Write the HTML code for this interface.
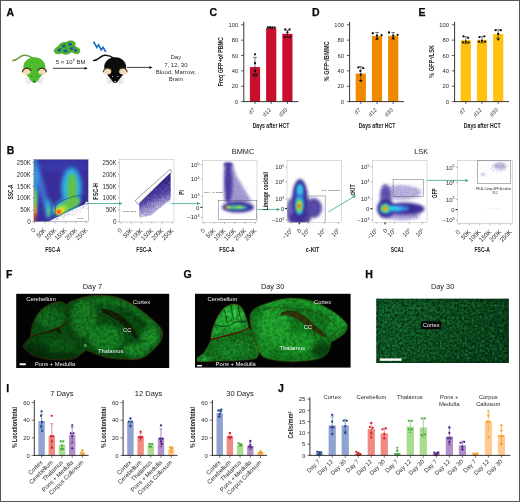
<!DOCTYPE html>
<html><head><meta charset="utf-8"><title>Figure</title>
<style>
html,body{margin:0;padding:0;background:#fff;}
svg{display:block;font-family:"Liberation Sans", sans-serif;}
</style></head><body>
<svg width="520" height="502" viewBox="0 0 520 502">
<rect x="0" y="0" width="520" height="502" fill="#fff"/>
<text transform="translate(6.40,15.80)" font-size="10.5" text-anchor="start" font-weight="bold" fill="#0a0a0a" stroke="#0a0a0a" stroke-width="0.25">A</text>
<g transform="translate(34.4,57.2)">
<path d="M-21.6,3.2 C-17,3.6 -15,-1.6 -10.6,-2.0 C-6.6,-2.4 -3.4,-0.6 -0.8,1.4" fill="none" stroke="#6b9b3a" stroke-width="1.5" stroke-linecap="round"/>
<path d="M0,0 C6.5,0 11.0,4.5 11.0,10 C11.0,15 6,19.5 2.8,24 C1.5,26.2 -1.5,26.2 -2.8,24 C-6,19.5 -11.0,15 -11.0,10 C-11.0,4.5 -6.5,0 0,0 Z" fill="#4dbb2c"/>
<ellipse cx="-7.8" cy="14.4" rx="3.9" ry="3.1" fill="#f0dcb4" transform="rotate(-14 -7.8 14.4)"/>
<path d="M-11.9,14.6 C-11.4,10.4 -5.6,9.8 -3.6,13.2" fill="none" stroke="#3a2a18" stroke-width="1.15" stroke-linecap="round"/>
<ellipse cx="7.8" cy="14.4" rx="3.9" ry="3.1" fill="#f0dcb4" transform="rotate(14 7.8 14.4)"/>
<path d="M11.9,14.6 C11.4,10.4 5.6,9.8 3.6,13.2" fill="none" stroke="#3a2a18" stroke-width="1.15" stroke-linecap="round"/>
<circle cx="-2.60" cy="19.40" r="0.5" fill="#1d5e10" />
<circle cx="2.60" cy="19.40" r="0.5" fill="#1d5e10" />
<circle cx="0.00" cy="24.30" r="0.75" fill="#1a1a1a" />
<path d="M-3.2,22.6 L-9.2,21.2 M-3.2,23.2 L-8.8,24.6 M-3.0,23.8 L-7.2,26.8" stroke="#8f8f8f" stroke-width="0.4" fill="none"/>
<path d="M3.2,22.6 L9.2,21.2 M3.2,23.2 L8.8,24.6 M3.0,23.8 L7.2,26.8" stroke="#8f8f8f" stroke-width="0.4" fill="none"/>
</g>
<g transform="translate(115.2,57.2)">
<path d="M-21.6,3.2 C-17,3.6 -15,-1.6 -10.6,-2.0 C-6.6,-2.4 -3.4,-0.6 -0.8,1.4" fill="none" stroke="#111111" stroke-width="1.5" stroke-linecap="round"/>
<path d="M0,0 C6.5,0 11.0,4.5 11.0,10 C11.0,15 6,19.5 2.8,24 C1.5,26.2 -1.5,26.2 -2.8,24 C-6,19.5 -11.0,15 -11.0,10 C-11.0,4.5 -6.5,0 0,0 Z" fill="#0b0b0b"/>
<ellipse cx="-7.8" cy="14.4" rx="3.9" ry="3.1" fill="#f0dcb4" transform="rotate(-14 -7.8 14.4)"/>
<path d="M-11.9,14.6 C-11.4,10.4 -5.6,9.8 -3.6,13.2" fill="none" stroke="#5a4028" stroke-width="1.15" stroke-linecap="round"/>
<ellipse cx="7.8" cy="14.4" rx="3.9" ry="3.1" fill="#f0dcb4" transform="rotate(14 7.8 14.4)"/>
<path d="M11.9,14.6 C11.4,10.4 5.6,9.8 3.6,13.2" fill="none" stroke="#5a4028" stroke-width="1.15" stroke-linecap="round"/>
<circle cx="-2.60" cy="19.40" r="0.5" fill="#ffffff" />
<circle cx="2.60" cy="19.40" r="0.5" fill="#ffffff" />
<circle cx="0.00" cy="24.30" r="0.75" fill="#f4c9c9" />
<path d="M-3.2,22.6 L-9.2,21.2 M-3.2,23.2 L-8.8,24.6 M-3.0,23.8 L-7.2,26.8" stroke="#8f8f8f" stroke-width="0.4" fill="none"/>
<path d="M3.2,22.6 L9.2,21.2 M3.2,23.2 L8.8,24.6 M3.0,23.8 L7.2,26.8" stroke="#8f8f8f" stroke-width="0.4" fill="none"/>
</g>
<ellipse cx="59.4" cy="50.0" rx="5.4" ry="3.5" fill="#4dbb2c" stroke="#37962a" stroke-width="0.6" transform="rotate(-20 59.4 50.0)"/>
<ellipse cx="63.6" cy="46.0" rx="5.0" ry="3.4" fill="#4dbb2c" stroke="#37962a" stroke-width="0.6" transform="rotate(-15 63.6 46.0)"/>
<ellipse cx="70.0" cy="44.2" rx="5.4" ry="3.3" fill="#4dbb2c" stroke="#37962a" stroke-width="0.6" transform="rotate(-8 70.0 44.2)"/>
<ellipse cx="65.4" cy="51.0" rx="5.6" ry="3.2" fill="#4dbb2c" stroke="#37962a" stroke-width="0.6" transform="rotate(5 65.4 51.0)"/>
<ellipse cx="71.4" cy="48.6" rx="5.2" ry="3.3" fill="#4dbb2c" stroke="#37962a" stroke-width="0.6" transform="rotate(-5 71.4 48.6)"/>
<ellipse cx="75.6" cy="50.4" rx="4.4" ry="3.2" fill="#4dbb2c" stroke="#37962a" stroke-width="0.6" transform="rotate(15 75.6 50.4)"/>
<ellipse cx="59.4" cy="50.0" rx="2.16" ry="1.61" fill="#27589b" transform="rotate(-20 59.4 50.0)"/>
<ellipse cx="63.6" cy="46.0" rx="2.00" ry="1.56" fill="#27589b" transform="rotate(-15 63.6 46.0)"/>
<ellipse cx="70.0" cy="44.2" rx="2.16" ry="1.52" fill="#27589b" transform="rotate(-8 70.0 44.2)"/>
<ellipse cx="65.4" cy="51.0" rx="2.24" ry="1.47" fill="#27589b" transform="rotate(5 65.4 51.0)"/>
<ellipse cx="71.4" cy="48.6" rx="2.08" ry="1.52" fill="#27589b" transform="rotate(-5 71.4 48.6)"/>
<ellipse cx="75.6" cy="50.4" rx="1.76" ry="1.47" fill="#27589b" transform="rotate(15 75.6 50.4)"/>
<text transform="translate(70.60,63.80)" font-size="6.0" text-anchor="middle" font-weight="normal" fill="#2e2e2e" >5 × 10<tspan font-size="3.8" dy="-2.4">6</tspan><tspan dy="2.4"> BM</tspan></text>
<line x1="53.00" y1="68.30" x2="84.90" y2="68.30" stroke="#111" stroke-width="0.8" />
<polygon points="87.80,68.30 84.60,69.80 84.60,66.80" fill="#111"/>
<polyline points="93.6,41.6 96.8,47.4 98.6,44.8 101.2,49.8 103.0,47.2 105.8,51.8" fill="none" stroke="#1f6fbf" stroke-width="1.7" stroke-linejoin="miter"/>
<line x1="127.00" y1="67.40" x2="149.70" y2="67.40" stroke="#111" stroke-width="0.8" />
<polygon points="152.60,67.40 149.40,68.90 149.40,65.90" fill="#111"/>
<text transform="translate(175.80,59.20)" font-size="6.0" text-anchor="middle" font-weight="normal" fill="#2e2e2e" >Day</text>
<text transform="translate(175.80,66.55)" font-size="6.0" text-anchor="middle" font-weight="normal" fill="#2e2e2e" >7, 12, 30</text>
<text transform="translate(175.80,73.90)" font-size="6.0" text-anchor="middle" font-weight="normal" fill="#2e2e2e" >Blood, Marrow,</text>
<text transform="translate(175.80,81.25)" font-size="6.0" text-anchor="middle" font-weight="normal" fill="#2e2e2e" >Brain</text>
<text transform="translate(209.50,15.80)" font-size="10.5" text-anchor="start" font-weight="bold" fill="#0a0a0a" stroke="#0a0a0a" stroke-width="0.25">C</text>
<rect x="249.90" y="67.04" width="10.20" height="34.56" fill="#c8102e" stroke="none" stroke-width="0.5" />
<line x1="255.00" y1="57.44" x2="255.00" y2="76.64" stroke="#111" stroke-width="0.55" />
<line x1="253.10" y1="57.44" x2="256.90" y2="57.44" stroke="#111" stroke-width="0.55" />
<line x1="253.10" y1="76.64" x2="256.90" y2="76.64" stroke="#111" stroke-width="0.55" />
<circle cx="255.00" cy="54.37" r="1.15" fill="#111" />
<circle cx="255.00" cy="63.20" r="1.15" fill="#111" />
<circle cx="253.60" cy="74.72" r="1.15" fill="#111" />
<circle cx="256.60" cy="74.72" r="1.15" fill="#111" />
<circle cx="255.00" cy="70.88" r="1.15" fill="#111" />
<line x1="255.00" y1="101.60" x2="255.00" y2="104.00" stroke="#231f20" stroke-width="0.7" />
<rect x="266.10" y="28.10" width="10.20" height="73.50" fill="#c8102e" stroke="none" stroke-width="0.5" />
<line x1="271.20" y1="27.49" x2="271.20" y2="28.72" stroke="#111" stroke-width="0.55" />
<line x1="269.30" y1="27.49" x2="273.10" y2="27.49" stroke="#111" stroke-width="0.55" />
<line x1="269.30" y1="28.72" x2="273.10" y2="28.72" stroke="#111" stroke-width="0.55" />
<circle cx="267.90" cy="27.49" r="1.15" fill="#111" />
<circle cx="270.10" cy="27.26" r="1.15" fill="#111" />
<circle cx="272.40" cy="27.49" r="1.15" fill="#111" />
<circle cx="274.60" cy="27.41" r="1.15" fill="#111" />
<line x1="271.20" y1="101.60" x2="271.20" y2="104.00" stroke="#231f20" stroke-width="0.7" />
<rect x="282.30" y="33.86" width="10.20" height="67.74" fill="#c8102e" stroke="none" stroke-width="0.5" />
<line x1="287.40" y1="30.41" x2="287.40" y2="37.32" stroke="#111" stroke-width="0.55" />
<line x1="285.50" y1="30.41" x2="289.30" y2="30.41" stroke="#111" stroke-width="0.55" />
<line x1="285.50" y1="37.32" x2="289.30" y2="37.32" stroke="#111" stroke-width="0.55" />
<circle cx="285.20" cy="29.41" r="1.15" fill="#111" />
<circle cx="289.60" cy="29.41" r="1.15" fill="#111" />
<circle cx="287.40" cy="32.48" r="1.15" fill="#111" />
<circle cx="284.80" cy="37.09" r="1.15" fill="#111" />
<circle cx="290.00" cy="37.09" r="1.15" fill="#111" />
<line x1="287.40" y1="101.60" x2="287.40" y2="104.00" stroke="#231f20" stroke-width="0.7" />
<line x1="243.80" y1="21.80" x2="243.80" y2="102.05" stroke="#231f20" stroke-width="0.9" />
<line x1="243.35" y1="101.60" x2="298.30" y2="101.60" stroke="#231f20" stroke-width="0.9" />
<line x1="241.00" y1="101.60" x2="243.80" y2="101.60" stroke="#231f20" stroke-width="0.7" />
<text transform="translate(238.20,103.70)" font-size="5.8" text-anchor="end" font-weight="normal" fill="#2a2a2a" >0</text>
<line x1="241.00" y1="86.24" x2="243.80" y2="86.24" stroke="#231f20" stroke-width="0.7" />
<text transform="translate(238.20,88.34)" font-size="5.8" text-anchor="end" font-weight="normal" fill="#2a2a2a" >20</text>
<line x1="241.00" y1="70.88" x2="243.80" y2="70.88" stroke="#231f20" stroke-width="0.7" />
<text transform="translate(238.20,72.98)" font-size="5.8" text-anchor="end" font-weight="normal" fill="#2a2a2a" >40</text>
<line x1="241.00" y1="55.52" x2="243.80" y2="55.52" stroke="#231f20" stroke-width="0.7" />
<text transform="translate(238.20,57.62)" font-size="5.8" text-anchor="end" font-weight="normal" fill="#2a2a2a" >60</text>
<line x1="241.00" y1="40.16" x2="243.80" y2="40.16" stroke="#231f20" stroke-width="0.7" />
<text transform="translate(238.20,42.26)" font-size="5.8" text-anchor="end" font-weight="normal" fill="#2a2a2a" >80</text>
<line x1="241.00" y1="24.80" x2="243.80" y2="24.80" stroke="#231f20" stroke-width="0.7" />
<text transform="translate(238.20,26.90)" font-size="5.8" text-anchor="end" font-weight="normal" fill="#2a2a2a" >100</text>
<text transform="translate(255.20,110.40) rotate(-45)" font-size="5.6" text-anchor="end" font-weight="normal" fill="#2a2a2a" >d7</text>
<text transform="translate(271.40,110.40) rotate(-45)" font-size="5.6" text-anchor="end" font-weight="normal" fill="#2a2a2a" >d12</text>
<text transform="translate(287.60,110.40) rotate(-45)" font-size="5.6" text-anchor="end" font-weight="normal" fill="#2a2a2a" >d30</text>
<text transform="translate(271.00,128.20)" font-size="7.4" text-anchor="middle" font-weight="bold" fill="#222"  textLength="36.7" lengthAdjust="spacingAndGlyphs">Days after HCT</text>
<text transform="translate(223.40,61.70) rotate(-90)" font-size="6.9" text-anchor="middle" font-weight="bold" fill="#222"  textLength="49" lengthAdjust="spacingAndGlyphs">Freq GFP+of PBMC</text>
<text transform="translate(312.00,15.80)" font-size="10.5" text-anchor="start" font-weight="bold" fill="#0a0a0a" stroke="#0a0a0a" stroke-width="0.25">D</text>
<rect x="355.70" y="73.57" width="10.20" height="28.03" fill="#ef8a00" stroke="none" stroke-width="0.5" />
<line x1="360.80" y1="66.66" x2="360.80" y2="80.48" stroke="#111" stroke-width="0.55" />
<line x1="358.90" y1="66.66" x2="362.70" y2="66.66" stroke="#111" stroke-width="0.55" />
<line x1="358.90" y1="80.48" x2="362.70" y2="80.48" stroke="#111" stroke-width="0.55" />
<circle cx="358.40" cy="67.42" r="1.15" fill="#111" />
<circle cx="363.20" cy="68.19" r="1.15" fill="#111" />
<circle cx="360.80" cy="74.72" r="1.15" fill="#111" />
<circle cx="360.80" cy="80.86" r="1.15" fill="#111" />
<circle cx="360.30" cy="70.88" r="1.15" fill="#111" />
<line x1="360.80" y1="101.60" x2="360.80" y2="104.00" stroke="#231f20" stroke-width="0.7" />
<rect x="371.90" y="35.94" width="10.20" height="65.66" fill="#ef8a00" stroke="none" stroke-width="0.5" />
<line x1="377.00" y1="32.48" x2="377.00" y2="39.39" stroke="#111" stroke-width="0.55" />
<line x1="375.10" y1="32.48" x2="378.90" y2="32.48" stroke="#111" stroke-width="0.55" />
<line x1="375.10" y1="39.39" x2="378.90" y2="39.39" stroke="#111" stroke-width="0.55" />
<circle cx="372.80" cy="33.25" r="1.15" fill="#111" />
<circle cx="377.00" cy="38.62" r="1.15" fill="#111" />
<circle cx="381.60" cy="35.17" r="1.15" fill="#111" />
<circle cx="377.00" cy="35.55" r="1.15" fill="#111" />
<line x1="377.00" y1="101.60" x2="377.00" y2="104.00" stroke="#231f20" stroke-width="0.7" />
<rect x="388.10" y="35.78" width="10.20" height="65.82" fill="#ef8a00" stroke="none" stroke-width="0.5" />
<line x1="393.20" y1="32.56" x2="393.20" y2="39.01" stroke="#111" stroke-width="0.55" />
<line x1="391.30" y1="32.56" x2="395.10" y2="32.56" stroke="#111" stroke-width="0.55" />
<line x1="391.30" y1="39.01" x2="395.10" y2="39.01" stroke="#111" stroke-width="0.55" />
<circle cx="389.00" cy="32.48" r="1.15" fill="#111" />
<circle cx="393.20" cy="38.24" r="1.15" fill="#111" />
<circle cx="397.60" cy="34.78" r="1.15" fill="#111" />
<circle cx="393.20" cy="35.55" r="1.15" fill="#111" />
<line x1="393.20" y1="101.60" x2="393.20" y2="104.00" stroke="#231f20" stroke-width="0.7" />
<line x1="349.60" y1="21.80" x2="349.60" y2="102.05" stroke="#231f20" stroke-width="0.9" />
<line x1="349.15" y1="101.60" x2="404.00" y2="101.60" stroke="#231f20" stroke-width="0.9" />
<line x1="346.80" y1="101.60" x2="349.60" y2="101.60" stroke="#231f20" stroke-width="0.7" />
<text transform="translate(344.00,103.70)" font-size="5.8" text-anchor="end" font-weight="normal" fill="#2a2a2a" >0</text>
<line x1="346.80" y1="86.24" x2="349.60" y2="86.24" stroke="#231f20" stroke-width="0.7" />
<text transform="translate(344.00,88.34)" font-size="5.8" text-anchor="end" font-weight="normal" fill="#2a2a2a" >20</text>
<line x1="346.80" y1="70.88" x2="349.60" y2="70.88" stroke="#231f20" stroke-width="0.7" />
<text transform="translate(344.00,72.98)" font-size="5.8" text-anchor="end" font-weight="normal" fill="#2a2a2a" >40</text>
<line x1="346.80" y1="55.52" x2="349.60" y2="55.52" stroke="#231f20" stroke-width="0.7" />
<text transform="translate(344.00,57.62)" font-size="5.8" text-anchor="end" font-weight="normal" fill="#2a2a2a" >60</text>
<line x1="346.80" y1="40.16" x2="349.60" y2="40.16" stroke="#231f20" stroke-width="0.7" />
<text transform="translate(344.00,42.26)" font-size="5.8" text-anchor="end" font-weight="normal" fill="#2a2a2a" >80</text>
<line x1="346.80" y1="24.80" x2="349.60" y2="24.80" stroke="#231f20" stroke-width="0.7" />
<text transform="translate(344.00,26.90)" font-size="5.8" text-anchor="end" font-weight="normal" fill="#2a2a2a" >100</text>
<text transform="translate(361.00,110.40) rotate(-45)" font-size="5.6" text-anchor="end" font-weight="normal" fill="#2a2a2a" >d7</text>
<text transform="translate(377.20,110.40) rotate(-45)" font-size="5.6" text-anchor="end" font-weight="normal" fill="#2a2a2a" >d12</text>
<text transform="translate(393.40,110.40) rotate(-45)" font-size="5.6" text-anchor="end" font-weight="normal" fill="#2a2a2a" >d30</text>
<text transform="translate(377.00,128.20)" font-size="7.4" text-anchor="middle" font-weight="bold" fill="#222"  textLength="36.7" lengthAdjust="spacingAndGlyphs">Days after HCT</text>
<text transform="translate(328.90,61.40) rotate(-90)" font-size="6.9" text-anchor="middle" font-weight="bold" fill="#222"  textLength="40" lengthAdjust="spacingAndGlyphs">% GFP<tspan font-size="4.4" dy="-2.4">+</tspan><tspan dy="2.4">/BMMC</tspan></text>
<text transform="translate(418.60,15.80)" font-size="10.5" text-anchor="start" font-weight="bold" fill="#0a0a0a" stroke="#0a0a0a" stroke-width="0.25">E</text>
<rect x="460.70" y="40.16" width="10.20" height="61.44" fill="#ffc20e" stroke="none" stroke-width="0.5" />
<line x1="465.80" y1="36.70" x2="465.80" y2="43.62" stroke="#111" stroke-width="0.55" />
<line x1="463.90" y1="36.70" x2="467.70" y2="36.70" stroke="#111" stroke-width="0.55" />
<line x1="463.90" y1="43.62" x2="467.70" y2="43.62" stroke="#111" stroke-width="0.55" />
<circle cx="463.40" cy="36.32" r="1.15" fill="#111" />
<circle cx="468.20" cy="37.86" r="1.15" fill="#111" />
<circle cx="465.80" cy="41.70" r="1.15" fill="#111" />
<circle cx="463.00" cy="42.46" r="1.15" fill="#111" />
<circle cx="468.60" cy="42.46" r="1.15" fill="#111" />
<line x1="465.80" y1="101.60" x2="465.80" y2="104.00" stroke="#231f20" stroke-width="0.7" />
<rect x="476.90" y="39.78" width="10.20" height="61.82" fill="#ffc20e" stroke="none" stroke-width="0.5" />
<line x1="482.00" y1="36.70" x2="482.00" y2="42.85" stroke="#111" stroke-width="0.55" />
<line x1="480.10" y1="36.70" x2="483.90" y2="36.70" stroke="#111" stroke-width="0.55" />
<line x1="480.10" y1="42.85" x2="483.90" y2="42.85" stroke="#111" stroke-width="0.55" />
<circle cx="479.40" cy="37.09" r="1.15" fill="#111" />
<circle cx="484.40" cy="36.32" r="1.15" fill="#111" />
<circle cx="482.00" cy="40.93" r="1.15" fill="#111" />
<circle cx="479.00" cy="41.70" r="1.15" fill="#111" />
<circle cx="485.00" cy="41.70" r="1.15" fill="#111" />
<line x1="482.00" y1="101.60" x2="482.00" y2="104.00" stroke="#231f20" stroke-width="0.7" />
<rect x="493.10" y="34.02" width="10.20" height="67.58" fill="#ffc20e" stroke="none" stroke-width="0.5" />
<line x1="498.20" y1="29.79" x2="498.20" y2="38.24" stroke="#111" stroke-width="0.55" />
<line x1="496.30" y1="29.79" x2="500.10" y2="29.79" stroke="#111" stroke-width="0.55" />
<line x1="496.30" y1="38.24" x2="500.10" y2="38.24" stroke="#111" stroke-width="0.55" />
<circle cx="495.60" cy="30.18" r="1.15" fill="#111" />
<circle cx="500.80" cy="30.18" r="1.15" fill="#111" />
<circle cx="498.20" cy="34.02" r="1.15" fill="#111" />
<circle cx="498.20" cy="39.39" r="1.15" fill="#111" />
<line x1="498.20" y1="101.60" x2="498.20" y2="104.00" stroke="#231f20" stroke-width="0.7" />
<line x1="454.60" y1="21.80" x2="454.60" y2="102.05" stroke="#231f20" stroke-width="0.9" />
<line x1="454.15" y1="101.60" x2="509.00" y2="101.60" stroke="#231f20" stroke-width="0.9" />
<line x1="451.80" y1="101.60" x2="454.60" y2="101.60" stroke="#231f20" stroke-width="0.7" />
<text transform="translate(449.00,103.70)" font-size="5.8" text-anchor="end" font-weight="normal" fill="#2a2a2a" >0</text>
<line x1="451.80" y1="86.24" x2="454.60" y2="86.24" stroke="#231f20" stroke-width="0.7" />
<text transform="translate(449.00,88.34)" font-size="5.8" text-anchor="end" font-weight="normal" fill="#2a2a2a" >20</text>
<line x1="451.80" y1="70.88" x2="454.60" y2="70.88" stroke="#231f20" stroke-width="0.7" />
<text transform="translate(449.00,72.98)" font-size="5.8" text-anchor="end" font-weight="normal" fill="#2a2a2a" >40</text>
<line x1="451.80" y1="55.52" x2="454.60" y2="55.52" stroke="#231f20" stroke-width="0.7" />
<text transform="translate(449.00,57.62)" font-size="5.8" text-anchor="end" font-weight="normal" fill="#2a2a2a" >60</text>
<line x1="451.80" y1="40.16" x2="454.60" y2="40.16" stroke="#231f20" stroke-width="0.7" />
<text transform="translate(449.00,42.26)" font-size="5.8" text-anchor="end" font-weight="normal" fill="#2a2a2a" >80</text>
<line x1="451.80" y1="24.80" x2="454.60" y2="24.80" stroke="#231f20" stroke-width="0.7" />
<text transform="translate(449.00,26.90)" font-size="5.8" text-anchor="end" font-weight="normal" fill="#2a2a2a" >100</text>
<text transform="translate(466.00,110.40) rotate(-45)" font-size="5.6" text-anchor="end" font-weight="normal" fill="#2a2a2a" >d7</text>
<text transform="translate(482.20,110.40) rotate(-45)" font-size="5.6" text-anchor="end" font-weight="normal" fill="#2a2a2a" >d12</text>
<text transform="translate(498.40,110.40) rotate(-45)" font-size="5.6" text-anchor="end" font-weight="normal" fill="#2a2a2a" >d30</text>
<text transform="translate(482.20,128.20)" font-size="7.4" text-anchor="middle" font-weight="bold" fill="#222"  textLength="36.7" lengthAdjust="spacingAndGlyphs">Days after HCT</text>
<text transform="translate(434.00,61.40) rotate(-90)" font-size="6.9" text-anchor="middle" font-weight="bold" fill="#222"  textLength="32.8" lengthAdjust="spacingAndGlyphs">% GFP<tspan font-size="4.4" dy="-2.4">+</tspan><tspan dy="2.4">/LSK</tspan></text>
<defs>
<filter color-interpolation-filters="sRGB" id="b05" x="-30%" y="-30%" width="160%" height="160%"><feGaussianBlur stdDeviation="0.5"/></filter>
<filter color-interpolation-filters="sRGB" id="b1" x="-30%" y="-30%" width="160%" height="160%"><feGaussianBlur stdDeviation="1"/></filter>
<filter color-interpolation-filters="sRGB" id="b15" x="-30%" y="-30%" width="160%" height="160%"><feGaussianBlur stdDeviation="1.5"/></filter>
<filter color-interpolation-filters="sRGB" id="b2" x="-40%" y="-40%" width="180%" height="180%"><feGaussianBlur stdDeviation="2"/></filter>
<filter color-interpolation-filters="sRGB" id="b3" x="-50%" y="-50%" width="200%" height="200%"><feGaussianBlur stdDeviation="3"/></filter>
<filter color-interpolation-filters="sRGB" id="b4" x="-50%" y="-50%" width="200%" height="200%"><feGaussianBlur stdDeviation="4"/></filter>
</defs>
<text transform="translate(6.80,154.10)" font-size="10.5" text-anchor="start" font-weight="bold" fill="#0a0a0a" stroke="#0a0a0a" stroke-width="0.25">B</text>
<clipPath id="cp1"><rect x="33.8" y="159.3" width="54.60000000000001" height="62.5"/></clipPath>
<g clip-path="url(#cp1)">
<rect x="33.80" y="159.30" width="54.60" height="62.50" fill="#3a2c9c" stroke="none" stroke-width="0.5" />
<g filter="url(#b2)">
<ellipse cx="62" cy="166" rx="26" ry="6" fill="#3545b6" opacity="0.5"/>
<ellipse cx="35.0" cy="184" rx="2.2" ry="30" fill="#38bde8" opacity="1"/>
<ellipse cx="42.5" cy="190" rx="2.6" ry="27" fill="#3a8fe0" opacity="0.85" transform="rotate(-13 42.5 190)"/>
<ellipse cx="48.4" cy="209" rx="2.4" ry="10" fill="#35c5e8" opacity="1"/>
<ellipse cx="71.5" cy="188" rx="10.0" ry="20" fill="#2fb6e6" opacity="1"/>
<ellipse cx="66" cy="207" rx="14" ry="8" fill="#2fb6e6" opacity="1" transform="rotate(-22 66 207)"/>
</g>
<g filter="url(#b1)">
<ellipse cx="35.2" cy="203" rx="1.7" ry="15" fill="#7fd14a" opacity="1"/>
<ellipse cx="34.9" cy="213" rx="1.5" ry="9" fill="#f2a020" opacity="1"/>
<ellipse cx="34.7" cy="217.6" rx="1.2" ry="4.6" fill="#e83a1a" opacity="1"/>
<ellipse cx="48.4" cy="211.6" rx="1.1" ry="5.4" fill="#63c76a" opacity="1"/>
<ellipse cx="72.0" cy="189" rx="4.8" ry="15.5" fill="#63c04a" opacity="1"/>
<ellipse cx="69.5" cy="204.5" rx="11.5" ry="5.0" fill="#63c04a" opacity="1" transform="rotate(-24 69.5 204.5)"/>
<ellipse cx="61.0" cy="210.0" rx="7.2" ry="4.8" fill="#94da48" opacity="1" transform="rotate(-20 61.0 210.0)"/>
<ellipse cx="59.6" cy="211.1" rx="4.6" ry="3.5" fill="#f4e020" opacity="1" transform="rotate(-15 59.6 211.1)"/>
<ellipse cx="58.9" cy="211.7" rx="2.3" ry="2.0" fill="#e8301a" opacity="1"/>
</g>
<path d="M47,222.5 L54,218.6 L88.6,202.6 L88.6,222.5 Z" fill="#fff" filter="url(#b05)"/>
<circle cx="62.31" cy="217.47" r="0.28" fill="#5b46b0" opacity="0.8"/>
<circle cx="70.36" cy="212.28" r="0.28" fill="#5b46b0" opacity="0.8"/>
<circle cx="69.28" cy="212.85" r="0.28" fill="#5b46b0" opacity="0.8"/>
<circle cx="51.42" cy="221.28" r="0.28" fill="#5b46b0" opacity="0.8"/>
<circle cx="53.45" cy="219.88" r="0.28" fill="#5b46b0" opacity="0.8"/>
<circle cx="66.13" cy="214.25" r="0.28" fill="#5b46b0" opacity="0.8"/>
<circle cx="58.48" cy="218.29" r="0.28" fill="#5b46b0" opacity="0.8"/>
<circle cx="73.84" cy="213.11" r="0.28" fill="#5b46b0" opacity="0.8"/>
<circle cx="65.07" cy="215.18" r="0.28" fill="#5b46b0" opacity="0.8"/>
<circle cx="87.10" cy="208.58" r="0.28" fill="#5b46b0" opacity="0.8"/>
<circle cx="61.01" cy="217.41" r="0.28" fill="#5b46b0" opacity="0.8"/>
<circle cx="55.48" cy="220.10" r="0.28" fill="#5b46b0" opacity="0.8"/>
<circle cx="81.01" cy="208.22" r="0.28" fill="#5b46b0" opacity="0.8"/>
<circle cx="56.87" cy="220.93" r="0.28" fill="#5b46b0" opacity="0.8"/>
<circle cx="64.15" cy="216.27" r="0.28" fill="#5b46b0" opacity="0.8"/>
<circle cx="70.81" cy="212.30" r="0.28" fill="#5b46b0" opacity="0.8"/>
<circle cx="57.83" cy="217.82" r="0.28" fill="#5b46b0" opacity="0.8"/>
<circle cx="75.86" cy="211.08" r="0.28" fill="#5b46b0" opacity="0.8"/>
<circle cx="72.25" cy="211.78" r="0.28" fill="#5b46b0" opacity="0.8"/>
<circle cx="67.22" cy="214.49" r="0.28" fill="#5b46b0" opacity="0.8"/>
<circle cx="76.56" cy="212.94" r="0.28" fill="#5b46b0" opacity="0.8"/>
<circle cx="59.28" cy="219.45" r="0.28" fill="#5b46b0" opacity="0.8"/>
<circle cx="83.26" cy="207.12" r="0.28" fill="#5b46b0" opacity="0.8"/>
<circle cx="77.72" cy="209.94" r="0.28" fill="#5b46b0" opacity="0.8"/>
<circle cx="65.89" cy="213.85" r="0.28" fill="#5b46b0" opacity="0.8"/>
<circle cx="68.58" cy="213.93" r="0.28" fill="#5b46b0" opacity="0.8"/>
<circle cx="71.77" cy="214.64" r="0.28" fill="#5b46b0" opacity="0.8"/>
<circle cx="83.27" cy="207.24" r="0.28" fill="#5b46b0" opacity="0.8"/>
<circle cx="72.59" cy="214.12" r="0.28" fill="#5b46b0" opacity="0.8"/>
<circle cx="72.04" cy="215.39" r="0.28" fill="#5b46b0" opacity="0.8"/>
<circle cx="85.90" cy="205.84" r="0.28" fill="#5b46b0" opacity="0.8"/>
<circle cx="68.02" cy="213.25" r="0.28" fill="#5b46b0" opacity="0.8"/>
<circle cx="76.66" cy="209.57" r="0.28" fill="#5b46b0" opacity="0.8"/>
<circle cx="74.59" cy="214.24" r="0.28" fill="#5b46b0" opacity="0.8"/>
<circle cx="60.81" cy="216.32" r="0.28" fill="#5b46b0" opacity="0.8"/>
<circle cx="64.66" cy="214.61" r="0.28" fill="#5b46b0" opacity="0.8"/>
<circle cx="67.54" cy="213.48" r="0.28" fill="#5b46b0" opacity="0.8"/>
<circle cx="56.39" cy="218.78" r="0.28" fill="#5b46b0" opacity="0.8"/>
<circle cx="79.19" cy="208.23" r="0.28" fill="#5b46b0" opacity="0.8"/>
<circle cx="54.91" cy="218.87" r="0.28" fill="#5b46b0" opacity="0.8"/>
<circle cx="83.11" cy="208.26" r="0.28" fill="#5b46b0" opacity="0.8"/>
<circle cx="83.57" cy="206.61" r="0.28" fill="#5b46b0" opacity="0.8"/>
<circle cx="81.13" cy="208.05" r="0.28" fill="#5b46b0" opacity="0.8"/>
<circle cx="65.78" cy="215.30" r="0.28" fill="#5b46b0" opacity="0.8"/>
<circle cx="63.63" cy="219.34" r="0.28" fill="#5b46b0" opacity="0.8"/>
<circle cx="56.70" cy="218.22" r="0.28" fill="#5b46b0" opacity="0.8"/>
<circle cx="68.43" cy="214.36" r="0.28" fill="#5b46b0" opacity="0.8"/>
<circle cx="72.39" cy="210.82" r="0.28" fill="#5b46b0" opacity="0.8"/>
<circle cx="65.92" cy="213.99" r="0.28" fill="#5b46b0" opacity="0.8"/>
<circle cx="64.03" cy="220.07" r="0.28" fill="#5b46b0" opacity="0.8"/>
<circle cx="76.24" cy="211.43" r="0.28" fill="#5b46b0" opacity="0.8"/>
<circle cx="69.59" cy="214.75" r="0.28" fill="#5b46b0" opacity="0.8"/>
<circle cx="84.18" cy="206.29" r="0.28" fill="#5b46b0" opacity="0.8"/>
<circle cx="80.32" cy="211.96" r="0.28" fill="#5b46b0" opacity="0.8"/>
<circle cx="64.91" cy="215.14" r="0.28" fill="#5b46b0" opacity="0.8"/>
<circle cx="74.10" cy="210.68" r="0.28" fill="#5b46b0" opacity="0.8"/>
<circle cx="56.17" cy="218.94" r="0.28" fill="#5b46b0" opacity="0.8"/>
<circle cx="62.92" cy="215.20" r="0.28" fill="#5b46b0" opacity="0.8"/>
<circle cx="55.75" cy="218.47" r="0.28" fill="#5b46b0" opacity="0.8"/>
<circle cx="53.86" cy="219.68" r="0.28" fill="#5b46b0" opacity="0.8"/>
<circle cx="83.22" cy="206.23" r="0.28" fill="#5b46b0" opacity="0.8"/>
<circle cx="73.33" cy="211.46" r="0.28" fill="#5b46b0" opacity="0.8"/>
<circle cx="63.20" cy="216.50" r="0.28" fill="#5b46b0" opacity="0.8"/>
<circle cx="63.84" cy="218.08" r="0.28" fill="#5b46b0" opacity="0.8"/>
<circle cx="87.74" cy="207.00" r="0.28" fill="#5b46b0" opacity="0.8"/>
<circle cx="67.71" cy="213.97" r="0.28" fill="#5b46b0" opacity="0.8"/>
<circle cx="53.88" cy="219.42" r="0.28" fill="#5b46b0" opacity="0.8"/>
<circle cx="63.02" cy="215.53" r="0.28" fill="#5b46b0" opacity="0.8"/>
<circle cx="55.57" cy="219.43" r="0.28" fill="#5b46b0" opacity="0.8"/>
<circle cx="70.64" cy="214.50" r="0.28" fill="#5b46b0" opacity="0.8"/>
<circle cx="87.18" cy="204.49" r="0.28" fill="#5b46b0" opacity="0.8"/>
<circle cx="82.81" cy="206.63" r="0.28" fill="#5b46b0" opacity="0.8"/>
<circle cx="63.93" cy="216.45" r="0.28" fill="#5b46b0" opacity="0.8"/>
<circle cx="56.35" cy="218.59" r="0.28" fill="#5b46b0" opacity="0.8"/>
<circle cx="79.60" cy="210.41" r="0.28" fill="#5b46b0" opacity="0.8"/>
<circle cx="62.53" cy="216.08" r="0.28" fill="#5b46b0" opacity="0.8"/>
<circle cx="87.43" cy="208.21" r="0.28" fill="#5b46b0" opacity="0.8"/>
<circle cx="82.40" cy="207.73" r="0.28" fill="#5b46b0" opacity="0.8"/>
<circle cx="78.12" cy="212.33" r="0.28" fill="#5b46b0" opacity="0.8"/>
<circle cx="58.62" cy="219.37" r="0.28" fill="#5b46b0" opacity="0.8"/>
<circle cx="51.10" cy="220.84" r="0.28" fill="#5b46b0" opacity="0.8"/>
<circle cx="51.06" cy="220.95" r="0.28" fill="#5b46b0" opacity="0.8"/>
<circle cx="76.32" cy="210.82" r="0.28" fill="#5b46b0" opacity="0.8"/>
<circle cx="86.35" cy="209.72" r="0.28" fill="#5b46b0" opacity="0.8"/>
<circle cx="87.55" cy="205.67" r="0.28" fill="#5b46b0" opacity="0.8"/>
<circle cx="86.29" cy="205.52" r="0.28" fill="#5b46b0" opacity="0.8"/>
<circle cx="58.62" cy="218.41" r="0.28" fill="#5b46b0" opacity="0.8"/>
<circle cx="57.47" cy="218.61" r="0.28" fill="#5b46b0" opacity="0.8"/>
<circle cx="84.21" cy="208.58" r="0.28" fill="#5b46b0" opacity="0.8"/>
<circle cx="81.94" cy="209.87" r="0.28" fill="#5b46b0" opacity="0.8"/>
<circle cx="80.39" cy="207.57" r="0.28" fill="#5b46b0" opacity="0.8"/>
<circle cx="79.73" cy="211.88" r="0.28" fill="#5b46b0" opacity="0.8"/>
<circle cx="78.51" cy="209.48" r="0.28" fill="#5b46b0" opacity="0.8"/>
<circle cx="79.99" cy="207.51" r="0.28" fill="#5b46b0" opacity="0.8"/>
<circle cx="62.64" cy="217.30" r="0.28" fill="#5b46b0" opacity="0.8"/>
<circle cx="65.04" cy="220.26" r="0.28" fill="#5b46b0" opacity="0.8"/>
<circle cx="65.25" cy="217.73" r="0.28" fill="#5b46b0" opacity="0.8"/>
<circle cx="56.46" cy="219.39" r="0.28" fill="#5b46b0" opacity="0.8"/>
<circle cx="80.65" cy="211.24" r="0.28" fill="#5b46b0" opacity="0.8"/>
</g>
<rect x="33.80" y="159.30" width="54.60" height="62.50" fill="none" stroke="#8a8a8a" stroke-width="0.35" />
<path d="M55.8,204.6 L60.8,201 L73,196.6 L81,195.2 L85.4,198.2 L86,201.4 L75,207 L64,212.6 L58.7,216.6 L55,215.3 Z" fill="none" stroke="#1a1a3a" stroke-width="0.45"/>
<text transform="translate(80.40,218.60)" font-size="2.5" text-anchor="middle" font-weight="normal" fill="#2a2a2a" >Cells</text>
<line x1="34.40" y1="221.80" x2="34.40" y2="223.40" stroke="#555" stroke-width="0.45" />
<line x1="36.48" y1="221.80" x2="36.48" y2="222.60" stroke="#888" stroke-width="0.3" />
<line x1="38.56" y1="221.80" x2="38.56" y2="222.60" stroke="#888" stroke-width="0.3" />
<line x1="40.64" y1="221.80" x2="40.64" y2="222.60" stroke="#888" stroke-width="0.3" />
<line x1="42.72" y1="221.80" x2="42.72" y2="222.60" stroke="#888" stroke-width="0.3" />
<text transform="translate(36.00,230.60) rotate(-45)" font-size="6.3" text-anchor="end" font-weight="normal" fill="#2a2a2a" >0</text>
<line x1="44.80" y1="221.80" x2="44.80" y2="223.40" stroke="#555" stroke-width="0.45" />
<line x1="46.88" y1="221.80" x2="46.88" y2="222.60" stroke="#888" stroke-width="0.3" />
<line x1="48.96" y1="221.80" x2="48.96" y2="222.60" stroke="#888" stroke-width="0.3" />
<line x1="51.04" y1="221.80" x2="51.04" y2="222.60" stroke="#888" stroke-width="0.3" />
<line x1="53.12" y1="221.80" x2="53.12" y2="222.60" stroke="#888" stroke-width="0.3" />
<text transform="translate(46.40,230.60) rotate(-45)" font-size="6.3" text-anchor="end" font-weight="normal" fill="#2a2a2a"  textLength="10.6" lengthAdjust="spacingAndGlyphs">50K</text>
<line x1="55.20" y1="221.80" x2="55.20" y2="223.40" stroke="#555" stroke-width="0.45" />
<line x1="57.28" y1="221.80" x2="57.28" y2="222.60" stroke="#888" stroke-width="0.3" />
<line x1="59.36" y1="221.80" x2="59.36" y2="222.60" stroke="#888" stroke-width="0.3" />
<line x1="61.44" y1="221.80" x2="61.44" y2="222.60" stroke="#888" stroke-width="0.3" />
<line x1="63.52" y1="221.80" x2="63.52" y2="222.60" stroke="#888" stroke-width="0.3" />
<text transform="translate(56.80,230.60) rotate(-45)" font-size="6.3" text-anchor="end" font-weight="normal" fill="#2a2a2a"  textLength="14.0" lengthAdjust="spacingAndGlyphs">100K</text>
<line x1="65.60" y1="221.80" x2="65.60" y2="223.40" stroke="#555" stroke-width="0.45" />
<line x1="67.68" y1="221.80" x2="67.68" y2="222.60" stroke="#888" stroke-width="0.3" />
<line x1="69.76" y1="221.80" x2="69.76" y2="222.60" stroke="#888" stroke-width="0.3" />
<line x1="71.84" y1="221.80" x2="71.84" y2="222.60" stroke="#888" stroke-width="0.3" />
<line x1="73.92" y1="221.80" x2="73.92" y2="222.60" stroke="#888" stroke-width="0.3" />
<text transform="translate(67.20,230.60) rotate(-45)" font-size="6.3" text-anchor="end" font-weight="normal" fill="#2a2a2a"  textLength="14.0" lengthAdjust="spacingAndGlyphs">150K</text>
<line x1="76.00" y1="221.80" x2="76.00" y2="223.40" stroke="#555" stroke-width="0.45" />
<line x1="78.08" y1="221.80" x2="78.08" y2="222.60" stroke="#888" stroke-width="0.3" />
<line x1="80.16" y1="221.80" x2="80.16" y2="222.60" stroke="#888" stroke-width="0.3" />
<line x1="82.24" y1="221.80" x2="82.24" y2="222.60" stroke="#888" stroke-width="0.3" />
<line x1="84.32" y1="221.80" x2="84.32" y2="222.60" stroke="#888" stroke-width="0.3" />
<text transform="translate(77.60,230.60) rotate(-45)" font-size="6.3" text-anchor="end" font-weight="normal" fill="#2a2a2a"  textLength="14.0" lengthAdjust="spacingAndGlyphs">200K</text>
<line x1="86.40" y1="221.80" x2="86.40" y2="223.40" stroke="#555" stroke-width="0.45" />
<text transform="translate(88.00,230.60) rotate(-45)" font-size="6.3" text-anchor="end" font-weight="normal" fill="#2a2a2a"  textLength="14.0" lengthAdjust="spacingAndGlyphs">250K</text>
<line x1="32.20" y1="221.80" x2="33.80" y2="221.80" stroke="#555" stroke-width="0.45" />
<line x1="33.00" y1="219.43" x2="33.80" y2="219.43" stroke="#888" stroke-width="0.3" />
<line x1="33.00" y1="217.06" x2="33.80" y2="217.06" stroke="#888" stroke-width="0.3" />
<line x1="33.00" y1="214.69" x2="33.80" y2="214.69" stroke="#888" stroke-width="0.3" />
<line x1="33.00" y1="212.32" x2="33.80" y2="212.32" stroke="#888" stroke-width="0.3" />
<text transform="translate(30.80,224.10)" font-size="6.3" text-anchor="end" font-weight="normal" fill="#2a2a2a" >0</text>
<line x1="32.20" y1="209.95" x2="33.80" y2="209.95" stroke="#555" stroke-width="0.45" />
<line x1="33.00" y1="207.58" x2="33.80" y2="207.58" stroke="#888" stroke-width="0.3" />
<line x1="33.00" y1="205.21" x2="33.80" y2="205.21" stroke="#888" stroke-width="0.3" />
<line x1="33.00" y1="202.84" x2="33.80" y2="202.84" stroke="#888" stroke-width="0.3" />
<line x1="33.00" y1="200.47" x2="33.80" y2="200.47" stroke="#888" stroke-width="0.3" />
<text transform="translate(30.80,212.25)" font-size="6.3" text-anchor="end" font-weight="normal" fill="#2a2a2a"  textLength="10.6" lengthAdjust="spacingAndGlyphs">50K</text>
<line x1="32.20" y1="198.10" x2="33.80" y2="198.10" stroke="#555" stroke-width="0.45" />
<line x1="33.00" y1="195.73" x2="33.80" y2="195.73" stroke="#888" stroke-width="0.3" />
<line x1="33.00" y1="193.36" x2="33.80" y2="193.36" stroke="#888" stroke-width="0.3" />
<line x1="33.00" y1="190.99" x2="33.80" y2="190.99" stroke="#888" stroke-width="0.3" />
<line x1="33.00" y1="188.62" x2="33.80" y2="188.62" stroke="#888" stroke-width="0.3" />
<text transform="translate(30.80,200.40)" font-size="6.3" text-anchor="end" font-weight="normal" fill="#2a2a2a"  textLength="14.0" lengthAdjust="spacingAndGlyphs">100K</text>
<line x1="32.20" y1="186.25" x2="33.80" y2="186.25" stroke="#555" stroke-width="0.45" />
<line x1="33.00" y1="183.88" x2="33.80" y2="183.88" stroke="#888" stroke-width="0.3" />
<line x1="33.00" y1="181.51" x2="33.80" y2="181.51" stroke="#888" stroke-width="0.3" />
<line x1="33.00" y1="179.14" x2="33.80" y2="179.14" stroke="#888" stroke-width="0.3" />
<line x1="33.00" y1="176.77" x2="33.80" y2="176.77" stroke="#888" stroke-width="0.3" />
<text transform="translate(30.80,188.55)" font-size="6.3" text-anchor="end" font-weight="normal" fill="#2a2a2a"  textLength="14.0" lengthAdjust="spacingAndGlyphs">150K</text>
<line x1="32.20" y1="174.40" x2="33.80" y2="174.40" stroke="#555" stroke-width="0.45" />
<line x1="33.00" y1="172.03" x2="33.80" y2="172.03" stroke="#888" stroke-width="0.3" />
<line x1="33.00" y1="169.66" x2="33.80" y2="169.66" stroke="#888" stroke-width="0.3" />
<line x1="33.00" y1="167.29" x2="33.80" y2="167.29" stroke="#888" stroke-width="0.3" />
<line x1="33.00" y1="164.92" x2="33.80" y2="164.92" stroke="#888" stroke-width="0.3" />
<text transform="translate(30.80,176.70)" font-size="6.3" text-anchor="end" font-weight="normal" fill="#2a2a2a"  textLength="14.0" lengthAdjust="spacingAndGlyphs">200K</text>
<line x1="32.20" y1="162.55" x2="33.80" y2="162.55" stroke="#555" stroke-width="0.45" />
<text transform="translate(30.80,164.85)" font-size="6.3" text-anchor="end" font-weight="normal" fill="#2a2a2a"  textLength="14.0" lengthAdjust="spacingAndGlyphs">250K</text>
<text transform="translate(13.40,192.00) rotate(-90)" font-size="7.8" text-anchor="middle" font-weight="bold" fill="#222"  textLength="15" lengthAdjust="spacingAndGlyphs">SSC-A</text>
<text transform="translate(52.80,252.40)" font-size="7.8" text-anchor="middle" font-weight="bold" fill="#222"  textLength="15.3" lengthAdjust="spacingAndGlyphs">FSC-A</text>
<rect x="85.20" y="201.80" width="3.60" height="3.20" fill="#dcd6f2" stroke="none" stroke-width="0.5" />
<line x1="86.40" y1="203.50" x2="119.30" y2="203.50" stroke="#2fa784" stroke-width="0.8" />
<polygon points="122.40,203.50 119.00,205.00 119.00,202.00" fill="#2fa784"/>
<clipPath id="cp2"><rect x="119.6" y="159.6" width="54.400000000000006" height="62.400000000000006"/></clipPath>
<linearGradient id="g2" gradientUnits="userSpaceOnUse" x1="150" y1="188" x2="160" y2="211"><stop offset="0" stop-color="#35288a" stop-opacity="1"/><stop offset="0.45" stop-color="#40329a" stop-opacity="0.92"/><stop offset="1" stop-color="#5a4cb4" stop-opacity="0.35"/></linearGradient>
<g clip-path="url(#cp2)">
<path d="M139.2,201.0 L170.6,172.4 L170.8,198.6 L162.3,205.8 L151,215.6 L139.4,217.2 Z" fill="url(#g2)" filter="url(#b05)"/>
<circle cx="144.53" cy="213.91" r="0.32" fill="#fff" opacity="0.84"/>
<circle cx="170.39" cy="194.18" r="0.32" fill="#fff" opacity="0.78"/>
<circle cx="150.86" cy="205.99" r="0.32" fill="#fff" opacity="0.73"/>
<circle cx="144.06" cy="199.94" r="0.32" fill="#fff" opacity="0.39"/>
<circle cx="170.10" cy="194.25" r="0.32" fill="#fff" opacity="0.77"/>
<circle cx="156.32" cy="207.66" r="0.32" fill="#fff" opacity="0.88"/>
<circle cx="153.45" cy="208.69" r="0.32" fill="#fff" opacity="0.86"/>
<circle cx="165.61" cy="188.32" r="0.32" fill="#fff" opacity="0.57"/>
<circle cx="147.81" cy="204.08" r="0.32" fill="#fff" opacity="0.61"/>
<circle cx="147.46" cy="208.93" r="0.32" fill="#fff" opacity="0.75"/>
<circle cx="148.04" cy="206.04" r="0.32" fill="#fff" opacity="0.68"/>
<circle cx="144.06" cy="215.14" r="0.32" fill="#fff" opacity="0.87"/>
<circle cx="150.97" cy="204.52" r="0.32" fill="#fff" opacity="0.69"/>
<circle cx="158.08" cy="206.15" r="0.32" fill="#fff" opacity="0.87"/>
<circle cx="153.04" cy="209.53" r="0.32" fill="#fff" opacity="0.87"/>
<circle cx="155.55" cy="202.41" r="0.32" fill="#fff" opacity="0.73"/>
<circle cx="156.23" cy="189.44" r="0.32" fill="#fff" opacity="0.40"/>
<circle cx="153.64" cy="197.19" r="0.32" fill="#fff" opacity="0.55"/>
<circle cx="140.12" cy="216.49" r="0.32" fill="#fff" opacity="0.83"/>
<circle cx="145.34" cy="208.84" r="0.32" fill="#fff" opacity="0.70"/>
<circle cx="162.48" cy="197.91" r="0.32" fill="#fff" opacity="0.74"/>
<circle cx="150.11" cy="206.08" r="0.32" fill="#fff" opacity="0.72"/>
<circle cx="157.22" cy="205.06" r="0.32" fill="#fff" opacity="0.83"/>
<circle cx="143.29" cy="211.51" r="0.32" fill="#fff" opacity="0.74"/>
<circle cx="147.70" cy="203.87" r="0.32" fill="#fff" opacity="0.60"/>
<circle cx="163.94" cy="196.00" r="0.32" fill="#fff" opacity="0.72"/>
<circle cx="157.41" cy="204.58" r="0.32" fill="#fff" opacity="0.82"/>
<circle cx="168.29" cy="191.60" r="0.32" fill="#fff" opacity="0.69"/>
<circle cx="158.99" cy="199.51" r="0.32" fill="#fff" opacity="0.72"/>
<circle cx="155.88" cy="204.64" r="0.32" fill="#fff" opacity="0.79"/>
<circle cx="154.02" cy="203.52" r="0.32" fill="#fff" opacity="0.73"/>
<circle cx="154.82" cy="208.71" r="0.32" fill="#fff" opacity="0.88"/>
<circle cx="161.68" cy="203.47" r="0.32" fill="#fff" opacity="0.86"/>
<circle cx="169.21" cy="186.75" r="0.32" fill="#fff" opacity="0.59"/>
<circle cx="157.34" cy="207.14" r="0.32" fill="#fff" opacity="0.88"/>
<circle cx="166.04" cy="185.83" r="0.32" fill="#fff" opacity="0.52"/>
<circle cx="143.77" cy="209.53" r="0.32" fill="#fff" opacity="0.69"/>
<circle cx="142.25" cy="207.46" r="0.32" fill="#fff" opacity="0.58"/>
<circle cx="142.27" cy="213.58" r="0.32" fill="#fff" opacity="0.78"/>
<circle cx="164.30" cy="202.08" r="0.32" fill="#fff" opacity="0.87"/>
<circle cx="144.79" cy="212.44" r="0.32" fill="#fff" opacity="0.80"/>
<circle cx="160.47" cy="190.59" r="0.32" fill="#fff" opacity="0.52"/>
<circle cx="167.37" cy="201.18" r="0.32" fill="#fff" opacity="0.89"/>
<circle cx="146.81" cy="213.88" r="0.32" fill="#fff" opacity="0.88"/>
<circle cx="152.35" cy="203.99" r="0.32" fill="#fff" opacity="0.71"/>
<circle cx="170.69" cy="196.97" r="0.32" fill="#fff" opacity="0.84"/>
<circle cx="145.01" cy="208.47" r="0.32" fill="#fff" opacity="0.68"/>
<circle cx="155.98" cy="198.70" r="0.32" fill="#fff" opacity="0.64"/>
<circle cx="146.07" cy="205.87" r="0.32" fill="#fff" opacity="0.63"/>
<circle cx="162.39" cy="184.05" r="0.32" fill="#fff" opacity="0.40"/>
<circle cx="157.18" cy="199.69" r="0.32" fill="#fff" opacity="0.69"/>
<circle cx="140.56" cy="210.28" r="0.32" fill="#fff" opacity="0.63"/>
<circle cx="159.34" cy="199.37" r="0.32" fill="#fff" opacity="0.72"/>
<circle cx="141.99" cy="217.24" r="0.32" fill="#fff" opacity="0.90"/>
<circle cx="164.44" cy="203.08" r="0.32" fill="#fff" opacity="0.89"/>
<circle cx="143.25" cy="207.12" r="0.32" fill="#fff" opacity="0.60"/>
<circle cx="141.23" cy="215.54" r="0.32" fill="#fff" opacity="0.82"/>
<circle cx="148.38" cy="200.16" r="0.32" fill="#fff" opacity="0.51"/>
<circle cx="153.09" cy="209.42" r="0.32" fill="#fff" opacity="0.87"/>
<circle cx="165.39" cy="189.70" r="0.32" fill="#fff" opacity="0.59"/>
<circle cx="144.63" cy="214.88" r="0.32" fill="#fff" opacity="0.87"/>
<circle cx="157.69" cy="203.53" r="0.32" fill="#fff" opacity="0.79"/>
<circle cx="142.77" cy="202.84" r="0.32" fill="#fff" opacity="0.45"/>
<circle cx="161.33" cy="196.35" r="0.32" fill="#fff" opacity="0.68"/>
<circle cx="142.24" cy="216.60" r="0.32" fill="#fff" opacity="0.88"/>
<circle cx="159.67" cy="203.69" r="0.32" fill="#fff" opacity="0.83"/>
<circle cx="142.60" cy="215.50" r="0.32" fill="#fff" opacity="0.85"/>
<circle cx="142.07" cy="215.91" r="0.32" fill="#fff" opacity="0.85"/>
<circle cx="154.07" cy="200.15" r="0.32" fill="#fff" opacity="0.64"/>
<circle cx="157.14" cy="207.05" r="0.32" fill="#fff" opacity="0.88"/>
<circle cx="148.30" cy="200.21" r="0.32" fill="#fff" opacity="0.51"/>
<circle cx="156.33" cy="196.33" r="0.32" fill="#fff" opacity="0.58"/>
<circle cx="143.39" cy="204.99" r="0.32" fill="#fff" opacity="0.53"/>
<circle cx="141.56" cy="207.28" r="0.32" fill="#fff" opacity="0.56"/>
<circle cx="149.67" cy="202.87" r="0.32" fill="#fff" opacity="0.62"/>
<circle cx="163.54" cy="191.88" r="0.32" fill="#fff" opacity="0.61"/>
<circle cx="155.50" cy="195.56" r="0.32" fill="#fff" opacity="0.55"/>
<circle cx="150.76" cy="194.24" r="0.32" fill="#fff" opacity="0.40"/>
<circle cx="147.76" cy="196.72" r="0.32" fill="#fff" opacity="0.39"/>
<circle cx="162.73" cy="197.64" r="0.32" fill="#fff" opacity="0.73"/>
<circle cx="145.87" cy="208.48" r="0.32" fill="#fff" opacity="0.70"/>
<circle cx="168.97" cy="182.36" r="0.32" fill="#fff" opacity="0.49"/>
<circle cx="165.39" cy="193.51" r="0.32" fill="#fff" opacity="0.68"/>
<circle cx="155.35" cy="206.98" r="0.32" fill="#fff" opacity="0.84"/>
<circle cx="152.19" cy="204.41" r="0.32" fill="#fff" opacity="0.72"/>
<circle cx="161.32" cy="205.17" r="0.32" fill="#fff" opacity="0.89"/>
<circle cx="150.62" cy="210.01" r="0.32" fill="#fff" opacity="0.84"/>
<circle cx="161.91" cy="199.64" r="0.32" fill="#fff" opacity="0.77"/>
<circle cx="152.55" cy="201.46" r="0.32" fill="#fff" opacity="0.64"/>
<circle cx="141.69" cy="205.69" r="0.32" fill="#fff" opacity="0.51"/>
<circle cx="142.19" cy="214.47" r="0.32" fill="#fff" opacity="0.81"/>
<circle cx="147.92" cy="201.35" r="0.32" fill="#fff" opacity="0.54"/>
<circle cx="142.62" cy="215.32" r="0.32" fill="#fff" opacity="0.85"/>
<circle cx="166.99" cy="196.74" r="0.32" fill="#fff" opacity="0.78"/>
<circle cx="148.74" cy="202.39" r="0.32" fill="#fff" opacity="0.58"/>
<circle cx="149.08" cy="205.91" r="0.32" fill="#fff" opacity="0.69"/>
<circle cx="144.88" cy="208.77" r="0.32" fill="#fff" opacity="0.69"/>
<circle cx="148.16" cy="213.14" r="0.32" fill="#fff" opacity="0.89"/>
<circle cx="170.15" cy="192.31" r="0.32" fill="#fff" opacity="0.73"/>
<circle cx="147.58" cy="213.54" r="0.32" fill="#fff" opacity="0.89"/>
<circle cx="149.60" cy="203.85" r="0.32" fill="#fff" opacity="0.65"/>
<circle cx="140.03" cy="211.42" r="0.32" fill="#fff" opacity="0.66"/>
<circle cx="154.71" cy="202.53" r="0.32" fill="#fff" opacity="0.71"/>
<circle cx="146.23" cy="208.65" r="0.32" fill="#fff" opacity="0.71"/>
<circle cx="140.15" cy="209.51" r="0.32" fill="#fff" opacity="0.60"/>
<circle cx="142.78" cy="209.64" r="0.32" fill="#fff" opacity="0.67"/>
<circle cx="141.29" cy="202.81" r="0.32" fill="#fff" opacity="0.41"/>
<circle cx="149.43" cy="201.65" r="0.32" fill="#fff" opacity="0.58"/>
<circle cx="158.15" cy="200.51" r="0.32" fill="#fff" opacity="0.73"/>
<circle cx="163.27" cy="199.06" r="0.32" fill="#fff" opacity="0.78"/>
<circle cx="162.20" cy="203.17" r="0.32" fill="#fff" opacity="0.86"/>
<circle cx="152.08" cy="201.42" r="0.32" fill="#fff" opacity="0.63"/>
<circle cx="170.53" cy="182.55" r="0.32" fill="#fff" opacity="0.53"/>
<circle cx="162.45" cy="199.39" r="0.32" fill="#fff" opacity="0.77"/>
<circle cx="141.36" cy="216.07" r="0.32" fill="#fff" opacity="0.84"/>
<circle cx="167.65" cy="195.54" r="0.32" fill="#fff" opacity="0.77"/>
<circle cx="162.75" cy="201.83" r="0.32" fill="#fff" opacity="0.84"/>
<circle cx="144.32" cy="210.29" r="0.32" fill="#fff" opacity="0.72"/>
<circle cx="155.64" cy="206.79" r="0.32" fill="#fff" opacity="0.84"/>
<circle cx="164.95" cy="200.61" r="0.32" fill="#fff" opacity="0.84"/>
<circle cx="158.11" cy="205.98" r="0.32" fill="#fff" opacity="0.86"/>
<circle cx="161.17" cy="201.06" r="0.32" fill="#fff" opacity="0.79"/>
<circle cx="147.13" cy="198.08" r="0.32" fill="#fff" opacity="0.42"/>
<circle cx="144.13" cy="208.04" r="0.32" fill="#fff" opacity="0.65"/>
<circle cx="143.25" cy="214.85" r="0.32" fill="#fff" opacity="0.84"/>
<circle cx="157.31" cy="202.68" r="0.32" fill="#fff" opacity="0.77"/>
<circle cx="159.41" cy="202.06" r="0.32" fill="#fff" opacity="0.79"/>
<circle cx="155.17" cy="189.14" r="0.32" fill="#fff" opacity="0.37"/>
<circle cx="164.73" cy="199.54" r="0.32" fill="#fff" opacity="0.81"/>
<circle cx="155.59" cy="202.43" r="0.32" fill="#fff" opacity="0.73"/>
<circle cx="160.44" cy="188.04" r="0.32" fill="#fff" opacity="0.46"/>
<circle cx="162.84" cy="191.54" r="0.32" fill="#fff" opacity="0.59"/>
<circle cx="142.31" cy="207.86" r="0.32" fill="#fff" opacity="0.60"/>
<circle cx="162.61" cy="190.56" r="0.32" fill="#fff" opacity="0.56"/>
<circle cx="162.93" cy="204.07" r="0.32" fill="#fff" opacity="0.89"/>
<circle cx="155.31" cy="200.02" r="0.32" fill="#fff" opacity="0.66"/>
<circle cx="154.85" cy="205.21" r="0.32" fill="#fff" opacity="0.79"/>
<circle cx="163.78" cy="198.04" r="0.32" fill="#fff" opacity="0.76"/>
<circle cx="159.93" cy="188.91" r="0.32" fill="#fff" opacity="0.47"/>
<circle cx="144.57" cy="205.88" r="0.32" fill="#fff" opacity="0.59"/>
<circle cx="163.04" cy="192.59" r="0.32" fill="#fff" opacity="0.62"/>
<circle cx="157.60" cy="187.80" r="0.32" fill="#fff" opacity="0.39"/>
<circle cx="141.88" cy="208.24" r="0.32" fill="#fff" opacity="0.60"/>
<circle cx="160.83" cy="201.28" r="0.32" fill="#fff" opacity="0.79"/>
<circle cx="160.95" cy="193.90" r="0.32" fill="#fff" opacity="0.61"/>
<circle cx="156.01" cy="200.96" r="0.32" fill="#fff" opacity="0.70"/>
<circle cx="154.46" cy="194.83" r="0.32" fill="#fff" opacity="0.50"/>
<circle cx="167.70" cy="186.33" r="0.32" fill="#fff" opacity="0.56"/>
<circle cx="170.32" cy="198.85" r="0.32" fill="#fff" opacity="0.88"/>
<circle cx="140.54" cy="212.13" r="0.32" fill="#fff" opacity="0.69"/>
<circle cx="165.42" cy="202.41" r="0.32" fill="#fff" opacity="0.89"/>
<circle cx="153.93" cy="198.86" r="0.32" fill="#fff" opacity="0.60"/>
<circle cx="146.50" cy="213.99" r="0.32" fill="#fff" opacity="0.88"/>
<circle cx="146.53" cy="209.51" r="0.32" fill="#fff" opacity="0.75"/>
<circle cx="144.39" cy="210.24" r="0.32" fill="#fff" opacity="0.72"/>
<circle cx="169.53" cy="182.81" r="0.32" fill="#fff" opacity="0.51"/>
<circle cx="165.43" cy="194.95" r="0.32" fill="#fff" opacity="0.72"/>
<circle cx="167.49" cy="196.95" r="0.32" fill="#fff" opacity="0.80"/>
<circle cx="147.17" cy="213.02" r="0.32" fill="#fff" opacity="0.87"/>
<circle cx="155.07" cy="190.82" r="0.32" fill="#fff" opacity="0.41"/>
<circle cx="140.11" cy="212.87" r="0.32" fill="#fff" opacity="0.71"/>
<circle cx="153.97" cy="199.50" r="0.32" fill="#fff" opacity="0.62"/>
<circle cx="144.36" cy="207.59" r="0.32" fill="#fff" opacity="0.64"/>
<circle cx="149.80" cy="210.65" r="0.32" fill="#fff" opacity="0.85"/>
<circle cx="140.05" cy="216.01" r="0.32" fill="#fff" opacity="0.81"/>
<circle cx="166.01" cy="185.30" r="0.32" fill="#fff" opacity="0.50"/>
<circle cx="168.72" cy="196.29" r="0.32" fill="#fff" opacity="0.80"/>
<circle cx="167.95" cy="188.47" r="0.32" fill="#fff" opacity="0.61"/>
<circle cx="151.54" cy="203.02" r="0.32" fill="#fff" opacity="0.66"/>
<circle cx="170.96" cy="192.54" r="0.32" fill="#fff" opacity="0.75"/>
<circle cx="151.18" cy="203.88" r="0.32" fill="#fff" opacity="0.68"/>
<circle cx="148.53" cy="197.57" r="0.32" fill="#fff" opacity="0.44"/>
<circle cx="143.15" cy="214.90" r="0.32" fill="#fff" opacity="0.84"/>
<circle cx="148.85" cy="212.40" r="0.32" fill="#fff" opacity="0.88"/>
<circle cx="147.73" cy="203.64" r="0.32" fill="#fff" opacity="0.60"/>
<circle cx="155.84" cy="195.59" r="0.32" fill="#fff" opacity="0.55"/>
<circle cx="151.57" cy="210.93" r="0.32" fill="#fff" opacity="0.89"/>
<circle cx="167.41" cy="198.78" r="0.32" fill="#fff" opacity="0.84"/>
<circle cx="159.56" cy="205.34" r="0.32" fill="#fff" opacity="0.87"/>
<circle cx="169.16" cy="193.05" r="0.32" fill="#fff" opacity="0.73"/>
<circle cx="162.31" cy="185.73" r="0.32" fill="#fff" opacity="0.44"/>
<circle cx="162.70" cy="195.84" r="0.32" fill="#fff" opacity="0.69"/>
<circle cx="163.33" cy="198.80" r="0.32" fill="#fff" opacity="0.77"/>
<circle cx="148.87" cy="197.30" r="0.32" fill="#fff" opacity="0.44"/>
<circle cx="168.73" cy="183.30" r="0.32" fill="#fff" opacity="0.51"/>
<circle cx="154.64" cy="199.81" r="0.32" fill="#fff" opacity="0.64"/>
<circle cx="149.23" cy="209.75" r="0.32" fill="#fff" opacity="0.81"/>
<circle cx="170.27" cy="185.94" r="0.32" fill="#fff" opacity="0.60"/>
<circle cx="160.34" cy="194.59" r="0.32" fill="#fff" opacity="0.62"/>
<circle cx="157.28" cy="198.78" r="0.32" fill="#fff" opacity="0.66"/>
<circle cx="145.19" cy="203.54" r="0.32" fill="#fff" opacity="0.53"/>
<circle cx="146.44" cy="213.58" r="0.32" fill="#fff" opacity="0.87"/>
<circle cx="155.41" cy="196.65" r="0.32" fill="#fff" opacity="0.57"/>
<circle cx="168.09" cy="201.16" r="0.32" fill="#fff" opacity="0.90"/>
<circle cx="153.95" cy="195.84" r="0.32" fill="#fff" opacity="0.52"/>
<circle cx="145.96" cy="201.13" r="0.32" fill="#fff" opacity="0.48"/>
<circle cx="150.60" cy="197.24" r="0.32" fill="#fff" opacity="0.48"/>
<circle cx="147.41" cy="203.74" r="0.32" fill="#fff" opacity="0.59"/>
<circle cx="157.66" cy="206.19" r="0.32" fill="#fff" opacity="0.86"/>
<circle cx="163.24" cy="194.71" r="0.32" fill="#fff" opacity="0.67"/>
<circle cx="152.83" cy="204.22" r="0.32" fill="#fff" opacity="0.72"/>
<circle cx="151.68" cy="201.94" r="0.32" fill="#fff" opacity="0.64"/>
<circle cx="141.92" cy="208.36" r="0.32" fill="#fff" opacity="0.60"/>
<circle cx="170.00" cy="182.20" r="0.32" fill="#fff" opacity="0.51"/>
<circle cx="155.61" cy="203.89" r="0.32" fill="#fff" opacity="0.77"/>
<circle cx="166.75" cy="187.54" r="0.32" fill="#fff" opacity="0.57"/>
<circle cx="148.40" cy="202.78" r="0.32" fill="#fff" opacity="0.59"/>
<circle cx="152.39" cy="203.28" r="0.32" fill="#fff" opacity="0.69"/>
<circle cx="169.57" cy="197.96" r="0.32" fill="#fff" opacity="0.85"/>
<circle cx="167.06" cy="180.09" r="0.32" fill="#fff" opacity="0.41"/>
<circle cx="141.00" cy="214.91" r="0.32" fill="#fff" opacity="0.80"/>
<circle cx="167.77" cy="192.59" r="0.32" fill="#fff" opacity="0.70"/>
<circle cx="158.20" cy="185.83" r="0.32" fill="#fff" opacity="0.35"/>
<circle cx="152.14" cy="210.22" r="0.32" fill="#fff" opacity="0.88"/>
<circle cx="165.59" cy="200.63" r="0.32" fill="#fff" opacity="0.85"/>
<circle cx="170.14" cy="185.73" r="0.32" fill="#fff" opacity="0.59"/>
<circle cx="143.38" cy="204.85" r="0.32" fill="#fff" opacity="0.53"/>
<circle cx="156.19" cy="204.27" r="0.32" fill="#fff" opacity="0.79"/>
<circle cx="169.19" cy="196.12" r="0.32" fill="#fff" opacity="0.80"/>
<circle cx="160.07" cy="202.89" r="0.32" fill="#fff" opacity="0.82"/>
<circle cx="154.18" cy="203.69" r="0.32" fill="#fff" opacity="0.73"/>
<circle cx="141.23" cy="215.58" r="0.32" fill="#fff" opacity="0.82"/>
<circle cx="147.21" cy="213.26" r="0.32" fill="#fff" opacity="0.87"/>
<circle cx="160.01" cy="194.90" r="0.32" fill="#fff" opacity="0.62"/>
<circle cx="143.97" cy="206.31" r="0.32" fill="#fff" opacity="0.59"/>
<circle cx="159.73" cy="202.12" r="0.32" fill="#fff" opacity="0.79"/>
<circle cx="143.48" cy="202.64" r="0.32" fill="#fff" opacity="0.46"/>
<circle cx="156.26" cy="202.72" r="0.32" fill="#fff" opacity="0.75"/>
<circle cx="152.03" cy="199.40" r="0.32" fill="#fff" opacity="0.57"/>
<circle cx="158.63" cy="186.73" r="0.32" fill="#fff" opacity="0.39"/>
<circle cx="149.35" cy="212.80" r="0.28" fill="#4a3aa0" opacity="0.7"/>
<circle cx="169.73" cy="200.79" r="0.28" fill="#4a3aa0" opacity="0.7"/>
<circle cx="167.40" cy="201.66" r="0.28" fill="#4a3aa0" opacity="0.7"/>
<circle cx="147.28" cy="213.36" r="0.28" fill="#4a3aa0" opacity="0.7"/>
<circle cx="169.78" cy="200.96" r="0.28" fill="#4a3aa0" opacity="0.7"/>
<circle cx="149.53" cy="211.19" r="0.28" fill="#4a3aa0" opacity="0.7"/>
<circle cx="155.45" cy="209.74" r="0.28" fill="#4a3aa0" opacity="0.7"/>
<circle cx="153.02" cy="209.83" r="0.28" fill="#4a3aa0" opacity="0.7"/>
<circle cx="160.69" cy="207.35" r="0.28" fill="#4a3aa0" opacity="0.7"/>
<circle cx="147.03" cy="212.79" r="0.28" fill="#4a3aa0" opacity="0.7"/>
<circle cx="150.48" cy="211.96" r="0.28" fill="#4a3aa0" opacity="0.7"/>
<circle cx="161.16" cy="204.58" r="0.28" fill="#4a3aa0" opacity="0.7"/>
<circle cx="164.71" cy="204.22" r="0.28" fill="#4a3aa0" opacity="0.7"/>
<circle cx="155.65" cy="208.02" r="0.28" fill="#4a3aa0" opacity="0.7"/>
<circle cx="170.07" cy="199.45" r="0.28" fill="#4a3aa0" opacity="0.7"/>
<circle cx="165.42" cy="202.05" r="0.28" fill="#4a3aa0" opacity="0.7"/>
<circle cx="146.86" cy="215.36" r="0.28" fill="#4a3aa0" opacity="0.7"/>
<circle cx="149.14" cy="214.60" r="0.28" fill="#4a3aa0" opacity="0.7"/>
<circle cx="155.37" cy="208.14" r="0.28" fill="#4a3aa0" opacity="0.7"/>
<circle cx="146.92" cy="214.15" r="0.28" fill="#4a3aa0" opacity="0.7"/>
<circle cx="160.62" cy="207.47" r="0.28" fill="#4a3aa0" opacity="0.7"/>
<circle cx="144.54" cy="215.55" r="0.28" fill="#4a3aa0" opacity="0.7"/>
<circle cx="146.60" cy="216.25" r="0.28" fill="#4a3aa0" opacity="0.7"/>
<circle cx="144.40" cy="214.48" r="0.28" fill="#4a3aa0" opacity="0.7"/>
<circle cx="141.86" cy="217.21" r="0.28" fill="#4a3aa0" opacity="0.7"/>
<circle cx="167.84" cy="202.77" r="0.28" fill="#4a3aa0" opacity="0.7"/>
<circle cx="162.71" cy="206.34" r="0.28" fill="#4a3aa0" opacity="0.7"/>
<circle cx="168.88" cy="200.24" r="0.28" fill="#4a3aa0" opacity="0.7"/>
<circle cx="145.75" cy="216.64" r="0.28" fill="#4a3aa0" opacity="0.7"/>
<circle cx="163.14" cy="202.79" r="0.28" fill="#4a3aa0" opacity="0.7"/>
<circle cx="160.60" cy="205.54" r="0.28" fill="#4a3aa0" opacity="0.7"/>
<circle cx="151.59" cy="210.97" r="0.28" fill="#4a3aa0" opacity="0.7"/>
<circle cx="145.25" cy="213.78" r="0.28" fill="#4a3aa0" opacity="0.7"/>
<circle cx="148.67" cy="212.85" r="0.28" fill="#4a3aa0" opacity="0.7"/>
<circle cx="169.62" cy="199.08" r="0.28" fill="#4a3aa0" opacity="0.7"/>
<circle cx="169.89" cy="199.20" r="0.28" fill="#4a3aa0" opacity="0.7"/>
<circle cx="151.06" cy="212.97" r="0.28" fill="#4a3aa0" opacity="0.7"/>
<circle cx="165.48" cy="202.70" r="0.28" fill="#4a3aa0" opacity="0.7"/>
<circle cx="141.53" cy="217.69" r="0.28" fill="#4a3aa0" opacity="0.7"/>
<circle cx="151.55" cy="212.99" r="0.28" fill="#4a3aa0" opacity="0.7"/>
<circle cx="145.98" cy="214.56" r="0.28" fill="#4a3aa0" opacity="0.7"/>
<circle cx="167.81" cy="199.89" r="0.28" fill="#4a3aa0" opacity="0.7"/>
<circle cx="152.73" cy="211.89" r="0.28" fill="#4a3aa0" opacity="0.7"/>
<circle cx="163.77" cy="202.43" r="0.28" fill="#4a3aa0" opacity="0.7"/>
<circle cx="141.08" cy="216.57" r="0.28" fill="#4a3aa0" opacity="0.7"/>
<circle cx="168.52" cy="200.22" r="0.28" fill="#4a3aa0" opacity="0.7"/>
<circle cx="163.17" cy="205.72" r="0.28" fill="#4a3aa0" opacity="0.7"/>
<circle cx="150.51" cy="211.44" r="0.28" fill="#4a3aa0" opacity="0.7"/>
<circle cx="169.69" cy="200.72" r="0.28" fill="#4a3aa0" opacity="0.7"/>
<circle cx="148.13" cy="214.43" r="0.28" fill="#4a3aa0" opacity="0.7"/>
<circle cx="149.81" cy="211.88" r="0.28" fill="#4a3aa0" opacity="0.7"/>
<circle cx="140.12" cy="219.52" r="0.28" fill="#4a3aa0" opacity="0.7"/>
<circle cx="168.41" cy="201.57" r="0.28" fill="#4a3aa0" opacity="0.7"/>
<circle cx="169.24" cy="198.98" r="0.28" fill="#4a3aa0" opacity="0.7"/>
<circle cx="147.25" cy="214.15" r="0.28" fill="#4a3aa0" opacity="0.7"/>
<circle cx="169.66" cy="201.88" r="0.28" fill="#4a3aa0" opacity="0.7"/>
<circle cx="151.98" cy="210.45" r="0.28" fill="#4a3aa0" opacity="0.7"/>
<circle cx="153.33" cy="210.44" r="0.28" fill="#4a3aa0" opacity="0.7"/>
<circle cx="168.77" cy="199.81" r="0.28" fill="#4a3aa0" opacity="0.7"/>
<circle cx="164.88" cy="204.11" r="0.28" fill="#4a3aa0" opacity="0.7"/>
<circle cx="165.51" cy="203.84" r="0.28" fill="#4a3aa0" opacity="0.7"/>
<circle cx="158.82" cy="206.47" r="0.28" fill="#4a3aa0" opacity="0.7"/>
<circle cx="149.91" cy="212.12" r="0.28" fill="#4a3aa0" opacity="0.7"/>
<circle cx="164.25" cy="202.26" r="0.28" fill="#4a3aa0" opacity="0.7"/>
<circle cx="146.12" cy="215.80" r="0.28" fill="#4a3aa0" opacity="0.7"/>
<circle cx="147.67" cy="212.49" r="0.28" fill="#4a3aa0" opacity="0.7"/>
<circle cx="141.05" cy="218.26" r="0.28" fill="#4a3aa0" opacity="0.7"/>
<circle cx="150.10" cy="214.10" r="0.28" fill="#4a3aa0" opacity="0.7"/>
<circle cx="167.39" cy="203.41" r="0.28" fill="#4a3aa0" opacity="0.7"/>
<circle cx="148.21" cy="212.22" r="0.28" fill="#4a3aa0" opacity="0.7"/>
</g>
<rect x="119.60" y="159.60" width="54.40" height="62.40" fill="none" stroke="#9a9a9a" stroke-width="0.35" />
<path d="M135.1,200.6 L170.2,169.1 L171.8,171.6 L138.0,204.5 Z" fill="#fff" stroke="#2a2a4a" stroke-width="0.45"/>
<text transform="translate(129.40,211.60)" font-size="2.5" text-anchor="middle" font-weight="normal" fill="#2a2a2a" >Single Cells</text>
<line x1="121.00" y1="222.00" x2="121.00" y2="223.60" stroke="#555" stroke-width="0.45" />
<line x1="123.06" y1="222.00" x2="123.06" y2="222.80" stroke="#888" stroke-width="0.3" />
<line x1="125.12" y1="222.00" x2="125.12" y2="222.80" stroke="#888" stroke-width="0.3" />
<line x1="127.18" y1="222.00" x2="127.18" y2="222.80" stroke="#888" stroke-width="0.3" />
<line x1="129.24" y1="222.00" x2="129.24" y2="222.80" stroke="#888" stroke-width="0.3" />
<text transform="translate(122.60,230.80) rotate(-45)" font-size="6.3" text-anchor="end" font-weight="normal" fill="#2a2a2a" >0</text>
<line x1="131.30" y1="222.00" x2="131.30" y2="223.60" stroke="#555" stroke-width="0.45" />
<line x1="133.36" y1="222.00" x2="133.36" y2="222.80" stroke="#888" stroke-width="0.3" />
<line x1="135.42" y1="222.00" x2="135.42" y2="222.80" stroke="#888" stroke-width="0.3" />
<line x1="137.48" y1="222.00" x2="137.48" y2="222.80" stroke="#888" stroke-width="0.3" />
<line x1="139.54" y1="222.00" x2="139.54" y2="222.80" stroke="#888" stroke-width="0.3" />
<text transform="translate(132.90,230.80) rotate(-45)" font-size="6.3" text-anchor="end" font-weight="normal" fill="#2a2a2a"  textLength="10.6" lengthAdjust="spacingAndGlyphs">50K</text>
<line x1="141.60" y1="222.00" x2="141.60" y2="223.60" stroke="#555" stroke-width="0.45" />
<line x1="143.66" y1="222.00" x2="143.66" y2="222.80" stroke="#888" stroke-width="0.3" />
<line x1="145.72" y1="222.00" x2="145.72" y2="222.80" stroke="#888" stroke-width="0.3" />
<line x1="147.78" y1="222.00" x2="147.78" y2="222.80" stroke="#888" stroke-width="0.3" />
<line x1="149.84" y1="222.00" x2="149.84" y2="222.80" stroke="#888" stroke-width="0.3" />
<text transform="translate(143.20,230.80) rotate(-45)" font-size="6.3" text-anchor="end" font-weight="normal" fill="#2a2a2a"  textLength="14.0" lengthAdjust="spacingAndGlyphs">100K</text>
<line x1="151.90" y1="222.00" x2="151.90" y2="223.60" stroke="#555" stroke-width="0.45" />
<line x1="153.96" y1="222.00" x2="153.96" y2="222.80" stroke="#888" stroke-width="0.3" />
<line x1="156.02" y1="222.00" x2="156.02" y2="222.80" stroke="#888" stroke-width="0.3" />
<line x1="158.08" y1="222.00" x2="158.08" y2="222.80" stroke="#888" stroke-width="0.3" />
<line x1="160.14" y1="222.00" x2="160.14" y2="222.80" stroke="#888" stroke-width="0.3" />
<text transform="translate(153.50,230.80) rotate(-45)" font-size="6.3" text-anchor="end" font-weight="normal" fill="#2a2a2a"  textLength="14.0" lengthAdjust="spacingAndGlyphs">150K</text>
<line x1="162.20" y1="222.00" x2="162.20" y2="223.60" stroke="#555" stroke-width="0.45" />
<line x1="164.26" y1="222.00" x2="164.26" y2="222.80" stroke="#888" stroke-width="0.3" />
<line x1="166.32" y1="222.00" x2="166.32" y2="222.80" stroke="#888" stroke-width="0.3" />
<line x1="168.38" y1="222.00" x2="168.38" y2="222.80" stroke="#888" stroke-width="0.3" />
<line x1="170.44" y1="222.00" x2="170.44" y2="222.80" stroke="#888" stroke-width="0.3" />
<text transform="translate(163.80,230.80) rotate(-45)" font-size="6.3" text-anchor="end" font-weight="normal" fill="#2a2a2a"  textLength="14.0" lengthAdjust="spacingAndGlyphs">200K</text>
<line x1="172.50" y1="222.00" x2="172.50" y2="223.60" stroke="#555" stroke-width="0.45" />
<text transform="translate(174.10,230.80) rotate(-45)" font-size="6.3" text-anchor="end" font-weight="normal" fill="#2a2a2a"  textLength="14.0" lengthAdjust="spacingAndGlyphs">250K</text>
<line x1="118.00" y1="221.80" x2="119.60" y2="221.80" stroke="#555" stroke-width="0.45" />
<line x1="118.80" y1="219.43" x2="119.60" y2="219.43" stroke="#888" stroke-width="0.3" />
<line x1="118.80" y1="217.06" x2="119.60" y2="217.06" stroke="#888" stroke-width="0.3" />
<line x1="118.80" y1="214.69" x2="119.60" y2="214.69" stroke="#888" stroke-width="0.3" />
<line x1="118.80" y1="212.32" x2="119.60" y2="212.32" stroke="#888" stroke-width="0.3" />
<text transform="translate(116.60,224.10)" font-size="6.3" text-anchor="end" font-weight="normal" fill="#2a2a2a" >0</text>
<line x1="118.00" y1="209.95" x2="119.60" y2="209.95" stroke="#555" stroke-width="0.45" />
<line x1="118.80" y1="207.58" x2="119.60" y2="207.58" stroke="#888" stroke-width="0.3" />
<line x1="118.80" y1="205.21" x2="119.60" y2="205.21" stroke="#888" stroke-width="0.3" />
<line x1="118.80" y1="202.84" x2="119.60" y2="202.84" stroke="#888" stroke-width="0.3" />
<line x1="118.80" y1="200.47" x2="119.60" y2="200.47" stroke="#888" stroke-width="0.3" />
<text transform="translate(116.60,212.25)" font-size="6.3" text-anchor="end" font-weight="normal" fill="#2a2a2a"  textLength="10.6" lengthAdjust="spacingAndGlyphs">50K</text>
<line x1="118.00" y1="198.10" x2="119.60" y2="198.10" stroke="#555" stroke-width="0.45" />
<line x1="118.80" y1="195.73" x2="119.60" y2="195.73" stroke="#888" stroke-width="0.3" />
<line x1="118.80" y1="193.36" x2="119.60" y2="193.36" stroke="#888" stroke-width="0.3" />
<line x1="118.80" y1="190.99" x2="119.60" y2="190.99" stroke="#888" stroke-width="0.3" />
<line x1="118.80" y1="188.62" x2="119.60" y2="188.62" stroke="#888" stroke-width="0.3" />
<text transform="translate(116.60,200.40)" font-size="6.3" text-anchor="end" font-weight="normal" fill="#2a2a2a"  textLength="14.0" lengthAdjust="spacingAndGlyphs">100K</text>
<line x1="118.00" y1="186.25" x2="119.60" y2="186.25" stroke="#555" stroke-width="0.45" />
<line x1="118.80" y1="183.88" x2="119.60" y2="183.88" stroke="#888" stroke-width="0.3" />
<line x1="118.80" y1="181.51" x2="119.60" y2="181.51" stroke="#888" stroke-width="0.3" />
<line x1="118.80" y1="179.14" x2="119.60" y2="179.14" stroke="#888" stroke-width="0.3" />
<line x1="118.80" y1="176.77" x2="119.60" y2="176.77" stroke="#888" stroke-width="0.3" />
<text transform="translate(116.60,188.55)" font-size="6.3" text-anchor="end" font-weight="normal" fill="#2a2a2a"  textLength="14.0" lengthAdjust="spacingAndGlyphs">150K</text>
<line x1="118.00" y1="174.40" x2="119.60" y2="174.40" stroke="#555" stroke-width="0.45" />
<line x1="118.80" y1="172.03" x2="119.60" y2="172.03" stroke="#888" stroke-width="0.3" />
<line x1="118.80" y1="169.66" x2="119.60" y2="169.66" stroke="#888" stroke-width="0.3" />
<line x1="118.80" y1="167.29" x2="119.60" y2="167.29" stroke="#888" stroke-width="0.3" />
<line x1="118.80" y1="164.92" x2="119.60" y2="164.92" stroke="#888" stroke-width="0.3" />
<text transform="translate(116.60,176.70)" font-size="6.3" text-anchor="end" font-weight="normal" fill="#2a2a2a"  textLength="14.0" lengthAdjust="spacingAndGlyphs">200K</text>
<line x1="118.00" y1="162.55" x2="119.60" y2="162.55" stroke="#555" stroke-width="0.45" />
<text transform="translate(116.60,164.85)" font-size="6.3" text-anchor="end" font-weight="normal" fill="#2a2a2a"  textLength="14.0" lengthAdjust="spacingAndGlyphs">250K</text>
<text transform="translate(98.40,191.40) rotate(-90)" font-size="7.8" text-anchor="middle" font-weight="bold" fill="#222"  textLength="16.5" lengthAdjust="spacingAndGlyphs">FSC-H</text>
<text transform="translate(144.00,252.40)" font-size="7.8" text-anchor="middle" font-weight="bold" fill="#222"  textLength="15.3" lengthAdjust="spacingAndGlyphs">FSC-A</text>
<line x1="171.20" y1="203.60" x2="197.30" y2="203.60" stroke="#2fa784" stroke-width="0.8" />
<polygon points="200.40,203.60 197.00,205.10 197.00,202.10" fill="#2fa784"/>
<clipPath id="cp3"><rect x="202.4" y="160.2" width="54.599999999999994" height="62.0"/></clipPath>
<g clip-path="url(#cp3)">
<g filter="url(#b15)">
<path d="M224,163 L232.6,163 L236,175 L246,192 L252,202 L224,202 Z" fill="#5646ac" opacity="0.55"/>
<ellipse cx="228.2" cy="183" rx="4.2" ry="20" fill="#43349c" opacity="0.95"/>
<ellipse cx="238" cy="207.2" rx="16" ry="5.4" fill="#382b93" opacity="1"/>
</g>
<g filter="url(#b1)">
<ellipse cx="228.2" cy="164.4" rx="4.4" ry="1.7" fill="#352a8c" opacity="1"/>
<ellipse cx="236.6" cy="207.3" rx="11.2" ry="2.6" fill="#2f9fe0" opacity="1"/>
<ellipse cx="235.6" cy="207.3" rx="9.4" ry="1.6" fill="#55c86a" opacity="1"/>
<ellipse cx="228.0" cy="207.3" rx="2.7" ry="1.25" fill="#f0e020" opacity="1"/>
<ellipse cx="239.8" cy="207.3" rx="3.2" ry="1.0" fill="#dce830" opacity="1"/>
</g>
<circle cx="229.43" cy="166.66" r="0.3" fill="#4d3ea6" opacity="0.6"/>
<circle cx="224.12" cy="179.98" r="0.3" fill="#4d3ea6" opacity="0.6"/>
<circle cx="230.31" cy="171.90" r="0.3" fill="#4d3ea6" opacity="0.6"/>
<circle cx="231.59" cy="188.62" r="0.3" fill="#4d3ea6" opacity="0.6"/>
<circle cx="234.06" cy="191.42" r="0.3" fill="#4d3ea6" opacity="0.6"/>
<circle cx="228.57" cy="167.60" r="0.3" fill="#4d3ea6" opacity="0.6"/>
<circle cx="228.60" cy="194.95" r="0.3" fill="#4d3ea6" opacity="0.6"/>
<circle cx="232.76" cy="177.17" r="0.3" fill="#4d3ea6" opacity="0.6"/>
<circle cx="226.78" cy="191.05" r="0.3" fill="#4d3ea6" opacity="0.6"/>
<circle cx="227.85" cy="172.32" r="0.3" fill="#4d3ea6" opacity="0.6"/>
<circle cx="228.11" cy="168.83" r="0.3" fill="#4d3ea6" opacity="0.6"/>
<circle cx="229.62" cy="175.40" r="0.3" fill="#4d3ea6" opacity="0.6"/>
<circle cx="232.71" cy="178.05" r="0.3" fill="#4d3ea6" opacity="0.6"/>
<circle cx="224.29" cy="171.79" r="0.3" fill="#4d3ea6" opacity="0.6"/>
<circle cx="246.19" cy="193.72" r="0.3" fill="#4d3ea6" opacity="0.6"/>
<circle cx="232.88" cy="166.89" r="0.3" fill="#4d3ea6" opacity="0.6"/>
<circle cx="230.73" cy="181.04" r="0.3" fill="#4d3ea6" opacity="0.6"/>
<circle cx="248.42" cy="197.75" r="0.3" fill="#4d3ea6" opacity="0.6"/>
<circle cx="224.37" cy="164.53" r="0.3" fill="#4d3ea6" opacity="0.6"/>
<circle cx="226.26" cy="170.20" r="0.3" fill="#4d3ea6" opacity="0.6"/>
<circle cx="253.60" cy="199.97" r="0.3" fill="#4d3ea6" opacity="0.6"/>
<circle cx="232.09" cy="177.15" r="0.3" fill="#4d3ea6" opacity="0.6"/>
<circle cx="233.89" cy="195.91" r="0.3" fill="#4d3ea6" opacity="0.6"/>
<circle cx="226.99" cy="192.56" r="0.3" fill="#4d3ea6" opacity="0.6"/>
<circle cx="239.32" cy="198.94" r="0.3" fill="#4d3ea6" opacity="0.6"/>
<circle cx="232.50" cy="186.56" r="0.3" fill="#4d3ea6" opacity="0.6"/>
<circle cx="225.88" cy="171.27" r="0.3" fill="#4d3ea6" opacity="0.6"/>
<circle cx="225.96" cy="170.75" r="0.3" fill="#4d3ea6" opacity="0.6"/>
<circle cx="230.48" cy="172.69" r="0.3" fill="#4d3ea6" opacity="0.6"/>
<circle cx="228.11" cy="170.73" r="0.3" fill="#4d3ea6" opacity="0.6"/>
<circle cx="225.65" cy="163.43" r="0.3" fill="#4d3ea6" opacity="0.6"/>
<circle cx="230.13" cy="170.04" r="0.3" fill="#4d3ea6" opacity="0.6"/>
<circle cx="227.21" cy="174.86" r="0.3" fill="#4d3ea6" opacity="0.6"/>
<circle cx="239.86" cy="183.83" r="0.3" fill="#4d3ea6" opacity="0.6"/>
<circle cx="226.43" cy="165.40" r="0.3" fill="#4d3ea6" opacity="0.6"/>
<circle cx="229.57" cy="183.91" r="0.3" fill="#4d3ea6" opacity="0.6"/>
<circle cx="229.27" cy="187.29" r="0.3" fill="#4d3ea6" opacity="0.6"/>
<circle cx="227.63" cy="189.43" r="0.3" fill="#4d3ea6" opacity="0.6"/>
<circle cx="225.34" cy="178.57" r="0.3" fill="#4d3ea6" opacity="0.6"/>
<circle cx="236.20" cy="199.22" r="0.3" fill="#4d3ea6" opacity="0.6"/>
<circle cx="229.37" cy="174.87" r="0.3" fill="#4d3ea6" opacity="0.6"/>
<circle cx="226.90" cy="178.82" r="0.3" fill="#4d3ea6" opacity="0.6"/>
<circle cx="236.74" cy="195.84" r="0.3" fill="#4d3ea6" opacity="0.6"/>
<circle cx="224.10" cy="170.49" r="0.3" fill="#4d3ea6" opacity="0.6"/>
<circle cx="224.36" cy="190.67" r="0.3" fill="#4d3ea6" opacity="0.6"/>
<circle cx="225.44" cy="197.26" r="0.3" fill="#4d3ea6" opacity="0.6"/>
<circle cx="227.36" cy="179.10" r="0.3" fill="#4d3ea6" opacity="0.6"/>
<circle cx="236.59" cy="196.55" r="0.3" fill="#4d3ea6" opacity="0.6"/>
<circle cx="224.74" cy="180.51" r="0.3" fill="#4d3ea6" opacity="0.6"/>
<circle cx="225.38" cy="183.96" r="0.3" fill="#4d3ea6" opacity="0.6"/>
<circle cx="227.83" cy="187.35" r="0.3" fill="#4d3ea6" opacity="0.6"/>
<circle cx="226.38" cy="186.64" r="0.3" fill="#4d3ea6" opacity="0.6"/>
<circle cx="227.93" cy="177.09" r="0.3" fill="#4d3ea6" opacity="0.6"/>
<circle cx="224.09" cy="173.77" r="0.3" fill="#4d3ea6" opacity="0.6"/>
<circle cx="227.83" cy="182.80" r="0.3" fill="#4d3ea6" opacity="0.6"/>
<circle cx="225.85" cy="181.64" r="0.3" fill="#4d3ea6" opacity="0.6"/>
<circle cx="232.19" cy="193.58" r="0.3" fill="#4d3ea6" opacity="0.6"/>
<circle cx="224.53" cy="167.81" r="0.3" fill="#4d3ea6" opacity="0.6"/>
<circle cx="240.36" cy="198.84" r="0.3" fill="#4d3ea6" opacity="0.6"/>
<circle cx="224.51" cy="165.03" r="0.3" fill="#4d3ea6" opacity="0.6"/>
<circle cx="247.44" cy="198.19" r="0.3" fill="#4d3ea6" opacity="0.6"/>
<circle cx="238.36" cy="186.57" r="0.3" fill="#4d3ea6" opacity="0.6"/>
<circle cx="236.09" cy="194.33" r="0.3" fill="#4d3ea6" opacity="0.6"/>
<circle cx="231.53" cy="171.44" r="0.3" fill="#4d3ea6" opacity="0.6"/>
<circle cx="231.96" cy="178.37" r="0.3" fill="#4d3ea6" opacity="0.6"/>
<circle cx="231.07" cy="169.95" r="0.3" fill="#4d3ea6" opacity="0.6"/>
<circle cx="228.91" cy="171.29" r="0.3" fill="#4d3ea6" opacity="0.6"/>
<circle cx="229.10" cy="177.58" r="0.3" fill="#4d3ea6" opacity="0.6"/>
<circle cx="224.11" cy="167.68" r="0.3" fill="#4d3ea6" opacity="0.6"/>
<circle cx="246.21" cy="197.10" r="0.3" fill="#4d3ea6" opacity="0.6"/>
<circle cx="228.25" cy="164.56" r="0.3" fill="#4d3ea6" opacity="0.6"/>
<circle cx="225.73" cy="164.45" r="0.3" fill="#4d3ea6" opacity="0.6"/>
<circle cx="237.05" cy="194.85" r="0.3" fill="#4d3ea6" opacity="0.6"/>
<circle cx="232.51" cy="183.90" r="0.3" fill="#4d3ea6" opacity="0.6"/>
<circle cx="227.73" cy="186.83" r="0.3" fill="#4d3ea6" opacity="0.6"/>
<circle cx="233.55" cy="185.14" r="0.3" fill="#4d3ea6" opacity="0.6"/>
<circle cx="228.55" cy="179.18" r="0.3" fill="#4d3ea6" opacity="0.6"/>
<circle cx="231.21" cy="179.66" r="0.3" fill="#4d3ea6" opacity="0.6"/>
<circle cx="226.13" cy="163.89" r="0.3" fill="#4d3ea6" opacity="0.6"/>
<circle cx="228.14" cy="171.94" r="0.3" fill="#4d3ea6" opacity="0.6"/>
<circle cx="226.51" cy="192.02" r="0.3" fill="#4d3ea6" opacity="0.6"/>
<circle cx="228.92" cy="169.82" r="0.3" fill="#4d3ea6" opacity="0.6"/>
<circle cx="227.42" cy="180.98" r="0.3" fill="#4d3ea6" opacity="0.6"/>
<circle cx="226.54" cy="179.36" r="0.3" fill="#4d3ea6" opacity="0.6"/>
<circle cx="227.78" cy="166.49" r="0.3" fill="#4d3ea6" opacity="0.6"/>
<circle cx="225.16" cy="164.55" r="0.3" fill="#4d3ea6" opacity="0.6"/>
<circle cx="238.77" cy="187.18" r="0.3" fill="#4d3ea6" opacity="0.6"/>
<circle cx="233.86" cy="192.55" r="0.3" fill="#4d3ea6" opacity="0.6"/>
<circle cx="233.85" cy="182.44" r="0.3" fill="#4d3ea6" opacity="0.6"/>
<circle cx="226.81" cy="177.36" r="0.3" fill="#4d3ea6" opacity="0.6"/>
<circle cx="242.78" cy="199.13" r="0.3" fill="#4d3ea6" opacity="0.6"/>
<circle cx="246.50" cy="200.85" r="0.3" fill="#4d3ea6" opacity="0.6"/>
<circle cx="227.05" cy="190.82" r="0.3" fill="#4d3ea6" opacity="0.6"/>
<circle cx="232.99" cy="200.31" r="0.3" fill="#4d3ea6" opacity="0.6"/>
<circle cx="242.38" cy="181.69" r="0.3" fill="#4d3ea6" opacity="0.6"/>
<circle cx="226.60" cy="169.27" r="0.3" fill="#4d3ea6" opacity="0.6"/>
<circle cx="228.14" cy="192.96" r="0.3" fill="#4d3ea6" opacity="0.6"/>
<circle cx="225.05" cy="176.33" r="0.3" fill="#4d3ea6" opacity="0.6"/>
<circle cx="237.86" cy="191.73" r="0.3" fill="#4d3ea6" opacity="0.6"/>
<circle cx="234.31" cy="173.45" r="0.3" fill="#4d3ea6" opacity="0.6"/>
<circle cx="233.35" cy="193.99" r="0.3" fill="#4d3ea6" opacity="0.6"/>
<circle cx="237.09" cy="197.96" r="0.3" fill="#4d3ea6" opacity="0.6"/>
<circle cx="224.47" cy="170.92" r="0.3" fill="#4d3ea6" opacity="0.6"/>
<circle cx="231.50" cy="175.12" r="0.3" fill="#4d3ea6" opacity="0.6"/>
<circle cx="224.66" cy="164.40" r="0.3" fill="#4d3ea6" opacity="0.6"/>
<circle cx="231.74" cy="198.58" r="0.3" fill="#4d3ea6" opacity="0.6"/>
<circle cx="229.30" cy="188.83" r="0.3" fill="#4d3ea6" opacity="0.6"/>
<circle cx="228.59" cy="192.83" r="0.3" fill="#4d3ea6" opacity="0.6"/>
<circle cx="229.15" cy="167.37" r="0.3" fill="#4d3ea6" opacity="0.6"/>
<circle cx="225.87" cy="176.67" r="0.3" fill="#4d3ea6" opacity="0.6"/>
<circle cx="240.74" cy="196.17" r="0.3" fill="#4d3ea6" opacity="0.6"/>
<circle cx="230.10" cy="196.54" r="0.3" fill="#4d3ea6" opacity="0.6"/>
<circle cx="229.01" cy="166.98" r="0.3" fill="#4d3ea6" opacity="0.6"/>
<circle cx="224.46" cy="177.98" r="0.3" fill="#4d3ea6" opacity="0.6"/>
<circle cx="227.54" cy="193.31" r="0.3" fill="#4d3ea6" opacity="0.6"/>
<circle cx="253.42" cy="184.94" r="0.3" fill="#4d3ea6" opacity="0.6"/>
<circle cx="224.68" cy="176.69" r="0.3" fill="#4d3ea6" opacity="0.6"/>
<circle cx="228.83" cy="169.72" r="0.3" fill="#4d3ea6" opacity="0.6"/>
<circle cx="244.91" cy="191.26" r="0.3" fill="#4d3ea6" opacity="0.6"/>
<circle cx="227.04" cy="172.64" r="0.3" fill="#4d3ea6" opacity="0.6"/>
<circle cx="237.85" cy="187.29" r="0.3" fill="#4d3ea6" opacity="0.6"/>
<circle cx="225.43" cy="188.22" r="0.3" fill="#4d3ea6" opacity="0.6"/>
<circle cx="225.64" cy="174.88" r="0.3" fill="#4d3ea6" opacity="0.6"/>
<circle cx="224.01" cy="168.68" r="0.3" fill="#4d3ea6" opacity="0.6"/>
<circle cx="235.12" cy="186.41" r="0.3" fill="#4d3ea6" opacity="0.6"/>
<circle cx="230.84" cy="197.03" r="0.3" fill="#4d3ea6" opacity="0.6"/>
<circle cx="224.81" cy="168.02" r="0.3" fill="#4d3ea6" opacity="0.6"/>
<circle cx="227.58" cy="163.85" r="0.3" fill="#4d3ea6" opacity="0.6"/>
<circle cx="224.65" cy="163.10" r="0.3" fill="#4d3ea6" opacity="0.6"/>
<circle cx="226.56" cy="176.57" r="0.3" fill="#4d3ea6" opacity="0.6"/>
<circle cx="229.89" cy="171.52" r="0.3" fill="#4d3ea6" opacity="0.6"/>
<circle cx="227.24" cy="170.76" r="0.3" fill="#4d3ea6" opacity="0.6"/>
<circle cx="229.46" cy="186.71" r="0.3" fill="#4d3ea6" opacity="0.6"/>
<circle cx="225.21" cy="198.59" r="0.3" fill="#4d3ea6" opacity="0.6"/>
<circle cx="225.42" cy="172.26" r="0.3" fill="#4d3ea6" opacity="0.6"/>
<circle cx="227.79" cy="187.25" r="0.3" fill="#4d3ea6" opacity="0.6"/>
<circle cx="226.74" cy="196.11" r="0.3" fill="#4d3ea6" opacity="0.6"/>
<circle cx="229.59" cy="173.04" r="0.3" fill="#4d3ea6" opacity="0.6"/>
<circle cx="225.85" cy="163.44" r="0.3" fill="#4d3ea6" opacity="0.6"/>
<circle cx="230.84" cy="176.31" r="0.3" fill="#4d3ea6" opacity="0.6"/>
<circle cx="247.32" cy="187.53" r="0.3" fill="#4d3ea6" opacity="0.6"/>
<circle cx="233.53" cy="190.87" r="0.3" fill="#4d3ea6" opacity="0.6"/>
<circle cx="225.34" cy="172.44" r="0.3" fill="#4d3ea6" opacity="0.6"/>
<circle cx="225.55" cy="183.20" r="0.3" fill="#4d3ea6" opacity="0.6"/>
<circle cx="224.20" cy="178.43" r="0.3" fill="#4d3ea6" opacity="0.6"/>
<circle cx="228.25" cy="192.60" r="0.3" fill="#4d3ea6" opacity="0.6"/>
<circle cx="229.33" cy="163.47" r="0.3" fill="#4d3ea6" opacity="0.6"/>
<circle cx="227.03" cy="168.41" r="0.3" fill="#4d3ea6" opacity="0.6"/>
<circle cx="228.43" cy="170.58" r="0.3" fill="#4d3ea6" opacity="0.6"/>
<circle cx="231.85" cy="187.38" r="0.3" fill="#4d3ea6" opacity="0.6"/>
<circle cx="229.00" cy="193.91" r="0.3" fill="#4d3ea6" opacity="0.6"/>
<circle cx="228.66" cy="174.41" r="0.3" fill="#4d3ea6" opacity="0.6"/>
<circle cx="227.80" cy="164.84" r="0.3" fill="#4d3ea6" opacity="0.6"/>
<circle cx="236.84" cy="190.19" r="0.3" fill="#4d3ea6" opacity="0.6"/>
<circle cx="226.11" cy="163.24" r="0.3" fill="#4d3ea6" opacity="0.6"/>
<circle cx="235.28" cy="180.68" r="0.3" fill="#4d3ea6" opacity="0.6"/>
<circle cx="232.08" cy="191.19" r="0.3" fill="#4d3ea6" opacity="0.6"/>
<circle cx="224.75" cy="167.00" r="0.3" fill="#4d3ea6" opacity="0.6"/>
<circle cx="228.57" cy="171.83" r="0.3" fill="#4d3ea6" opacity="0.6"/>
<circle cx="226.60" cy="191.49" r="0.3" fill="#4d3ea6" opacity="0.6"/>
<circle cx="233.97" cy="189.41" r="0.3" fill="#4d3ea6" opacity="0.6"/>
<circle cx="231.36" cy="173.11" r="0.3" fill="#4d3ea6" opacity="0.6"/>
<circle cx="239.21" cy="184.04" r="0.3" fill="#4d3ea6" opacity="0.6"/>
<circle cx="230.19" cy="182.88" r="0.3" fill="#4d3ea6" opacity="0.6"/>
<circle cx="233.17" cy="173.08" r="0.3" fill="#4d3ea6" opacity="0.6"/>
<circle cx="234.11" cy="171.25" r="0.3" fill="#4d3ea6" opacity="0.6"/>
<circle cx="234.52" cy="196.44" r="0.3" fill="#4d3ea6" opacity="0.6"/>
<circle cx="224.39" cy="171.97" r="0.3" fill="#4d3ea6" opacity="0.6"/>
<circle cx="242.43" cy="191.27" r="0.3" fill="#4d3ea6" opacity="0.6"/>
<circle cx="227.63" cy="175.42" r="0.3" fill="#4d3ea6" opacity="0.6"/>
<circle cx="227.26" cy="171.61" r="0.3" fill="#ffffff" opacity="0.5"/>
<circle cx="227.05" cy="195.67" r="0.3" fill="#ffffff" opacity="0.5"/>
<circle cx="229.23" cy="186.95" r="0.3" fill="#ffffff" opacity="0.5"/>
<circle cx="229.62" cy="198.24" r="0.3" fill="#ffffff" opacity="0.5"/>
<circle cx="233.39" cy="188.11" r="0.3" fill="#ffffff" opacity="0.5"/>
<circle cx="225.82" cy="193.87" r="0.3" fill="#ffffff" opacity="0.5"/>
<circle cx="231.41" cy="183.53" r="0.3" fill="#ffffff" opacity="0.5"/>
<circle cx="227.09" cy="174.08" r="0.3" fill="#ffffff" opacity="0.5"/>
<circle cx="225.65" cy="165.80" r="0.3" fill="#ffffff" opacity="0.5"/>
<circle cx="230.78" cy="195.79" r="0.3" fill="#ffffff" opacity="0.5"/>
<circle cx="224.72" cy="166.84" r="0.3" fill="#ffffff" opacity="0.5"/>
<circle cx="224.92" cy="196.44" r="0.3" fill="#ffffff" opacity="0.5"/>
<circle cx="225.55" cy="164.03" r="0.3" fill="#ffffff" opacity="0.5"/>
<circle cx="226.29" cy="164.50" r="0.3" fill="#ffffff" opacity="0.5"/>
<circle cx="226.50" cy="188.09" r="0.3" fill="#ffffff" opacity="0.5"/>
<circle cx="230.63" cy="189.52" r="0.3" fill="#ffffff" opacity="0.5"/>
<circle cx="230.12" cy="176.08" r="0.3" fill="#ffffff" opacity="0.5"/>
<circle cx="226.68" cy="192.43" r="0.3" fill="#ffffff" opacity="0.5"/>
<circle cx="228.46" cy="165.37" r="0.3" fill="#ffffff" opacity="0.5"/>
<circle cx="233.54" cy="194.24" r="0.3" fill="#ffffff" opacity="0.5"/>
<circle cx="234.32" cy="166.86" r="0.3" fill="#ffffff" opacity="0.5"/>
<circle cx="230.16" cy="170.41" r="0.3" fill="#ffffff" opacity="0.5"/>
<circle cx="225.01" cy="193.52" r="0.3" fill="#ffffff" opacity="0.5"/>
<circle cx="224.86" cy="192.23" r="0.3" fill="#ffffff" opacity="0.5"/>
<circle cx="230.21" cy="185.74" r="0.3" fill="#ffffff" opacity="0.5"/>
<circle cx="230.97" cy="173.35" r="0.3" fill="#ffffff" opacity="0.5"/>
<circle cx="225.84" cy="190.27" r="0.3" fill="#ffffff" opacity="0.5"/>
<circle cx="225.33" cy="170.38" r="0.3" fill="#ffffff" opacity="0.5"/>
<circle cx="226.21" cy="163.75" r="0.3" fill="#ffffff" opacity="0.5"/>
<circle cx="228.76" cy="172.24" r="0.3" fill="#ffffff" opacity="0.5"/>
<circle cx="225.61" cy="176.25" r="0.3" fill="#ffffff" opacity="0.5"/>
<circle cx="231.77" cy="174.55" r="0.3" fill="#ffffff" opacity="0.5"/>
<circle cx="229.77" cy="193.65" r="0.3" fill="#ffffff" opacity="0.5"/>
<circle cx="225.33" cy="185.26" r="0.3" fill="#ffffff" opacity="0.5"/>
<circle cx="229.06" cy="178.71" r="0.3" fill="#ffffff" opacity="0.5"/>
<circle cx="225.00" cy="190.83" r="0.3" fill="#ffffff" opacity="0.5"/>
<circle cx="228.46" cy="182.36" r="0.3" fill="#ffffff" opacity="0.5"/>
<circle cx="230.41" cy="170.80" r="0.3" fill="#ffffff" opacity="0.5"/>
<circle cx="225.41" cy="192.51" r="0.3" fill="#ffffff" opacity="0.5"/>
<circle cx="225.66" cy="169.13" r="0.3" fill="#ffffff" opacity="0.5"/>
<circle cx="227.36" cy="190.44" r="0.3" fill="#ffffff" opacity="0.5"/>
<circle cx="224.03" cy="198.20" r="0.3" fill="#ffffff" opacity="0.5"/>
<circle cx="229.81" cy="180.69" r="0.3" fill="#ffffff" opacity="0.5"/>
<circle cx="224.16" cy="191.68" r="0.3" fill="#ffffff" opacity="0.5"/>
<circle cx="226.34" cy="175.50" r="0.3" fill="#ffffff" opacity="0.5"/>
<circle cx="229.35" cy="192.95" r="0.3" fill="#ffffff" opacity="0.5"/>
<circle cx="224.80" cy="173.21" r="0.3" fill="#ffffff" opacity="0.5"/>
<circle cx="235.97" cy="170.73" r="0.3" fill="#ffffff" opacity="0.5"/>
<circle cx="225.83" cy="166.96" r="0.3" fill="#ffffff" opacity="0.5"/>
<circle cx="229.58" cy="185.92" r="0.3" fill="#ffffff" opacity="0.5"/>
<circle cx="231.69" cy="188.10" r="0.3" fill="#ffffff" opacity="0.5"/>
<circle cx="228.28" cy="191.33" r="0.3" fill="#ffffff" opacity="0.5"/>
<circle cx="227.25" cy="177.45" r="0.3" fill="#ffffff" opacity="0.5"/>
<circle cx="227.38" cy="177.21" r="0.3" fill="#ffffff" opacity="0.5"/>
<circle cx="225.64" cy="194.98" r="0.3" fill="#ffffff" opacity="0.5"/>
<circle cx="225.35" cy="163.91" r="0.3" fill="#ffffff" opacity="0.5"/>
<circle cx="225.06" cy="195.44" r="0.3" fill="#ffffff" opacity="0.5"/>
<circle cx="227.76" cy="181.04" r="0.3" fill="#ffffff" opacity="0.5"/>
<circle cx="231.53" cy="171.41" r="0.3" fill="#ffffff" opacity="0.5"/>
<circle cx="231.14" cy="179.59" r="0.3" fill="#ffffff" opacity="0.5"/>
</g>
<rect x="202.40" y="160.20" width="54.60" height="62.00" fill="none" stroke="#9a9a9a" stroke-width="0.35" />
<rect x="218.20" y="200.60" width="38.60" height="18.80" fill="none" stroke="#555566" stroke-width="0.45" />
<text transform="translate(213.40,193.40)" font-size="2.5" text-anchor="middle" font-weight="normal" fill="#2a2a2a" >FSC-A, PI subset</text>
<text transform="translate(243.00,153.60)" font-size="7.3" text-anchor="middle" font-weight="normal" fill="#1a1a1a" >BMMC</text>
<line x1="201.00" y1="164.60" x2="202.40" y2="164.60" stroke="#555" stroke-width="0.45" />
<text transform="translate(199.40,166.80)" font-size="6.0" text-anchor="end" font-weight="normal" fill="#2a2a2a" >10<tspan font-size="3.6" dy="-2.2">5</tspan></text>
<line x1="201.00" y1="179.20" x2="202.40" y2="179.20" stroke="#555" stroke-width="0.45" />
<text transform="translate(199.40,181.40)" font-size="6.0" text-anchor="end" font-weight="normal" fill="#2a2a2a" >10<tspan font-size="3.6" dy="-2.2">4</tspan></text>
<line x1="201.00" y1="196.20" x2="202.40" y2="196.20" stroke="#555" stroke-width="0.45" />
<text transform="translate(199.40,198.40)" font-size="6.0" text-anchor="end" font-weight="normal" fill="#2a2a2a" >10<tspan font-size="3.6" dy="-2.2">3</tspan></text>
<line x1="201.00" y1="207.30" x2="202.40" y2="207.30" stroke="#555" stroke-width="0.45" />
<text transform="translate(199.40,209.50)" font-size="6.0" text-anchor="end" font-weight="normal" fill="#2a2a2a" >0</text>
<line x1="201.00" y1="217.20" x2="202.40" y2="217.20" stroke="#555" stroke-width="0.45" />
<text transform="translate(199.40,219.40)" font-size="6.0" text-anchor="end" font-weight="normal" fill="#2a2a2a" >−10<tspan font-size="3.6" dy="-2.2">3</tspan></text>
<line x1="200.40" y1="207.30" x2="202.40" y2="207.30" stroke="#111" stroke-width="1.0" />
<line x1="204.00" y1="222.20" x2="204.00" y2="223.80" stroke="#555" stroke-width="0.45" />
<line x1="206.05" y1="222.20" x2="206.05" y2="223.00" stroke="#888" stroke-width="0.3" />
<line x1="208.10" y1="222.20" x2="208.10" y2="223.00" stroke="#888" stroke-width="0.3" />
<line x1="210.15" y1="222.20" x2="210.15" y2="223.00" stroke="#888" stroke-width="0.3" />
<line x1="212.20" y1="222.20" x2="212.20" y2="223.00" stroke="#888" stroke-width="0.3" />
<text transform="translate(205.60,231.00) rotate(-45)" font-size="6.3" text-anchor="end" font-weight="normal" fill="#2a2a2a" >0</text>
<line x1="214.25" y1="222.20" x2="214.25" y2="223.80" stroke="#555" stroke-width="0.45" />
<line x1="216.30" y1="222.20" x2="216.30" y2="223.00" stroke="#888" stroke-width="0.3" />
<line x1="218.35" y1="222.20" x2="218.35" y2="223.00" stroke="#888" stroke-width="0.3" />
<line x1="220.40" y1="222.20" x2="220.40" y2="223.00" stroke="#888" stroke-width="0.3" />
<line x1="222.45" y1="222.20" x2="222.45" y2="223.00" stroke="#888" stroke-width="0.3" />
<text transform="translate(215.85,231.00) rotate(-45)" font-size="6.3" text-anchor="end" font-weight="normal" fill="#2a2a2a"  textLength="10.6" lengthAdjust="spacingAndGlyphs">50K</text>
<line x1="224.50" y1="222.20" x2="224.50" y2="223.80" stroke="#555" stroke-width="0.45" />
<line x1="226.55" y1="222.20" x2="226.55" y2="223.00" stroke="#888" stroke-width="0.3" />
<line x1="228.60" y1="222.20" x2="228.60" y2="223.00" stroke="#888" stroke-width="0.3" />
<line x1="230.65" y1="222.20" x2="230.65" y2="223.00" stroke="#888" stroke-width="0.3" />
<line x1="232.70" y1="222.20" x2="232.70" y2="223.00" stroke="#888" stroke-width="0.3" />
<text transform="translate(226.10,231.00) rotate(-45)" font-size="6.3" text-anchor="end" font-weight="normal" fill="#2a2a2a"  textLength="14.0" lengthAdjust="spacingAndGlyphs">100K</text>
<line x1="234.75" y1="222.20" x2="234.75" y2="223.80" stroke="#555" stroke-width="0.45" />
<line x1="236.80" y1="222.20" x2="236.80" y2="223.00" stroke="#888" stroke-width="0.3" />
<line x1="238.85" y1="222.20" x2="238.85" y2="223.00" stroke="#888" stroke-width="0.3" />
<line x1="240.90" y1="222.20" x2="240.90" y2="223.00" stroke="#888" stroke-width="0.3" />
<line x1="242.95" y1="222.20" x2="242.95" y2="223.00" stroke="#888" stroke-width="0.3" />
<text transform="translate(236.35,231.00) rotate(-45)" font-size="6.3" text-anchor="end" font-weight="normal" fill="#2a2a2a"  textLength="14.0" lengthAdjust="spacingAndGlyphs">150K</text>
<line x1="245.00" y1="222.20" x2="245.00" y2="223.80" stroke="#555" stroke-width="0.45" />
<line x1="247.05" y1="222.20" x2="247.05" y2="223.00" stroke="#888" stroke-width="0.3" />
<line x1="249.10" y1="222.20" x2="249.10" y2="223.00" stroke="#888" stroke-width="0.3" />
<line x1="251.15" y1="222.20" x2="251.15" y2="223.00" stroke="#888" stroke-width="0.3" />
<line x1="253.20" y1="222.20" x2="253.20" y2="223.00" stroke="#888" stroke-width="0.3" />
<text transform="translate(246.60,231.00) rotate(-45)" font-size="6.3" text-anchor="end" font-weight="normal" fill="#2a2a2a"  textLength="14.0" lengthAdjust="spacingAndGlyphs">200K</text>
<line x1="255.25" y1="222.20" x2="255.25" y2="223.80" stroke="#555" stroke-width="0.45" />
<text transform="translate(256.85,231.00) rotate(-45)" font-size="6.3" text-anchor="end" font-weight="normal" fill="#2a2a2a"  textLength="14.0" lengthAdjust="spacingAndGlyphs">250K</text>
<text transform="translate(184.00,192.50) rotate(-90)" font-size="7.8" text-anchor="middle" font-weight="bold" fill="#222"  textLength="4.4" lengthAdjust="spacingAndGlyphs">PI</text>
<text transform="translate(227.00,252.40)" font-size="7.8" text-anchor="middle" font-weight="bold" fill="#222"  textLength="15.3" lengthAdjust="spacingAndGlyphs">FSC-A</text>
<line x1="257.60" y1="209.60" x2="277.10" y2="209.60" stroke="#2fa784" stroke-width="0.8" />
<polygon points="280.20,209.60 276.80,211.10 276.80,208.10" fill="#2fa784"/>
<clipPath id="cp4"><rect x="287.0" y="160.6" width="54.60000000000002" height="61.80000000000001"/></clipPath>
<g clip-path="url(#cp4)">
<g filter="url(#b15)">
<ellipse cx="300" cy="201" rx="8.0" ry="22" fill="#3a2c95" opacity="1"/>
<ellipse cx="313.5" cy="208" rx="8.5" ry="10" fill="#4636a0" opacity="0.9"/>
<ellipse cx="292" cy="211" rx="6" ry="13" fill="#4636a0" opacity="0.75"/>
<ellipse cx="300" cy="218" rx="11" ry="7" fill="#3f3197" opacity="0.9"/>
</g>
<g filter="url(#b1)">
<ellipse cx="299.6" cy="199" rx="4.6" ry="16" fill="#3766d0" opacity="1"/>
<ellipse cx="300" cy="189.6" rx="3.3" ry="5.6" fill="#35c0e6" opacity="1"/>
<ellipse cx="299.3" cy="205.8" rx="4.4" ry="8.8" fill="#35c0e6" opacity="1"/>
<ellipse cx="299.3" cy="205.8" rx="3.1" ry="6.6" fill="#5ccc60" opacity="1"/>
<ellipse cx="299.3" cy="205.8" rx="2.0" ry="4.4" fill="#f0e428" opacity="1"/>
<ellipse cx="299.2" cy="206.0" rx="1.05" ry="2.5" fill="#e8301a" opacity="1"/>
</g>
<circle cx="305.61" cy="206.19" r="0.3" fill="#3a2c95" opacity="0.55"/>
<circle cx="313.12" cy="200.07" r="0.3" fill="#3a2c95" opacity="0.55"/>
<circle cx="310.68" cy="211.98" r="0.3" fill="#3a2c95" opacity="0.55"/>
<circle cx="317.85" cy="216.77" r="0.3" fill="#3a2c95" opacity="0.55"/>
<circle cx="309.11" cy="200.29" r="0.3" fill="#3a2c95" opacity="0.55"/>
<circle cx="315.34" cy="213.17" r="0.3" fill="#3a2c95" opacity="0.55"/>
<circle cx="313.87" cy="200.84" r="0.3" fill="#3a2c95" opacity="0.55"/>
<circle cx="316.52" cy="212.36" r="0.3" fill="#3a2c95" opacity="0.55"/>
<circle cx="315.49" cy="205.32" r="0.3" fill="#3a2c95" opacity="0.55"/>
<circle cx="314.37" cy="212.35" r="0.3" fill="#3a2c95" opacity="0.55"/>
<circle cx="310.49" cy="197.86" r="0.3" fill="#3a2c95" opacity="0.55"/>
<circle cx="314.48" cy="210.64" r="0.3" fill="#3a2c95" opacity="0.55"/>
<circle cx="313.06" cy="212.89" r="0.3" fill="#3a2c95" opacity="0.55"/>
<circle cx="310.36" cy="207.55" r="0.3" fill="#3a2c95" opacity="0.55"/>
<circle cx="311.63" cy="211.14" r="0.3" fill="#3a2c95" opacity="0.55"/>
<circle cx="320.18" cy="206.62" r="0.3" fill="#3a2c95" opacity="0.55"/>
<circle cx="322.25" cy="216.41" r="0.3" fill="#3a2c95" opacity="0.55"/>
<circle cx="316.56" cy="211.23" r="0.3" fill="#3a2c95" opacity="0.55"/>
<circle cx="320.97" cy="207.01" r="0.3" fill="#3a2c95" opacity="0.55"/>
<circle cx="312.50" cy="202.16" r="0.3" fill="#3a2c95" opacity="0.55"/>
<circle cx="315.13" cy="215.40" r="0.3" fill="#3a2c95" opacity="0.55"/>
<circle cx="315.40" cy="210.33" r="0.3" fill="#3a2c95" opacity="0.55"/>
<circle cx="312.10" cy="208.93" r="0.3" fill="#3a2c95" opacity="0.55"/>
<circle cx="306.59" cy="213.77" r="0.3" fill="#3a2c95" opacity="0.55"/>
<circle cx="311.16" cy="201.92" r="0.3" fill="#3a2c95" opacity="0.55"/>
<circle cx="309.62" cy="203.46" r="0.3" fill="#3a2c95" opacity="0.55"/>
<circle cx="316.85" cy="213.82" r="0.3" fill="#3a2c95" opacity="0.55"/>
<circle cx="306.89" cy="213.09" r="0.3" fill="#3a2c95" opacity="0.55"/>
<circle cx="317.00" cy="204.81" r="0.3" fill="#3a2c95" opacity="0.55"/>
<circle cx="306.31" cy="203.90" r="0.3" fill="#3a2c95" opacity="0.55"/>
<circle cx="310.15" cy="209.88" r="0.3" fill="#3a2c95" opacity="0.55"/>
<circle cx="311.39" cy="196.84" r="0.3" fill="#3a2c95" opacity="0.55"/>
<circle cx="314.05" cy="199.56" r="0.3" fill="#3a2c95" opacity="0.55"/>
<circle cx="317.07" cy="201.36" r="0.3" fill="#3a2c95" opacity="0.55"/>
<circle cx="309.88" cy="203.30" r="0.3" fill="#3a2c95" opacity="0.55"/>
<circle cx="310.56" cy="215.14" r="0.3" fill="#3a2c95" opacity="0.55"/>
<circle cx="316.83" cy="211.31" r="0.3" fill="#3a2c95" opacity="0.55"/>
<circle cx="314.44" cy="199.49" r="0.3" fill="#3a2c95" opacity="0.55"/>
<circle cx="310.66" cy="204.97" r="0.3" fill="#3a2c95" opacity="0.55"/>
<circle cx="308.60" cy="210.80" r="0.3" fill="#3a2c95" opacity="0.55"/>
<circle cx="309.67" cy="204.10" r="0.3" fill="#3a2c95" opacity="0.55"/>
<circle cx="308.30" cy="196.68" r="0.3" fill="#3a2c95" opacity="0.55"/>
<circle cx="315.68" cy="215.32" r="0.3" fill="#3a2c95" opacity="0.55"/>
<circle cx="313.79" cy="202.63" r="0.3" fill="#3a2c95" opacity="0.55"/>
<circle cx="300.83" cy="208.95" r="0.3" fill="#3a2c95" opacity="0.55"/>
<circle cx="318.47" cy="209.63" r="0.3" fill="#3a2c95" opacity="0.55"/>
<circle cx="317.17" cy="216.13" r="0.3" fill="#3a2c95" opacity="0.55"/>
<circle cx="318.07" cy="205.57" r="0.3" fill="#3a2c95" opacity="0.55"/>
<circle cx="317.74" cy="212.27" r="0.3" fill="#3a2c95" opacity="0.55"/>
<circle cx="306.08" cy="205.77" r="0.3" fill="#3a2c95" opacity="0.55"/>
<circle cx="306.59" cy="207.40" r="0.3" fill="#3a2c95" opacity="0.55"/>
<circle cx="315.60" cy="202.13" r="0.3" fill="#3a2c95" opacity="0.55"/>
<circle cx="303.75" cy="215.14" r="0.3" fill="#3a2c95" opacity="0.55"/>
<circle cx="314.70" cy="216.09" r="0.3" fill="#3a2c95" opacity="0.55"/>
<circle cx="307.04" cy="213.83" r="0.3" fill="#3a2c95" opacity="0.55"/>
<circle cx="322.33" cy="219.04" r="0.3" fill="#3a2c95" opacity="0.55"/>
<circle cx="312.05" cy="209.48" r="0.3" fill="#3a2c95" opacity="0.55"/>
<circle cx="312.31" cy="213.49" r="0.3" fill="#3a2c95" opacity="0.55"/>
<circle cx="317.67" cy="208.48" r="0.3" fill="#3a2c95" opacity="0.55"/>
<circle cx="306.88" cy="212.08" r="0.3" fill="#3a2c95" opacity="0.55"/>
<circle cx="310.89" cy="211.46" r="0.3" fill="#3a2c95" opacity="0.55"/>
<circle cx="314.18" cy="216.93" r="0.3" fill="#3a2c95" opacity="0.55"/>
<circle cx="318.12" cy="205.52" r="0.3" fill="#3a2c95" opacity="0.55"/>
<circle cx="314.57" cy="217.70" r="0.3" fill="#3a2c95" opacity="0.55"/>
<circle cx="310.58" cy="210.38" r="0.3" fill="#3a2c95" opacity="0.55"/>
<circle cx="318.36" cy="214.91" r="0.3" fill="#3a2c95" opacity="0.55"/>
<circle cx="315.33" cy="200.74" r="0.3" fill="#3a2c95" opacity="0.55"/>
<circle cx="307.33" cy="209.36" r="0.3" fill="#3a2c95" opacity="0.55"/>
<circle cx="314.74" cy="222.01" r="0.3" fill="#3a2c95" opacity="0.55"/>
<circle cx="309.12" cy="214.26" r="0.3" fill="#3a2c95" opacity="0.55"/>
<circle cx="316.47" cy="198.81" r="0.3" fill="#3a2c95" opacity="0.55"/>
<circle cx="309.32" cy="208.91" r="0.3" fill="#3a2c95" opacity="0.55"/>
<circle cx="310.78" cy="207.15" r="0.3" fill="#3a2c95" opacity="0.55"/>
<circle cx="315.12" cy="203.55" r="0.3" fill="#3a2c95" opacity="0.55"/>
<circle cx="315.10" cy="204.50" r="0.3" fill="#3a2c95" opacity="0.55"/>
<circle cx="310.55" cy="210.95" r="0.3" fill="#3a2c95" opacity="0.55"/>
<circle cx="310.42" cy="209.58" r="0.3" fill="#3a2c95" opacity="0.55"/>
<circle cx="320.20" cy="208.15" r="0.3" fill="#3a2c95" opacity="0.55"/>
<circle cx="312.34" cy="212.04" r="0.3" fill="#3a2c95" opacity="0.55"/>
<circle cx="311.35" cy="213.96" r="0.3" fill="#3a2c95" opacity="0.55"/>
<circle cx="307.23" cy="211.40" r="0.3" fill="#3a2c95" opacity="0.55"/>
<circle cx="310.70" cy="203.61" r="0.3" fill="#3a2c95" opacity="0.55"/>
<circle cx="320.96" cy="203.32" r="0.3" fill="#3a2c95" opacity="0.55"/>
<circle cx="320.91" cy="211.62" r="0.3" fill="#3a2c95" opacity="0.55"/>
<circle cx="319.54" cy="202.63" r="0.3" fill="#3a2c95" opacity="0.55"/>
<circle cx="318.40" cy="216.01" r="0.3" fill="#3a2c95" opacity="0.55"/>
<circle cx="312.48" cy="207.29" r="0.3" fill="#3a2c95" opacity="0.55"/>
<circle cx="324.05" cy="208.98" r="0.3" fill="#3a2c95" opacity="0.55"/>
<circle cx="311.10" cy="204.54" r="0.3" fill="#3a2c95" opacity="0.55"/>
<circle cx="315.01" cy="209.82" r="0.3" fill="#3a2c95" opacity="0.55"/>
<circle cx="288.71" cy="205.01" r="0.3" fill="#4a3aa0" opacity="0.5"/>
<circle cx="294.89" cy="199.97" r="0.3" fill="#4a3aa0" opacity="0.5"/>
<circle cx="293.84" cy="200.37" r="0.3" fill="#4a3aa0" opacity="0.5"/>
<circle cx="292.02" cy="219.17" r="0.3" fill="#4a3aa0" opacity="0.5"/>
<circle cx="293.42" cy="213.38" r="0.3" fill="#4a3aa0" opacity="0.5"/>
<circle cx="292.39" cy="219.24" r="0.3" fill="#4a3aa0" opacity="0.5"/>
<circle cx="289.81" cy="201.13" r="0.3" fill="#4a3aa0" opacity="0.5"/>
<circle cx="295.42" cy="214.01" r="0.3" fill="#4a3aa0" opacity="0.5"/>
<circle cx="294.46" cy="207.40" r="0.3" fill="#4a3aa0" opacity="0.5"/>
<circle cx="289.27" cy="218.95" r="0.3" fill="#4a3aa0" opacity="0.5"/>
<circle cx="290.95" cy="202.09" r="0.3" fill="#4a3aa0" opacity="0.5"/>
<circle cx="289.06" cy="199.62" r="0.3" fill="#4a3aa0" opacity="0.5"/>
<circle cx="289.39" cy="208.14" r="0.3" fill="#4a3aa0" opacity="0.5"/>
<circle cx="288.06" cy="199.75" r="0.3" fill="#4a3aa0" opacity="0.5"/>
<circle cx="292.69" cy="210.03" r="0.3" fill="#4a3aa0" opacity="0.5"/>
<circle cx="288.25" cy="218.43" r="0.3" fill="#4a3aa0" opacity="0.5"/>
<circle cx="295.66" cy="208.17" r="0.3" fill="#4a3aa0" opacity="0.5"/>
<circle cx="288.32" cy="210.63" r="0.3" fill="#4a3aa0" opacity="0.5"/>
<circle cx="291.89" cy="205.75" r="0.3" fill="#4a3aa0" opacity="0.5"/>
<circle cx="294.61" cy="206.89" r="0.3" fill="#4a3aa0" opacity="0.5"/>
<circle cx="289.54" cy="212.56" r="0.3" fill="#4a3aa0" opacity="0.5"/>
<circle cx="288.39" cy="212.54" r="0.3" fill="#4a3aa0" opacity="0.5"/>
<circle cx="293.40" cy="213.75" r="0.3" fill="#4a3aa0" opacity="0.5"/>
<circle cx="288.98" cy="220.22" r="0.3" fill="#4a3aa0" opacity="0.5"/>
<circle cx="293.48" cy="209.28" r="0.3" fill="#4a3aa0" opacity="0.5"/>
<circle cx="297.90" cy="208.60" r="0.3" fill="#4a3aa0" opacity="0.5"/>
<circle cx="288.84" cy="214.67" r="0.3" fill="#4a3aa0" opacity="0.5"/>
<circle cx="288.63" cy="212.26" r="0.3" fill="#4a3aa0" opacity="0.5"/>
<circle cx="292.20" cy="205.52" r="0.3" fill="#4a3aa0" opacity="0.5"/>
<circle cx="294.75" cy="208.34" r="0.3" fill="#4a3aa0" opacity="0.5"/>
<circle cx="294.78" cy="201.48" r="0.3" fill="#4a3aa0" opacity="0.5"/>
<circle cx="289.10" cy="207.31" r="0.3" fill="#4a3aa0" opacity="0.5"/>
<circle cx="292.49" cy="217.49" r="0.3" fill="#4a3aa0" opacity="0.5"/>
<circle cx="290.38" cy="203.61" r="0.3" fill="#4a3aa0" opacity="0.5"/>
<circle cx="289.91" cy="209.10" r="0.3" fill="#4a3aa0" opacity="0.5"/>
<circle cx="291.59" cy="203.06" r="0.3" fill="#4a3aa0" opacity="0.5"/>
<circle cx="298.86" cy="213.02" r="0.3" fill="#4a3aa0" opacity="0.5"/>
<circle cx="288.44" cy="216.59" r="0.3" fill="#4a3aa0" opacity="0.5"/>
<circle cx="289.70" cy="203.78" r="0.3" fill="#4a3aa0" opacity="0.5"/>
<circle cx="291.05" cy="211.25" r="0.3" fill="#4a3aa0" opacity="0.5"/>
<circle cx="292.64" cy="197.04" r="0.3" fill="#4a3aa0" opacity="0.5"/>
<circle cx="293.25" cy="214.79" r="0.3" fill="#4a3aa0" opacity="0.5"/>
<circle cx="291.78" cy="197.29" r="0.3" fill="#4a3aa0" opacity="0.5"/>
<circle cx="291.31" cy="203.81" r="0.3" fill="#4a3aa0" opacity="0.5"/>
<circle cx="290.59" cy="219.96" r="0.3" fill="#4a3aa0" opacity="0.5"/>
<circle cx="288.10" cy="211.83" r="0.3" fill="#4a3aa0" opacity="0.5"/>
<circle cx="291.86" cy="219.66" r="0.3" fill="#4a3aa0" opacity="0.5"/>
<circle cx="293.91" cy="211.91" r="0.3" fill="#4a3aa0" opacity="0.5"/>
<circle cx="292.17" cy="214.11" r="0.3" fill="#4a3aa0" opacity="0.5"/>
<circle cx="291.76" cy="211.50" r="0.3" fill="#4a3aa0" opacity="0.5"/>
<circle cx="289.16" cy="213.34" r="0.3" fill="#4a3aa0" opacity="0.5"/>
<circle cx="290.51" cy="207.90" r="0.3" fill="#4a3aa0" opacity="0.5"/>
<circle cx="288.15" cy="200.71" r="0.3" fill="#4a3aa0" opacity="0.5"/>
<circle cx="289.84" cy="196.96" r="0.3" fill="#4a3aa0" opacity="0.5"/>
<circle cx="289.36" cy="213.05" r="0.3" fill="#4a3aa0" opacity="0.5"/>
<circle cx="296.76" cy="205.59" r="0.3" fill="#4a3aa0" opacity="0.5"/>
<circle cx="291.10" cy="210.61" r="0.3" fill="#4a3aa0" opacity="0.5"/>
<circle cx="294.31" cy="202.71" r="0.3" fill="#4a3aa0" opacity="0.5"/>
<circle cx="289.34" cy="204.28" r="0.3" fill="#4a3aa0" opacity="0.5"/>
<circle cx="291.97" cy="207.20" r="0.3" fill="#4a3aa0" opacity="0.5"/>
</g>
<rect x="287.00" y="160.60" width="54.60" height="61.80" fill="none" stroke="#9a9a9a" stroke-width="0.35" />
<path d="M308.5,222.4 L308.5,195.9 L325.3,195.9 L325.3,222.4" fill="none" stroke="#555566" stroke-width="0.45"/>
<text transform="translate(330.40,190.80)" font-size="2.5" text-anchor="middle" font-weight="normal" fill="#2a2a2a" >C-kit, LIN subset</text>
<line x1="285.60" y1="167.00" x2="287.00" y2="167.00" stroke="#555" stroke-width="0.45" />
<text transform="translate(284.00,169.20)" font-size="6.0" text-anchor="end" font-weight="normal" fill="#2a2a2a" >10<tspan font-size="3.6" dy="-2.2">5</tspan></text>
<line x1="285.60" y1="181.80" x2="287.00" y2="181.80" stroke="#555" stroke-width="0.45" />
<text transform="translate(284.00,184.00)" font-size="6.0" text-anchor="end" font-weight="normal" fill="#2a2a2a" >10<tspan font-size="3.6" dy="-2.2">4</tspan></text>
<line x1="285.60" y1="198.80" x2="287.00" y2="198.80" stroke="#555" stroke-width="0.45" />
<text transform="translate(284.00,201.00)" font-size="6.0" text-anchor="end" font-weight="normal" fill="#2a2a2a" >10<tspan font-size="3.6" dy="-2.2">3</tspan></text>
<line x1="285.60" y1="208.40" x2="287.00" y2="208.40" stroke="#555" stroke-width="0.45" />
<text transform="translate(284.00,210.60)" font-size="6.0" text-anchor="end" font-weight="normal" fill="#2a2a2a" >0</text>
<line x1="285.60" y1="219.60" x2="287.00" y2="219.60" stroke="#555" stroke-width="0.45" />
<text transform="translate(284.00,221.80)" font-size="6.0" text-anchor="end" font-weight="normal" fill="#2a2a2a" >−10<tspan font-size="3.6" dy="-2.2">3</tspan></text>
<line x1="285.00" y1="208.60" x2="287.00" y2="208.60" stroke="#111" stroke-width="1.0" />
<line x1="291.20" y1="222.40" x2="291.20" y2="223.80" stroke="#555" stroke-width="0.45" />
<text transform="translate(293.00,231.20) rotate(-45)" font-size="6.0" text-anchor="end" font-weight="normal" fill="#2a2a2a" >−10<tspan font-size="3.6" dy="-2.2">3</tspan></text>
<line x1="300.00" y1="222.40" x2="300.00" y2="223.80" stroke="#555" stroke-width="0.45" />
<text transform="translate(301.80,231.20) rotate(-45)" font-size="6.0" text-anchor="end" font-weight="normal" fill="#2a2a2a" >0</text>
<line x1="308.20" y1="222.40" x2="308.20" y2="223.80" stroke="#555" stroke-width="0.45" />
<text transform="translate(310.00,231.20) rotate(-45)" font-size="6.0" text-anchor="end" font-weight="normal" fill="#2a2a2a" >10<tspan font-size="3.6" dy="-2.2">3</tspan></text>
<line x1="324.00" y1="222.40" x2="324.00" y2="223.80" stroke="#555" stroke-width="0.45" />
<text transform="translate(325.80,231.20) rotate(-45)" font-size="6.0" text-anchor="end" font-weight="normal" fill="#2a2a2a" >10<tspan font-size="3.6" dy="-2.2">4</tspan></text>
<line x1="338.20" y1="222.40" x2="338.20" y2="223.80" stroke="#555" stroke-width="0.45" />
<text transform="translate(340.00,231.20) rotate(-45)" font-size="6.0" text-anchor="end" font-weight="normal" fill="#2a2a2a" >10<tspan font-size="3.6" dy="-2.2">5</tspan></text>
<line x1="299.20" y1="222.40" x2="299.20" y2="224.40" stroke="#111" stroke-width="1.0" />
<text transform="translate(268.40,191.00) rotate(-90)" font-size="7.8" text-anchor="middle" font-weight="bold" fill="#222"  textLength="38" lengthAdjust="spacingAndGlyphs">Lineage cocktail</text>
<text transform="translate(312.60,252.40)" font-size="7.8" text-anchor="middle" font-weight="bold" fill="#222"  textLength="13.6" lengthAdjust="spacingAndGlyphs">c-KIT</text>
<line x1="328.20" y1="212.00" x2="353.53" y2="196.98" stroke="#2fa784" stroke-width="0.8" />
<polygon points="356.20,195.40 354.04,198.42 352.51,195.84" fill="#2fa784"/>
<clipPath id="cp5"><rect x="372.4" y="160.6" width="54.60000000000002" height="61.80000000000001"/></clipPath>
<g clip-path="url(#cp5)">
<g filter="url(#b15)">
<ellipse cx="401" cy="192.5" rx="20" ry="7.5" fill="#5a4ab0" opacity="0.42"/>
<ellipse cx="385.4" cy="198" rx="5.6" ry="14" fill="#4636a0" opacity="0.8"/>
<ellipse cx="386" cy="208.6" rx="9.0" ry="9.6" fill="#392c94" opacity="1"/>
<ellipse cx="405" cy="208.8" rx="19.5" ry="6.2" fill="#3b2e96" opacity="1"/>
<ellipse cx="402" cy="216" rx="18" ry="4" fill="#5a4ab0" opacity="0.5"/>
</g>
<g filter="url(#b1)">
<ellipse cx="396" cy="208.5" rx="13" ry="3.5" fill="#3a7fd8" opacity="1"/>
<ellipse cx="392.5" cy="208.5" rx="10" ry="2.4" fill="#35c0e6" opacity="1"/>
<ellipse cx="385.3" cy="208.5" rx="5.5" ry="5.2" fill="#35c0e6" opacity="1"/>
<ellipse cx="385.1" cy="208.5" rx="3.9" ry="3.8" fill="#5ccc60" opacity="1"/>
<ellipse cx="385.0" cy="208.5" rx="2.5" ry="2.6" fill="#f0e428" opacity="1"/>
<ellipse cx="384.9" cy="208.5" rx="1.25" ry="1.35" fill="#e8301a" opacity="1"/>
</g>
<circle cx="407.31" cy="192.38" r="0.3" fill="#43349c" opacity="0.55"/>
<circle cx="404.27" cy="190.39" r="0.3" fill="#43349c" opacity="0.55"/>
<circle cx="382.61" cy="197.02" r="0.3" fill="#43349c" opacity="0.55"/>
<circle cx="404.59" cy="196.57" r="0.3" fill="#43349c" opacity="0.55"/>
<circle cx="418.66" cy="190.28" r="0.3" fill="#43349c" opacity="0.55"/>
<circle cx="396.87" cy="191.25" r="0.3" fill="#43349c" opacity="0.55"/>
<circle cx="405.27" cy="202.70" r="0.3" fill="#43349c" opacity="0.55"/>
<circle cx="400.49" cy="186.17" r="0.3" fill="#43349c" opacity="0.55"/>
<circle cx="397.91" cy="196.19" r="0.3" fill="#43349c" opacity="0.55"/>
<circle cx="389.70" cy="194.87" r="0.3" fill="#43349c" opacity="0.55"/>
<circle cx="387.22" cy="191.44" r="0.3" fill="#43349c" opacity="0.55"/>
<circle cx="409.03" cy="191.04" r="0.3" fill="#43349c" opacity="0.55"/>
<circle cx="385.99" cy="192.89" r="0.3" fill="#43349c" opacity="0.55"/>
<circle cx="416.65" cy="190.59" r="0.3" fill="#43349c" opacity="0.55"/>
<circle cx="386.29" cy="198.13" r="0.3" fill="#43349c" opacity="0.55"/>
<circle cx="390.93" cy="191.80" r="0.3" fill="#43349c" opacity="0.55"/>
<circle cx="411.08" cy="191.55" r="0.3" fill="#43349c" opacity="0.55"/>
<circle cx="412.73" cy="192.33" r="0.3" fill="#43349c" opacity="0.55"/>
<circle cx="410.26" cy="195.48" r="0.3" fill="#43349c" opacity="0.55"/>
<circle cx="384.46" cy="185.26" r="0.3" fill="#43349c" opacity="0.55"/>
<circle cx="406.77" cy="189.73" r="0.3" fill="#43349c" opacity="0.55"/>
<circle cx="419.23" cy="186.16" r="0.3" fill="#43349c" opacity="0.55"/>
<circle cx="391.42" cy="197.97" r="0.3" fill="#43349c" opacity="0.55"/>
<circle cx="381.47" cy="189.41" r="0.3" fill="#43349c" opacity="0.55"/>
<circle cx="381.60" cy="186.15" r="0.3" fill="#43349c" opacity="0.55"/>
<circle cx="384.27" cy="184.27" r="0.3" fill="#43349c" opacity="0.55"/>
<circle cx="393.75" cy="190.65" r="0.3" fill="#43349c" opacity="0.55"/>
<circle cx="416.30" cy="188.31" r="0.3" fill="#43349c" opacity="0.55"/>
<circle cx="400.94" cy="195.01" r="0.3" fill="#43349c" opacity="0.55"/>
<circle cx="404.57" cy="192.58" r="0.3" fill="#43349c" opacity="0.55"/>
<circle cx="398.99" cy="189.88" r="0.3" fill="#43349c" opacity="0.55"/>
<circle cx="413.69" cy="188.74" r="0.3" fill="#43349c" opacity="0.55"/>
<circle cx="395.89" cy="187.11" r="0.3" fill="#43349c" opacity="0.55"/>
<circle cx="398.14" cy="185.99" r="0.3" fill="#43349c" opacity="0.55"/>
<circle cx="396.82" cy="193.45" r="0.3" fill="#43349c" opacity="0.55"/>
<circle cx="404.24" cy="190.58" r="0.3" fill="#43349c" opacity="0.55"/>
<circle cx="420.93" cy="192.54" r="0.3" fill="#43349c" opacity="0.55"/>
<circle cx="409.83" cy="192.89" r="0.3" fill="#43349c" opacity="0.55"/>
<circle cx="405.84" cy="187.43" r="0.3" fill="#43349c" opacity="0.55"/>
<circle cx="421.08" cy="193.98" r="0.3" fill="#43349c" opacity="0.55"/>
<circle cx="393.65" cy="185.68" r="0.3" fill="#43349c" opacity="0.55"/>
<circle cx="398.57" cy="194.34" r="0.3" fill="#43349c" opacity="0.55"/>
<circle cx="409.08" cy="188.17" r="0.3" fill="#43349c" opacity="0.55"/>
<circle cx="405.67" cy="197.49" r="0.3" fill="#43349c" opacity="0.55"/>
<circle cx="392.62" cy="186.04" r="0.3" fill="#43349c" opacity="0.55"/>
<circle cx="381.07" cy="190.61" r="0.3" fill="#43349c" opacity="0.55"/>
<circle cx="405.05" cy="195.70" r="0.3" fill="#43349c" opacity="0.55"/>
<circle cx="414.46" cy="192.01" r="0.3" fill="#43349c" opacity="0.55"/>
<circle cx="415.16" cy="190.14" r="0.3" fill="#43349c" opacity="0.55"/>
<circle cx="414.28" cy="194.94" r="0.3" fill="#43349c" opacity="0.55"/>
<circle cx="392.23" cy="186.66" r="0.3" fill="#43349c" opacity="0.55"/>
<circle cx="415.90" cy="193.40" r="0.3" fill="#43349c" opacity="0.55"/>
<circle cx="418.46" cy="184.60" r="0.3" fill="#43349c" opacity="0.55"/>
<circle cx="395.22" cy="195.92" r="0.3" fill="#43349c" opacity="0.55"/>
<circle cx="413.69" cy="193.91" r="0.3" fill="#43349c" opacity="0.55"/>
<circle cx="389.22" cy="191.01" r="0.3" fill="#43349c" opacity="0.55"/>
<circle cx="405.88" cy="188.79" r="0.3" fill="#43349c" opacity="0.55"/>
<circle cx="389.47" cy="186.48" r="0.3" fill="#43349c" opacity="0.55"/>
<circle cx="391.44" cy="191.06" r="0.3" fill="#43349c" opacity="0.55"/>
<circle cx="399.85" cy="183.03" r="0.3" fill="#43349c" opacity="0.55"/>
<circle cx="384.60" cy="193.69" r="0.3" fill="#43349c" opacity="0.55"/>
<circle cx="390.55" cy="183.74" r="0.3" fill="#43349c" opacity="0.55"/>
<circle cx="404.76" cy="198.47" r="0.3" fill="#43349c" opacity="0.55"/>
<circle cx="402.40" cy="185.35" r="0.3" fill="#43349c" opacity="0.55"/>
<circle cx="400.54" cy="188.53" r="0.3" fill="#43349c" opacity="0.55"/>
<circle cx="388.88" cy="189.45" r="0.3" fill="#43349c" opacity="0.55"/>
<circle cx="388.41" cy="189.71" r="0.3" fill="#43349c" opacity="0.55"/>
<circle cx="404.14" cy="186.93" r="0.3" fill="#43349c" opacity="0.55"/>
<circle cx="397.50" cy="188.46" r="0.3" fill="#43349c" opacity="0.55"/>
<circle cx="382.83" cy="190.72" r="0.3" fill="#43349c" opacity="0.55"/>
<circle cx="421.88" cy="189.50" r="0.3" fill="#43349c" opacity="0.55"/>
<circle cx="406.94" cy="192.52" r="0.3" fill="#43349c" opacity="0.55"/>
<circle cx="413.28" cy="194.37" r="0.3" fill="#43349c" opacity="0.55"/>
<circle cx="395.14" cy="196.04" r="0.3" fill="#43349c" opacity="0.55"/>
<circle cx="402.30" cy="192.17" r="0.3" fill="#43349c" opacity="0.55"/>
<circle cx="421.61" cy="191.15" r="0.3" fill="#43349c" opacity="0.55"/>
<circle cx="416.51" cy="185.20" r="0.3" fill="#43349c" opacity="0.55"/>
<circle cx="391.73" cy="191.50" r="0.3" fill="#43349c" opacity="0.55"/>
<circle cx="412.95" cy="181.27" r="0.3" fill="#43349c" opacity="0.55"/>
<circle cx="412.46" cy="195.89" r="0.3" fill="#43349c" opacity="0.55"/>
<circle cx="414.57" cy="194.35" r="0.3" fill="#43349c" opacity="0.55"/>
<circle cx="382.55" cy="190.22" r="0.3" fill="#43349c" opacity="0.55"/>
<circle cx="389.24" cy="191.79" r="0.3" fill="#43349c" opacity="0.55"/>
<circle cx="383.09" cy="192.71" r="0.3" fill="#43349c" opacity="0.55"/>
<circle cx="403.85" cy="194.43" r="0.3" fill="#43349c" opacity="0.55"/>
<circle cx="419.84" cy="187.38" r="0.3" fill="#43349c" opacity="0.55"/>
<circle cx="418.31" cy="196.59" r="0.3" fill="#43349c" opacity="0.55"/>
<circle cx="397.29" cy="193.38" r="0.3" fill="#43349c" opacity="0.55"/>
<circle cx="385.92" cy="194.36" r="0.3" fill="#43349c" opacity="0.55"/>
<circle cx="404.14" cy="190.12" r="0.3" fill="#43349c" opacity="0.55"/>
<circle cx="407.27" cy="197.45" r="0.3" fill="#43349c" opacity="0.55"/>
<circle cx="397.12" cy="189.19" r="0.3" fill="#43349c" opacity="0.55"/>
<circle cx="399.38" cy="197.28" r="0.3" fill="#43349c" opacity="0.55"/>
<circle cx="421.66" cy="200.86" r="0.3" fill="#43349c" opacity="0.55"/>
<circle cx="390.09" cy="194.36" r="0.3" fill="#43349c" opacity="0.55"/>
<circle cx="395.43" cy="191.83" r="0.3" fill="#43349c" opacity="0.55"/>
<circle cx="418.01" cy="198.08" r="0.3" fill="#43349c" opacity="0.55"/>
<circle cx="382.93" cy="186.16" r="0.3" fill="#43349c" opacity="0.55"/>
<circle cx="413.24" cy="189.37" r="0.3" fill="#43349c" opacity="0.55"/>
<circle cx="421.40" cy="184.72" r="0.3" fill="#43349c" opacity="0.55"/>
<circle cx="383.29" cy="195.63" r="0.3" fill="#43349c" opacity="0.55"/>
<circle cx="419.51" cy="196.96" r="0.3" fill="#43349c" opacity="0.55"/>
<circle cx="408.75" cy="189.18" r="0.3" fill="#43349c" opacity="0.55"/>
<circle cx="412.07" cy="196.74" r="0.3" fill="#43349c" opacity="0.55"/>
<circle cx="385.32" cy="189.45" r="0.3" fill="#43349c" opacity="0.55"/>
<circle cx="386.09" cy="194.10" r="0.3" fill="#43349c" opacity="0.55"/>
<circle cx="400.73" cy="192.63" r="0.3" fill="#43349c" opacity="0.55"/>
<circle cx="386.87" cy="193.90" r="0.3" fill="#43349c" opacity="0.55"/>
<circle cx="408.78" cy="198.13" r="0.3" fill="#43349c" opacity="0.55"/>
<circle cx="389.00" cy="191.57" r="0.3" fill="#43349c" opacity="0.55"/>
<circle cx="382.48" cy="193.85" r="0.3" fill="#43349c" opacity="0.55"/>
<circle cx="419.29" cy="189.61" r="0.3" fill="#43349c" opacity="0.55"/>
<circle cx="416.54" cy="192.89" r="0.3" fill="#43349c" opacity="0.55"/>
<circle cx="399.34" cy="189.41" r="0.3" fill="#43349c" opacity="0.55"/>
<circle cx="384.98" cy="198.80" r="0.3" fill="#43349c" opacity="0.55"/>
<circle cx="406.76" cy="187.26" r="0.3" fill="#43349c" opacity="0.55"/>
<circle cx="399.55" cy="186.52" r="0.3" fill="#43349c" opacity="0.55"/>
<circle cx="400.58" cy="198.08" r="0.3" fill="#43349c" opacity="0.55"/>
<circle cx="406.76" cy="192.99" r="0.3" fill="#43349c" opacity="0.55"/>
<circle cx="383.33" cy="193.49" r="0.3" fill="#43349c" opacity="0.55"/>
<circle cx="410.26" cy="188.62" r="0.3" fill="#43349c" opacity="0.55"/>
<circle cx="416.70" cy="190.17" r="0.3" fill="#43349c" opacity="0.55"/>
<circle cx="391.92" cy="188.77" r="0.3" fill="#43349c" opacity="0.55"/>
<circle cx="392.12" cy="192.38" r="0.3" fill="#43349c" opacity="0.55"/>
<circle cx="415.42" cy="189.62" r="0.3" fill="#43349c" opacity="0.55"/>
<circle cx="401.13" cy="193.35" r="0.3" fill="#43349c" opacity="0.55"/>
<circle cx="394.04" cy="192.82" r="0.3" fill="#43349c" opacity="0.55"/>
<circle cx="421.12" cy="189.73" r="0.3" fill="#43349c" opacity="0.55"/>
<circle cx="383.33" cy="196.28" r="0.3" fill="#43349c" opacity="0.55"/>
<circle cx="389.66" cy="186.90" r="0.3" fill="#43349c" opacity="0.55"/>
<circle cx="400.58" cy="190.22" r="0.3" fill="#43349c" opacity="0.55"/>
<circle cx="389.27" cy="194.39" r="0.3" fill="#43349c" opacity="0.55"/>
<circle cx="418.93" cy="190.10" r="0.3" fill="#43349c" opacity="0.55"/>
<circle cx="385.00" cy="188.65" r="0.3" fill="#43349c" opacity="0.55"/>
<circle cx="383.36" cy="200.29" r="0.3" fill="#43349c" opacity="0.55"/>
<circle cx="410.79" cy="187.63" r="0.3" fill="#43349c" opacity="0.55"/>
<circle cx="414.09" cy="189.66" r="0.3" fill="#43349c" opacity="0.55"/>
<circle cx="381.08" cy="193.08" r="0.3" fill="#43349c" opacity="0.55"/>
<circle cx="415.12" cy="188.15" r="0.3" fill="#43349c" opacity="0.55"/>
<circle cx="398.85" cy="190.52" r="0.3" fill="#43349c" opacity="0.55"/>
<circle cx="418.39" cy="192.16" r="0.3" fill="#43349c" opacity="0.55"/>
<circle cx="386.66" cy="196.74" r="0.3" fill="#43349c" opacity="0.55"/>
<circle cx="388.39" cy="191.91" r="0.3" fill="#43349c" opacity="0.55"/>
<circle cx="389.07" cy="183.96" r="0.3" fill="#43349c" opacity="0.55"/>
<circle cx="384.25" cy="196.26" r="0.3" fill="#43349c" opacity="0.55"/>
<circle cx="401.31" cy="194.22" r="0.3" fill="#43349c" opacity="0.55"/>
<circle cx="391.50" cy="214.13" r="0.3" fill="#43349c" opacity="0.5"/>
<circle cx="409.73" cy="216.97" r="0.3" fill="#43349c" opacity="0.5"/>
<circle cx="414.09" cy="214.75" r="0.3" fill="#43349c" opacity="0.5"/>
<circle cx="382.76" cy="214.00" r="0.3" fill="#43349c" opacity="0.5"/>
<circle cx="410.77" cy="217.02" r="0.3" fill="#43349c" opacity="0.5"/>
<circle cx="382.33" cy="215.62" r="0.3" fill="#43349c" opacity="0.5"/>
<circle cx="414.05" cy="215.94" r="0.3" fill="#43349c" opacity="0.5"/>
<circle cx="416.31" cy="217.96" r="0.3" fill="#43349c" opacity="0.5"/>
<circle cx="400.71" cy="219.56" r="0.3" fill="#43349c" opacity="0.5"/>
<circle cx="400.02" cy="213.64" r="0.3" fill="#43349c" opacity="0.5"/>
<circle cx="416.62" cy="213.20" r="0.3" fill="#43349c" opacity="0.5"/>
<circle cx="414.93" cy="214.91" r="0.3" fill="#43349c" opacity="0.5"/>
<circle cx="395.42" cy="214.49" r="0.3" fill="#43349c" opacity="0.5"/>
<circle cx="404.99" cy="215.47" r="0.3" fill="#43349c" opacity="0.5"/>
<circle cx="380.19" cy="216.23" r="0.3" fill="#43349c" opacity="0.5"/>
<circle cx="401.66" cy="213.40" r="0.3" fill="#43349c" opacity="0.5"/>
<circle cx="385.07" cy="214.22" r="0.3" fill="#43349c" opacity="0.5"/>
<circle cx="416.35" cy="218.39" r="0.3" fill="#43349c" opacity="0.5"/>
<circle cx="393.48" cy="213.71" r="0.3" fill="#43349c" opacity="0.5"/>
<circle cx="411.56" cy="215.85" r="0.3" fill="#43349c" opacity="0.5"/>
<circle cx="382.57" cy="218.19" r="0.3" fill="#43349c" opacity="0.5"/>
<circle cx="400.78" cy="218.34" r="0.3" fill="#43349c" opacity="0.5"/>
<circle cx="401.56" cy="216.66" r="0.3" fill="#43349c" opacity="0.5"/>
<circle cx="380.87" cy="213.71" r="0.3" fill="#43349c" opacity="0.5"/>
<circle cx="420.63" cy="213.31" r="0.3" fill="#43349c" opacity="0.5"/>
<circle cx="384.31" cy="214.88" r="0.3" fill="#43349c" opacity="0.5"/>
<circle cx="390.52" cy="213.30" r="0.3" fill="#43349c" opacity="0.5"/>
<circle cx="384.05" cy="213.68" r="0.3" fill="#43349c" opacity="0.5"/>
<circle cx="409.36" cy="213.19" r="0.3" fill="#43349c" opacity="0.5"/>
<circle cx="405.17" cy="213.53" r="0.3" fill="#43349c" opacity="0.5"/>
<circle cx="404.21" cy="217.62" r="0.3" fill="#43349c" opacity="0.5"/>
<circle cx="384.32" cy="213.67" r="0.3" fill="#43349c" opacity="0.5"/>
<circle cx="416.52" cy="213.19" r="0.3" fill="#43349c" opacity="0.5"/>
<circle cx="385.17" cy="213.89" r="0.3" fill="#43349c" opacity="0.5"/>
<circle cx="400.73" cy="215.43" r="0.3" fill="#43349c" opacity="0.5"/>
<circle cx="385.13" cy="213.01" r="0.3" fill="#43349c" opacity="0.5"/>
<circle cx="397.04" cy="215.62" r="0.3" fill="#43349c" opacity="0.5"/>
<circle cx="416.17" cy="216.04" r="0.3" fill="#43349c" opacity="0.5"/>
<circle cx="386.18" cy="217.46" r="0.3" fill="#43349c" opacity="0.5"/>
<circle cx="386.90" cy="215.20" r="0.3" fill="#43349c" opacity="0.5"/>
<circle cx="414.69" cy="215.75" r="0.3" fill="#43349c" opacity="0.5"/>
<circle cx="397.66" cy="214.14" r="0.3" fill="#43349c" opacity="0.5"/>
<circle cx="415.27" cy="215.97" r="0.3" fill="#43349c" opacity="0.5"/>
<circle cx="419.53" cy="213.48" r="0.3" fill="#43349c" opacity="0.5"/>
<circle cx="412.63" cy="214.17" r="0.3" fill="#43349c" opacity="0.5"/>
<circle cx="394.07" cy="214.89" r="0.3" fill="#43349c" opacity="0.5"/>
<circle cx="398.29" cy="218.38" r="0.3" fill="#43349c" opacity="0.5"/>
<circle cx="418.34" cy="213.64" r="0.3" fill="#43349c" opacity="0.5"/>
<circle cx="414.23" cy="213.57" r="0.3" fill="#43349c" opacity="0.5"/>
<circle cx="401.73" cy="213.81" r="0.3" fill="#43349c" opacity="0.5"/>
<circle cx="420.23" cy="215.08" r="0.3" fill="#43349c" opacity="0.5"/>
<circle cx="397.73" cy="213.91" r="0.3" fill="#43349c" opacity="0.5"/>
<circle cx="406.57" cy="215.43" r="0.3" fill="#43349c" opacity="0.5"/>
<circle cx="382.91" cy="215.78" r="0.3" fill="#43349c" opacity="0.5"/>
<circle cx="398.19" cy="213.62" r="0.3" fill="#43349c" opacity="0.5"/>
<circle cx="385.86" cy="213.02" r="0.3" fill="#43349c" opacity="0.5"/>
<circle cx="420.73" cy="214.17" r="0.3" fill="#43349c" opacity="0.5"/>
<circle cx="406.59" cy="219.95" r="0.3" fill="#43349c" opacity="0.5"/>
<circle cx="413.99" cy="217.66" r="0.3" fill="#43349c" opacity="0.5"/>
<circle cx="381.44" cy="217.14" r="0.3" fill="#43349c" opacity="0.5"/>
</g>
<rect x="372.40" y="160.60" width="54.60" height="61.80" fill="none" stroke="#9a9a9a" stroke-width="0.35" />
<rect x="393.10" y="179.40" width="30.60" height="17.20" fill="none" stroke="#555566" stroke-width="0.45" />
<text transform="translate(421.20,153.60)" font-size="7.3" text-anchor="middle" font-weight="normal" fill="#1a1a1a" >LSK</text>
<line x1="371.00" y1="167.00" x2="372.40" y2="167.00" stroke="#555" stroke-width="0.45" />
<text transform="translate(369.40,169.20)" font-size="6.0" text-anchor="end" font-weight="normal" fill="#2a2a2a" >10<tspan font-size="3.6" dy="-2.2">5</tspan></text>
<line x1="371.00" y1="181.80" x2="372.40" y2="181.80" stroke="#555" stroke-width="0.45" />
<text transform="translate(369.40,184.00)" font-size="6.0" text-anchor="end" font-weight="normal" fill="#2a2a2a" >10<tspan font-size="3.6" dy="-2.2">4</tspan></text>
<line x1="371.00" y1="198.80" x2="372.40" y2="198.80" stroke="#555" stroke-width="0.45" />
<text transform="translate(369.40,201.00)" font-size="6.0" text-anchor="end" font-weight="normal" fill="#2a2a2a" >10<tspan font-size="3.6" dy="-2.2">3</tspan></text>
<line x1="371.00" y1="208.60" x2="372.40" y2="208.60" stroke="#555" stroke-width="0.45" />
<text transform="translate(369.40,210.80)" font-size="6.0" text-anchor="end" font-weight="normal" fill="#2a2a2a" >0</text>
<line x1="371.00" y1="219.60" x2="372.40" y2="219.60" stroke="#555" stroke-width="0.45" />
<text transform="translate(369.40,221.80)" font-size="6.0" text-anchor="end" font-weight="normal" fill="#2a2a2a" >−10<tspan font-size="3.6" dy="-2.2">3</tspan></text>
<line x1="370.40" y1="208.80" x2="372.40" y2="208.80" stroke="#111" stroke-width="1.0" />
<line x1="376.20" y1="222.40" x2="376.20" y2="223.80" stroke="#555" stroke-width="0.45" />
<text transform="translate(378.00,231.20) rotate(-45)" font-size="6.0" text-anchor="end" font-weight="normal" fill="#2a2a2a" >−10<tspan font-size="3.6" dy="-2.2">3</tspan></text>
<line x1="386.00" y1="222.40" x2="386.00" y2="223.80" stroke="#555" stroke-width="0.45" />
<text transform="translate(387.80,231.20) rotate(-45)" font-size="6.0" text-anchor="end" font-weight="normal" fill="#2a2a2a" >0</text>
<line x1="394.20" y1="222.40" x2="394.20" y2="223.80" stroke="#555" stroke-width="0.45" />
<text transform="translate(396.00,231.20) rotate(-45)" font-size="6.0" text-anchor="end" font-weight="normal" fill="#2a2a2a" >10<tspan font-size="3.6" dy="-2.2">3</tspan></text>
<line x1="409.40" y1="222.40" x2="409.40" y2="223.80" stroke="#555" stroke-width="0.45" />
<text transform="translate(411.20,231.20) rotate(-45)" font-size="6.0" text-anchor="end" font-weight="normal" fill="#2a2a2a" >10<tspan font-size="3.6" dy="-2.2">4</tspan></text>
<line x1="422.60" y1="222.40" x2="422.60" y2="223.80" stroke="#555" stroke-width="0.45" />
<text transform="translate(424.40,231.20) rotate(-45)" font-size="6.0" text-anchor="end" font-weight="normal" fill="#2a2a2a" >10<tspan font-size="3.6" dy="-2.2">5</tspan></text>
<line x1="385.00" y1="222.40" x2="385.00" y2="224.40" stroke="#111" stroke-width="1.0" />
<text transform="translate(354.80,190.00) rotate(-90)" font-size="7.8" text-anchor="middle" font-weight="bold" fill="#222"  textLength="11" lengthAdjust="spacingAndGlyphs">cKIT</text>
<text transform="translate(397.20,252.40)" font-size="7.8" text-anchor="middle" font-weight="bold" fill="#222"  textLength="13" lengthAdjust="spacingAndGlyphs">SCA1</text>
<line x1="426.60" y1="180.40" x2="465.70" y2="180.40" stroke="#2fa784" stroke-width="0.8" />
<polygon points="468.80,180.40 465.40,181.90 465.40,178.90" fill="#2fa784"/>
<clipPath id="cp6"><rect x="457.6" y="160.8" width="54.60000000000002" height="62.79999999999998"/></clipPath>
<g clip-path="url(#cp6)">
<ellipse cx="500" cy="166.0" rx="6.5" ry="3.4" fill="#7a74b8" opacity="0.55" filter="url(#b15)"/>
<ellipse cx="483" cy="174.4" rx="2.2" ry="1.6" fill="#8a84c4" opacity="0.55" filter="url(#b1)"/>
<circle cx="496.03" cy="165.30" r="0.3" fill="#5f58a6" opacity="0.6"/>
<circle cx="496.92" cy="164.91" r="0.3" fill="#5f58a6" opacity="0.6"/>
<circle cx="485.84" cy="165.35" r="0.3" fill="#5f58a6" opacity="0.6"/>
<circle cx="495.70" cy="165.61" r="0.3" fill="#5f58a6" opacity="0.6"/>
<circle cx="492.65" cy="167.01" r="0.3" fill="#5f58a6" opacity="0.6"/>
<circle cx="503.71" cy="166.60" r="0.3" fill="#5f58a6" opacity="0.6"/>
<circle cx="496.04" cy="172.39" r="0.3" fill="#5f58a6" opacity="0.6"/>
<circle cx="504.86" cy="170.82" r="0.3" fill="#5f58a6" opacity="0.6"/>
<circle cx="505.93" cy="166.32" r="0.3" fill="#5f58a6" opacity="0.6"/>
<circle cx="498.22" cy="171.51" r="0.3" fill="#5f58a6" opacity="0.6"/>
<circle cx="495.68" cy="167.07" r="0.3" fill="#5f58a6" opacity="0.6"/>
<circle cx="501.27" cy="168.84" r="0.3" fill="#5f58a6" opacity="0.6"/>
<circle cx="497.34" cy="171.04" r="0.3" fill="#5f58a6" opacity="0.6"/>
<circle cx="497.93" cy="170.11" r="0.3" fill="#5f58a6" opacity="0.6"/>
<circle cx="505.42" cy="169.87" r="0.3" fill="#5f58a6" opacity="0.6"/>
<circle cx="503.40" cy="163.32" r="0.3" fill="#5f58a6" opacity="0.6"/>
<circle cx="491.13" cy="165.27" r="0.3" fill="#5f58a6" opacity="0.6"/>
<circle cx="501.85" cy="172.90" r="0.3" fill="#5f58a6" opacity="0.6"/>
<circle cx="491.67" cy="168.60" r="0.3" fill="#5f58a6" opacity="0.6"/>
<circle cx="493.88" cy="164.86" r="0.3" fill="#5f58a6" opacity="0.6"/>
<circle cx="497.34" cy="169.99" r="0.3" fill="#5f58a6" opacity="0.6"/>
<circle cx="500.28" cy="171.75" r="0.3" fill="#5f58a6" opacity="0.6"/>
<circle cx="493.09" cy="170.70" r="0.3" fill="#5f58a6" opacity="0.6"/>
<circle cx="504.58" cy="167.75" r="0.3" fill="#5f58a6" opacity="0.6"/>
<circle cx="501.86" cy="165.47" r="0.3" fill="#5f58a6" opacity="0.6"/>
<circle cx="492.46" cy="166.04" r="0.3" fill="#5f58a6" opacity="0.6"/>
<circle cx="495.14" cy="177.90" r="0.3" fill="#5f58a6" opacity="0.6"/>
<circle cx="496.09" cy="173.44" r="0.3" fill="#5f58a6" opacity="0.6"/>
<circle cx="500.21" cy="168.62" r="0.3" fill="#5f58a6" opacity="0.6"/>
<circle cx="503.46" cy="164.70" r="0.3" fill="#5f58a6" opacity="0.6"/>
<circle cx="504.50" cy="168.85" r="0.3" fill="#5f58a6" opacity="0.6"/>
<circle cx="489.91" cy="169.66" r="0.3" fill="#5f58a6" opacity="0.6"/>
<circle cx="502.32" cy="169.13" r="0.3" fill="#5f58a6" opacity="0.6"/>
<circle cx="508.51" cy="166.01" r="0.3" fill="#5f58a6" opacity="0.6"/>
<circle cx="502.07" cy="170.19" r="0.3" fill="#5f58a6" opacity="0.6"/>
<circle cx="493.60" cy="171.82" r="0.3" fill="#5f58a6" opacity="0.6"/>
<circle cx="490.30" cy="162.82" r="0.3" fill="#5f58a6" opacity="0.6"/>
<circle cx="502.13" cy="163.58" r="0.3" fill="#5f58a6" opacity="0.6"/>
<circle cx="498.30" cy="161.58" r="0.3" fill="#5f58a6" opacity="0.6"/>
<circle cx="499.41" cy="163.42" r="0.3" fill="#5f58a6" opacity="0.6"/>
<circle cx="501.05" cy="161.98" r="0.3" fill="#5f58a6" opacity="0.6"/>
<circle cx="501.69" cy="166.54" r="0.3" fill="#5f58a6" opacity="0.6"/>
<circle cx="499.38" cy="167.26" r="0.3" fill="#5f58a6" opacity="0.6"/>
<circle cx="499.78" cy="162.74" r="0.3" fill="#5f58a6" opacity="0.6"/>
<circle cx="483.61" cy="167.62" r="0.3" fill="#5f58a6" opacity="0.6"/>
<circle cx="493.39" cy="165.86" r="0.3" fill="#5f58a6" opacity="0.6"/>
<circle cx="494.42" cy="165.30" r="0.3" fill="#5f58a6" opacity="0.6"/>
<circle cx="492.66" cy="168.68" r="0.3" fill="#5f58a6" opacity="0.6"/>
<circle cx="498.16" cy="164.55" r="0.3" fill="#5f58a6" opacity="0.6"/>
<circle cx="493.09" cy="170.41" r="0.3" fill="#5f58a6" opacity="0.6"/>
<circle cx="495.04" cy="169.61" r="0.3" fill="#5f58a6" opacity="0.6"/>
<circle cx="492.50" cy="167.51" r="0.3" fill="#5f58a6" opacity="0.6"/>
<circle cx="501.05" cy="170.31" r="0.3" fill="#5f58a6" opacity="0.6"/>
<circle cx="503.81" cy="171.22" r="0.3" fill="#5f58a6" opacity="0.6"/>
<circle cx="496.76" cy="166.74" r="0.3" fill="#5f58a6" opacity="0.6"/>
<circle cx="503.65" cy="165.97" r="0.3" fill="#5f58a6" opacity="0.6"/>
<circle cx="505.34" cy="161.78" r="0.3" fill="#5f58a6" opacity="0.6"/>
<circle cx="502.92" cy="166.88" r="0.3" fill="#5f58a6" opacity="0.6"/>
<circle cx="487.20" cy="171.03" r="0.3" fill="#5f58a6" opacity="0.6"/>
<circle cx="500.87" cy="167.58" r="0.3" fill="#5f58a6" opacity="0.6"/>
<circle cx="492.54" cy="165.82" r="0.3" fill="#5f58a6" opacity="0.6"/>
<circle cx="508.07" cy="164.52" r="0.3" fill="#5f58a6" opacity="0.6"/>
<circle cx="478.17" cy="164.42" r="0.3" fill="#5f58a6" opacity="0.6"/>
<circle cx="491.80" cy="167.02" r="0.3" fill="#5f58a6" opacity="0.6"/>
<circle cx="496.64" cy="164.22" r="0.3" fill="#5f58a6" opacity="0.6"/>
<circle cx="493.95" cy="171.27" r="0.3" fill="#5f58a6" opacity="0.6"/>
<circle cx="490.35" cy="174.54" r="0.3" fill="#5f58a6" opacity="0.6"/>
<circle cx="495.74" cy="163.57" r="0.3" fill="#5f58a6" opacity="0.6"/>
<circle cx="503.72" cy="169.53" r="0.3" fill="#5f58a6" opacity="0.6"/>
<circle cx="492.74" cy="170.20" r="0.3" fill="#5f58a6" opacity="0.6"/>
<circle cx="487.96" cy="164.17" r="0.3" fill="#5f58a6" opacity="0.6"/>
<circle cx="505.76" cy="166.58" r="0.3" fill="#5f58a6" opacity="0.6"/>
<circle cx="491.19" cy="169.35" r="0.3" fill="#5f58a6" opacity="0.6"/>
<circle cx="504.50" cy="167.42" r="0.3" fill="#5f58a6" opacity="0.6"/>
<circle cx="488.16" cy="166.25" r="0.3" fill="#5f58a6" opacity="0.6"/>
<circle cx="501.51" cy="170.27" r="0.3" fill="#5f58a6" opacity="0.6"/>
<circle cx="510.12" cy="166.59" r="0.3" fill="#5f58a6" opacity="0.6"/>
<circle cx="496.11" cy="167.36" r="0.3" fill="#5f58a6" opacity="0.6"/>
<circle cx="497.42" cy="208.46" r="0.25" fill="#8a84c4" opacity="0.7"/>
<circle cx="498.85" cy="207.94" r="0.25" fill="#8a84c4" opacity="0.7"/>
<circle cx="497.32" cy="208.54" r="0.25" fill="#8a84c4" opacity="0.7"/>
<circle cx="488.35" cy="208.94" r="0.25" fill="#8a84c4" opacity="0.7"/>
<circle cx="491.67" cy="208.48" r="0.25" fill="#8a84c4" opacity="0.7"/>
<circle cx="486.74" cy="208.79" r="0.25" fill="#8a84c4" opacity="0.7"/>
<circle cx="493.45" cy="208.43" r="0.25" fill="#8a84c4" opacity="0.7"/>
<circle cx="498.91" cy="208.52" r="0.25" fill="#8a84c4" opacity="0.7"/>
<circle cx="493.55" cy="209.30" r="0.25" fill="#8a84c4" opacity="0.7"/>
<circle cx="495.81" cy="208.94" r="0.25" fill="#8a84c4" opacity="0.7"/>
<circle cx="488.60" cy="208.78" r="0.25" fill="#8a84c4" opacity="0.7"/>
<circle cx="488.57" cy="208.76" r="0.25" fill="#8a84c4" opacity="0.7"/>
</g>
<rect x="457.60" y="160.80" width="54.60" height="62.80" fill="none" stroke="#9a9a9a" stroke-width="0.35" />
<rect x="477.50" y="160.80" width="33.30" height="22.90" fill="none" stroke="#555566" stroke-width="0.45" />
<text transform="translate(493.60,190.40)" font-size="2.9" text-anchor="middle" font-weight="normal" fill="#2a2a2a" >PE-A, Comp-GFP-A subset</text>
<text transform="translate(495.00,193.80)" font-size="2.9" text-anchor="middle" font-weight="normal" fill="#2a2a2a" >95.2</text>
<line x1="456.20" y1="167.40" x2="457.60" y2="167.40" stroke="#555" stroke-width="0.45" />
<text transform="translate(454.60,169.60)" font-size="6.0" text-anchor="end" font-weight="normal" fill="#2a2a2a" >10<tspan font-size="3.6" dy="-2.2">5</tspan></text>
<line x1="456.20" y1="182.60" x2="457.60" y2="182.60" stroke="#555" stroke-width="0.45" />
<text transform="translate(454.60,184.80)" font-size="6.0" text-anchor="end" font-weight="normal" fill="#2a2a2a" >10<tspan font-size="3.6" dy="-2.2">4</tspan></text>
<line x1="456.20" y1="199.40" x2="457.60" y2="199.40" stroke="#555" stroke-width="0.45" />
<text transform="translate(454.60,201.60)" font-size="6.0" text-anchor="end" font-weight="normal" fill="#2a2a2a" >10<tspan font-size="3.6" dy="-2.2">3</tspan></text>
<line x1="456.20" y1="209.50" x2="457.60" y2="209.50" stroke="#555" stroke-width="0.45" />
<text transform="translate(454.60,211.70)" font-size="6.0" text-anchor="end" font-weight="normal" fill="#2a2a2a" >0</text>
<line x1="456.20" y1="220.20" x2="457.60" y2="220.20" stroke="#555" stroke-width="0.45" />
<text transform="translate(454.60,222.40)" font-size="6.0" text-anchor="end" font-weight="normal" fill="#2a2a2a" >−10<tspan font-size="3.6" dy="-2.2">3</tspan></text>
<line x1="455.60" y1="209.60" x2="457.60" y2="209.60" stroke="#111" stroke-width="1.0" />
<line x1="459.00" y1="223.60" x2="459.00" y2="225.20" stroke="#555" stroke-width="0.45" />
<line x1="461.06" y1="223.60" x2="461.06" y2="224.40" stroke="#888" stroke-width="0.3" />
<line x1="463.12" y1="223.60" x2="463.12" y2="224.40" stroke="#888" stroke-width="0.3" />
<line x1="465.18" y1="223.60" x2="465.18" y2="224.40" stroke="#888" stroke-width="0.3" />
<line x1="467.24" y1="223.60" x2="467.24" y2="224.40" stroke="#888" stroke-width="0.3" />
<text transform="translate(460.60,232.40) rotate(-45)" font-size="6.3" text-anchor="end" font-weight="normal" fill="#2a2a2a" >0</text>
<line x1="469.30" y1="223.60" x2="469.30" y2="225.20" stroke="#555" stroke-width="0.45" />
<line x1="471.36" y1="223.60" x2="471.36" y2="224.40" stroke="#888" stroke-width="0.3" />
<line x1="473.42" y1="223.60" x2="473.42" y2="224.40" stroke="#888" stroke-width="0.3" />
<line x1="475.48" y1="223.60" x2="475.48" y2="224.40" stroke="#888" stroke-width="0.3" />
<line x1="477.54" y1="223.60" x2="477.54" y2="224.40" stroke="#888" stroke-width="0.3" />
<text transform="translate(470.90,232.40) rotate(-45)" font-size="6.3" text-anchor="end" font-weight="normal" fill="#2a2a2a"  textLength="10.6" lengthAdjust="spacingAndGlyphs">50K</text>
<line x1="479.60" y1="223.60" x2="479.60" y2="225.20" stroke="#555" stroke-width="0.45" />
<line x1="481.66" y1="223.60" x2="481.66" y2="224.40" stroke="#888" stroke-width="0.3" />
<line x1="483.72" y1="223.60" x2="483.72" y2="224.40" stroke="#888" stroke-width="0.3" />
<line x1="485.78" y1="223.60" x2="485.78" y2="224.40" stroke="#888" stroke-width="0.3" />
<line x1="487.84" y1="223.60" x2="487.84" y2="224.40" stroke="#888" stroke-width="0.3" />
<text transform="translate(481.20,232.40) rotate(-45)" font-size="6.3" text-anchor="end" font-weight="normal" fill="#2a2a2a"  textLength="14.0" lengthAdjust="spacingAndGlyphs">100K</text>
<line x1="489.90" y1="223.60" x2="489.90" y2="225.20" stroke="#555" stroke-width="0.45" />
<line x1="491.96" y1="223.60" x2="491.96" y2="224.40" stroke="#888" stroke-width="0.3" />
<line x1="494.02" y1="223.60" x2="494.02" y2="224.40" stroke="#888" stroke-width="0.3" />
<line x1="496.08" y1="223.60" x2="496.08" y2="224.40" stroke="#888" stroke-width="0.3" />
<line x1="498.14" y1="223.60" x2="498.14" y2="224.40" stroke="#888" stroke-width="0.3" />
<text transform="translate(491.50,232.40) rotate(-45)" font-size="6.3" text-anchor="end" font-weight="normal" fill="#2a2a2a"  textLength="14.0" lengthAdjust="spacingAndGlyphs">150K</text>
<line x1="500.20" y1="223.60" x2="500.20" y2="225.20" stroke="#555" stroke-width="0.45" />
<line x1="502.26" y1="223.60" x2="502.26" y2="224.40" stroke="#888" stroke-width="0.3" />
<line x1="504.32" y1="223.60" x2="504.32" y2="224.40" stroke="#888" stroke-width="0.3" />
<line x1="506.38" y1="223.60" x2="506.38" y2="224.40" stroke="#888" stroke-width="0.3" />
<line x1="508.44" y1="223.60" x2="508.44" y2="224.40" stroke="#888" stroke-width="0.3" />
<text transform="translate(501.80,232.40) rotate(-45)" font-size="6.3" text-anchor="end" font-weight="normal" fill="#2a2a2a"  textLength="14.0" lengthAdjust="spacingAndGlyphs">200K</text>
<line x1="510.50" y1="223.60" x2="510.50" y2="225.20" stroke="#555" stroke-width="0.45" />
<text transform="translate(512.10,232.40) rotate(-45)" font-size="6.3" text-anchor="end" font-weight="normal" fill="#2a2a2a"  textLength="14.0" lengthAdjust="spacingAndGlyphs">250K</text>
<text transform="translate(437.40,193.20) rotate(-90)" font-size="7.8" text-anchor="middle" font-weight="bold" fill="#222"  textLength="9.4" lengthAdjust="spacingAndGlyphs">GFP</text>
<text transform="translate(482.20,252.40)" font-size="7.8" text-anchor="middle" font-weight="bold" fill="#222"  textLength="15.3" lengthAdjust="spacingAndGlyphs">FSC-A</text>
<defs>
<filter id="tex" color-interpolation-filters="sRGB" x="0" y="0" width="100%" height="100%">
<feTurbulence type="fractalNoise" baseFrequency="0.8" numOctaves="2" seed="3"/>
<feColorMatrix type="matrix" values="0 0 0 0 0.2  0 0 0 0 0.85  0 0 0 0 0.25  0 1.8 0 0 -0.8"/>
</filter>
<filter id="texD" color-interpolation-filters="sRGB" x="0" y="0" width="100%" height="100%">
<feTurbulence type="fractalNoise" baseFrequency="0.3" numOctaves="3" seed="8"/>
<feColorMatrix type="matrix" values="0 0 0 0 0  0 0 0 0 0.1  0 0 0 0 0  1.6 0 0 0 -0.55"/>
</filter>
<filter id="texH" color-interpolation-filters="sRGB" x="0" y="0" width="100%" height="100%">
<feTurbulence type="fractalNoise" baseFrequency="0.42" numOctaves="3" seed="11"/>
<feColorMatrix type="matrix" values="0 0 0 0 0.0  0 0 0 0 0.1  0 0 0 0 0.04  0 1.8 0 0 -0.58"/>
</filter>
<filter id="texH2" color-interpolation-filters="sRGB" x="0" y="0" width="100%" height="100%">
<feTurbulence type="fractalNoise" baseFrequency="0.4" numOctaves="3" seed="23"/>
<feColorMatrix type="matrix" values="0 0 0 0 0.14  0 0 0 0 0.55  0 0 0 0 0.24  2.0 0 0 0 -0.9"/>
</filter>
<linearGradient id="hg" x1="0" y1="0" x2="1" y2="0.25">
<stop offset="0" stop-color="#136a30"/><stop offset="0.5" stop-color="#0f5a26"/><stop offset="1" stop-color="#0a431a"/>
</linearGradient>
</defs>
<text transform="translate(6.00,278.30)" font-size="10.5" text-anchor="start" font-weight="bold" fill="#0a0a0a" stroke="#0a0a0a" stroke-width="0.25">F</text>
<text transform="translate(92.40,288.60)" font-size="7.4" text-anchor="middle" font-weight="normal" fill="#1a1a1a" >Day 7</text>
<rect x="16.20" y="293.80" width="153.00" height="74.20" fill="#020302" stroke="none" stroke-width="0.5" />
<clipPath id="cpF"><rect x="16.2" y="293.8" width="153.0" height="74.19999999999999"/></clipPath>
<g clip-path="url(#cpF)">
<clipPath id="cpFb"><path d="M23,346.6 C25,343 27.6,340 29.3,338.6 C29.8,337.8 30.2,337 30.7,336.3 C31,330 32.4,324 35,319 C37.6,313.6 41,309.6 45.4,306.8 C49.6,303.6 54.4,301.9 59.3,301.7 C62,301.6 64.4,302.8 66.2,305 L68,303.4 C70,302 72.6,300.6 75,300 C80,298 85,296.6 90,295.9 C95,295.4 100,295.4 104.8,295.6 C118,296 130,301.6 140.4,309.8 C147,315 153,320 158,324.6 C160.6,327.4 162.4,330.4 162.6,333.5 C162.6,336.4 162,338.8 161,340.9 C157,346.6 152,351.6 146.3,355.7 C142.6,358 138.6,359.3 134.4,359.5 C127,359.6 120,359 113.7,358.6 C106,357.6 99,355.4 93,352.7 C90.4,351.6 88,350.6 85.2,350 C84,352 83,353 81.7,353.5 C79,356 76,357.6 73,358.7 C66,360 58,360 50.6,359.6 C44,358.8 38.4,357.4 33.3,355.3 C29,353 25.4,350 23,346.6 Z"/></clipPath>
<path d="M23,346.6 C25,343 27.6,340 29.3,338.6 C29.8,337.8 30.2,337 30.7,336.3 C31,330 32.4,324 35,319 C37.6,313.6 41,309.6 45.4,306.8 C49.6,303.6 54.4,301.9 59.3,301.7 C62,301.6 64.4,302.8 66.2,305 L68,303.4 C70,302 72.6,300.6 75,300 C80,298 85,296.6 90,295.9 C95,295.4 100,295.4 104.8,295.6 C118,296 130,301.6 140.4,309.8 C147,315 153,320 158,324.6 C160.6,327.4 162.4,330.4 162.6,333.5 C162.6,336.4 162,338.8 161,340.9 C157,346.6 152,351.6 146.3,355.7 C142.6,358 138.6,359.3 134.4,359.5 C127,359.6 120,359 113.7,358.6 C106,357.6 99,355.4 93,352.7 C90.4,351.6 88,350.6 85.2,350 C84,352 83,353 81.7,353.5 C79,356 76,357.6 73,358.7 C66,360 58,360 50.6,359.6 C44,358.8 38.4,357.4 33.3,355.3 C29,353 25.4,350 23,346.6 Z" fill="#0a4210" filter="url(#b1)" opacity="0.8"/>
<path d="M23,346.6 C25,343 27.6,340 29.3,338.6 C29.8,337.8 30.2,337 30.7,336.3 C31,330 32.4,324 35,319 C37.6,313.6 41,309.6 45.4,306.8 C49.6,303.6 54.4,301.9 59.3,301.7 C62,301.6 64.4,302.8 66.2,305 L68,303.4 C70,302 72.6,300.6 75,300 C80,298 85,296.6 90,295.9 C95,295.4 100,295.4 104.8,295.6 C118,296 130,301.6 140.4,309.8 C147,315 153,320 158,324.6 C160.6,327.4 162.4,330.4 162.6,333.5 C162.6,336.4 162,338.8 161,340.9 C157,346.6 152,351.6 146.3,355.7 C142.6,358 138.6,359.3 134.4,359.5 C127,359.6 120,359 113.7,358.6 C106,357.6 99,355.4 93,352.7 C90.4,351.6 88,350.6 85.2,350 C84,352 83,353 81.7,353.5 C79,356 76,357.6 73,358.7 C66,360 58,360 50.6,359.6 C44,358.8 38.4,357.4 33.3,355.3 C29,353 25.4,350 23,346.6 Z" fill="#0e5816" filter="url(#b05)"/>
<g clip-path="url(#cpFb)">
<g filter="url(#b2)">
<ellipse cx="50" cy="318" rx="14" ry="11" fill="#1b8f28" opacity="0.9"/>
<ellipse cx="52" cy="347" rx="22" ry="8" fill="#13701d" opacity="0.8"/>
<ellipse cx="84" cy="318" rx="13" ry="19" fill="#1f9c2c" opacity="0.92"/>
<ellipse cx="106" cy="338" rx="18" ry="13" fill="#20a42d" opacity="0.95"/>
<ellipse cx="150" cy="337" rx="9" ry="10" fill="#28bb38" opacity="0.95"/>
<ellipse cx="136" cy="350" rx="13" ry="7" fill="#24b034" opacity="0.95"/>
<ellipse cx="112" cy="304" rx="14" ry="5" fill="#1a8c26" opacity="0.7"/>
<path d="M92,301 C106,298.4 122,301 136,310 C146,316.6 154,324 159,333" fill="none" stroke="#1d9a2a" stroke-width="7" opacity="0.8"/>
</g>
<path d="M29.6,337.2 C40,334.6 50,331.4 59.3,327.6 L61.6,335 L57,330.4 Z" fill="#120804" opacity="0.85" filter="url(#b05)"/>
<path d="M30.7,336.4 C40,334 50,331 59.3,327.6 C62.5,326 65.6,324.2 68,322.4 M59.3,327.6 C60,330 60.6,332.4 61,334.5" fill="none" stroke="#4a1606" stroke-width="1.2" opacity="0.95" filter="url(#b05)"/>
<path d="M68,322.4 C67.6,316 66.8,310 66.2,305" fill="none" stroke="#4a1606" stroke-width="0.8" opacity="0.8" filter="url(#b05)"/>
<path d="M68,322.4 C73,329 78,336 83.5,343" fill="none" stroke="#3a2a0a" stroke-width="0.7" opacity="0.6" filter="url(#b05)"/>
<ellipse cx="85.2" cy="345.4" rx="1.5" ry="1.3" fill="#7fe88a" opacity="0.9" filter="url(#b05)"/>
<path d="M41,310 C43,315 42.4,321 39,327 M50,304.6 C52,311 51,319 47,328 M59,303 C60,309 58,317 54,325" fill="none" stroke="#0a3c0e" stroke-width="0.9" opacity="0.75" filter="url(#b05)"/>
<ellipse cx="34" cy="351" rx="16" ry="9" fill="#031006" opacity="0.6" filter="url(#b3)"/>
<ellipse cx="58" cy="357" rx="22" ry="5" fill="#031006" opacity="0.45" filter="url(#b2)"/>
<path d="M101.9,309.0 C109,308.6 117,312 124.4,318.4 C131.4,324.6 136.4,331 137.8,338.4 C136,339.4 134,338.4 133,336 C130,331.4 126,327.6 121,323.6 C114.6,318.6 108,314.6 101.9,312.4 Z" fill="#1c1a06" opacity="0.95" filter="url(#b05)"/>
<path d="M100.8,315.5 C108,317 114,321.6 118,327.6 C120.4,332.6 120.4,338 119.8,343" fill="none" stroke="#0a3c0e" stroke-width="1.0" opacity="0.6" filter="url(#b05)"/>
<path d="M96,305 C108,303.6 121,307 131,314 C139,319.6 145,326 148,333" fill="none" stroke="#0a3c0e" stroke-width="1.3" opacity="0.5" filter="url(#b1)"/>
<rect x="16" y="293" width="154" height="76" fill="#00200c" opacity="0.2"/>
<rect x="16" y="293" width="154" height="76" fill="#000" opacity="0.16" filter="url(#tex)"/>
<rect x="16" y="293" width="154" height="76" fill="#000" opacity="0.55" filter="url(#texD)"/>
</g>
<path d="M23,346.6 C25,343 27.6,340 29.3,338.6 C29.8,337.8 30.2,337 30.7,336.3 C31,330 32.4,324 35,319 C37.6,313.6 41,309.6 45.4,306.8 C49.6,303.6 54.4,301.9 59.3,301.7 C62,301.6 64.4,302.8 66.2,305 L68,303.4 C70,302 72.6,300.6 75,300 C80,298 85,296.6 90,295.9 C95,295.4 100,295.4 104.8,295.6 C118,296 130,301.6 140.4,309.8 C147,315 153,320 158,324.6 C160.6,327.4 162.4,330.4 162.6,333.5 C162.6,336.4 162,338.8 161,340.9 C157,346.6 152,351.6 146.3,355.7 C142.6,358 138.6,359.3 134.4,359.5 C127,359.6 120,359 113.7,358.6 C106,357.6 99,355.4 93,352.7 C90.4,351.6 88,350.6 85.2,350 C84,352 83,353 81.7,353.5 C79,356 76,357.6 73,358.7 C66,360 58,360 50.6,359.6 C44,358.8 38.4,357.4 33.3,355.3 C29,353 25.4,350 23,346.6 Z" fill="none" stroke="#6a1c08" stroke-width="0.7" opacity="0.75" filter="url(#b05)"/>
</g>
<text transform="translate(26.20,301.40)" font-size="5.8" text-anchor="start" font-weight="normal" fill="#f4f4f4" >Cerebellum</text>
<text transform="translate(133.00,304.40)" font-size="5.8" text-anchor="start" font-weight="normal" fill="#f4f4f4" >Cortex</text>
<text transform="translate(123.00,332.00)" font-size="5.8" text-anchor="start" font-weight="normal" fill="#f4f4f4" >CC</text>
<text transform="translate(98.00,352.80)" font-size="5.8" text-anchor="start" font-weight="normal" fill="#f4f4f4" >Thalamus</text>
<text transform="translate(35.00,366.00)" font-size="5.8" text-anchor="start" font-weight="normal" fill="#f4f4f4" >Pons + Medulla</text>
<rect x="19.60" y="363.30" width="6.20" height="1.90" fill="#fff" stroke="none" stroke-width="0.5" />
<text transform="translate(183.40,278.30)" font-size="10.5" text-anchor="start" font-weight="bold" fill="#0a0a0a" stroke="#0a0a0a" stroke-width="0.25">G</text>
<text transform="translate(272.60,288.60)" font-size="7.4" text-anchor="middle" font-weight="normal" fill="#1a1a1a" >Day 30</text>
<rect x="195.00" y="293.80" width="155.60" height="73.80" fill="#020302" stroke="none" stroke-width="0.5" />
<clipPath id="cpG"><rect x="195.0" y="293.8" width="155.60000000000002" height="73.80000000000001"/></clipPath>
<g clip-path="url(#cpG)">
<clipPath id="cpGb"><path d="M210.7,339.1 C211,334 212,329.6 213.8,325.4 C215.4,320.6 217.4,316.6 219.8,313.3 C222,309.6 224.6,307.2 227.4,305.7 C230.4,304.2 233.6,303.8 236.5,304.2 C239,304.8 241.2,306.4 242.6,308.7 C244.6,312.4 246,316.6 247.2,320.9 C247.8,323 248.4,325 248.7,326.9 C246,329 243,330.4 239.6,331.5 C230,334.4 220,336.8 210.7,339.1 Z"/><path d="M210.7,340.2 C220,337.8 230,335.4 239.6,332.6 C243,331.6 246,330 248.9,327.8 C250,329 251,330.2 251.7,331.5 C254.6,338 257.4,344.6 259.3,351.3 C259,354.6 258,357.2 256.3,358.8 C251,360 245,360.4 239.6,360.4 C231,361 223,361.3 215.3,361.3 C209,361.8 203,362 197.2,361.6 C196.6,360 196.6,358.6 197.2,357.3 C200.4,355.6 203,353.6 204.6,351.3 C207,347.6 209,343.8 210.7,340.2 Z"/><path d="M250.2,314.8 C251.4,312 253,310 254.8,308.7 C259.6,305.8 264.6,304 270,302.6 C275,300.6 280,299.2 285.2,298.7 C293.4,297.8 301.6,298.6 309.5,300.5 C317,302.6 324.2,306 330.7,310.2 C335.8,313.2 340.4,316.8 344.4,320.9 C346.2,322.8 347.2,324.8 347.4,326.9 C346.8,330 345.2,332.4 342.9,334.5 C339.2,337.6 335,340 330.7,342.1 C330.4,346 329.6,349.6 327.7,352.8 C324.6,356.4 320.4,358.6 315.5,359.5 C305.6,361.2 295.4,361.6 285.2,361.3 C277.6,361 270.4,359.8 263.9,357.3 C261.6,355.6 260.2,353.6 259.3,351.3 C256.6,344.6 254,338 251.7,331.5 C250.4,326 250,320.4 250.2,314.8 Z"/></clipPath>
<path d="M210.7,339.1 C211,334 212,329.6 213.8,325.4 C215.4,320.6 217.4,316.6 219.8,313.3 C222,309.6 224.6,307.2 227.4,305.7 C230.4,304.2 233.6,303.8 236.5,304.2 C239,304.8 241.2,306.4 242.6,308.7 C244.6,312.4 246,316.6 247.2,320.9 C247.8,323 248.4,325 248.7,326.9 C246,329 243,330.4 239.6,331.5 C230,334.4 220,336.8 210.7,339.1 Z" fill="#18902a" filter="url(#b05)"/>
<path d="M210.7,340.2 C220,337.8 230,335.4 239.6,332.6 C243,331.6 246,330 248.9,327.8 C250,329 251,330.2 251.7,331.5 C254.6,338 257.4,344.6 259.3,351.3 C259,354.6 258,357.2 256.3,358.8 C251,360 245,360.4 239.6,360.4 C231,361 223,361.3 215.3,361.3 C209,361.8 203,362 197.2,361.6 C196.6,360 196.6,358.6 197.2,357.3 C200.4,355.6 203,353.6 204.6,351.3 C207,347.6 209,343.8 210.7,340.2 Z" fill="#116a1a" filter="url(#b05)"/>
<path d="M250.2,314.8 C251.4,312 253,310 254.8,308.7 C259.6,305.8 264.6,304 270,302.6 C275,300.6 280,299.2 285.2,298.7 C293.4,297.8 301.6,298.6 309.5,300.5 C317,302.6 324.2,306 330.7,310.2 C335.8,313.2 340.4,316.8 344.4,320.9 C346.2,322.8 347.2,324.8 347.4,326.9 C346.8,330 345.2,332.4 342.9,334.5 C339.2,337.6 335,340 330.7,342.1 C330.4,346 329.6,349.6 327.7,352.8 C324.6,356.4 320.4,358.6 315.5,359.5 C305.6,361.2 295.4,361.6 285.2,361.3 C277.6,361 270.4,359.8 263.9,357.3 C261.6,355.6 260.2,353.6 259.3,351.3 C256.6,344.6 254,338 251.7,331.5 C250.4,326 250,320.4 250.2,314.8 Z" fill="#0f5c17" filter="url(#b1)" opacity="0.9"/>
<path d="M250.2,314.8 C251.4,312 253,310 254.8,308.7 C259.6,305.8 264.6,304 270,302.6 C275,300.6 280,299.2 285.2,298.7 C293.4,297.8 301.6,298.6 309.5,300.5 C317,302.6 324.2,306 330.7,310.2 C335.8,313.2 340.4,316.8 344.4,320.9 C346.2,322.8 347.2,324.8 347.4,326.9 C346.8,330 345.2,332.4 342.9,334.5 C339.2,337.6 335,340 330.7,342.1 C330.4,346 329.6,349.6 327.7,352.8 C324.6,356.4 320.4,358.6 315.5,359.5 C305.6,361.2 295.4,361.6 285.2,361.3 C277.6,361 270.4,359.8 263.9,357.3 C261.6,355.6 260.2,353.6 259.3,351.3 C256.6,344.6 254,338 251.7,331.5 C250.4,326 250,320.4 250.2,314.8 Z" fill="#13781d" filter="url(#b05)"/>
<g clip-path="url(#cpGb)">
<g filter="url(#b2)">
<ellipse cx="230" cy="319" rx="11" ry="11" fill="#27b236" opacity="0.9"/>
<ellipse cx="204" cy="359.2" rx="6.5" ry="2.2" fill="#35d044" opacity="0.95"/>
<ellipse cx="232" cy="350" rx="17" ry="8" fill="#18882a" opacity="0.8"/>
<ellipse cx="274" cy="326" rx="16" ry="19" fill="#24ac32" opacity="0.95"/>
<ellipse cx="296" cy="343" rx="20" ry="11" fill="#20a42e" opacity="0.9"/>
<ellipse cx="335" cy="327" rx="8" ry="8" fill="#1f9a2a" opacity="0.9"/>
<ellipse cx="322" cy="350" rx="10" ry="8" fill="#06380e" opacity="0.95"/>
<ellipse cx="264" cy="348" rx="9" ry="9" fill="#1c9428" opacity="0.8"/>
<path d="M262,305 C278,300 300,300.6 318,306.6 C330,311 340,318 345,326" fill="none" stroke="#20a42e" stroke-width="6.5" opacity="0.85"/>
</g>
<g filter="url(#b1)">
<ellipse cx="227.5" cy="312.5" rx="2.8" ry="6" fill="#3ad04a" opacity="0.75" transform="rotate(-18 227.5 312.5)"/>
<ellipse cx="234.8" cy="311.5" rx="2.8" ry="6.5" fill="#3ad04a" opacity="0.75" transform="rotate(8 234.8 311.5)"/>
<ellipse cx="241.5" cy="316" rx="2.6" ry="6" fill="#34c644" opacity="0.7" transform="rotate(22 241.5 316)"/>
<ellipse cx="221.5" cy="321.5" rx="5" ry="3.2" fill="#34c644" opacity="0.7" transform="rotate(-30 221.5 321.5)"/>
<ellipse cx="236" cy="325.5" rx="6" ry="3.2" fill="#34c644" opacity="0.7" transform="rotate(-10 236 325.5)"/>
<ellipse cx="217" cy="331" rx="4.5" ry="3" fill="#2fbe40" opacity="0.65" transform="rotate(-20 217 331)"/>
</g>
<path d="M223.6,309.4 C226,314 227,318 226.6,322 M231.4,305 C231.6,311 232.4,316 234,320 M238.4,306 C238.6,312 240,318 243.4,323 M214,325 C220,326.6 226,327 231,325 C234,321.6 240,321 246,322" fill="none" stroke="#072c0a" stroke-width="0.9" opacity="0.85" filter="url(#b05)"/>
<path d="M280.6,312.6 C286,310.4 292,310.2 297.3,311.8 C304,315 310,320 315.5,325.4 C321,329.6 326,333.6 327.7,338.6 C322,336.4 316,332.4 310,328.4 C303,323.6 297,318.4 291,316.2 C287,315 284,315 280.6,316 Z" fill="#3a2206" opacity="0.92" filter="url(#b05)"/>
<path d="M262,310 C278,306.6 298,307 314,312 C325,316 334,322 339,329 C336,334 332,338 328,340" fill="none" stroke="#3a1a06" stroke-width="0.8" opacity="0.6" filter="url(#b05)"/>
<circle cx="248.42" cy="350.07" r="0.36" fill="#b4f07a" opacity="0.8"/>
<circle cx="240.07" cy="340.72" r="0.36" fill="#b4f07a" opacity="0.8"/>
<circle cx="231.90" cy="349.28" r="0.36" fill="#b4f07a" opacity="0.8"/>
<circle cx="220.77" cy="351.52" r="0.36" fill="#b4f07a" opacity="0.8"/>
<circle cx="233.51" cy="359.93" r="0.36" fill="#b4f07a" opacity="0.8"/>
<circle cx="235.57" cy="345.87" r="0.36" fill="#b4f07a" opacity="0.8"/>
<circle cx="213.83" cy="339.76" r="0.36" fill="#b4f07a" opacity="0.8"/>
<circle cx="244.46" cy="338.56" r="0.36" fill="#b4f07a" opacity="0.8"/>
<circle cx="212.80" cy="340.09" r="0.36" fill="#b4f07a" opacity="0.8"/>
<circle cx="233.08" cy="355.76" r="0.36" fill="#b4f07a" opacity="0.8"/>
<circle cx="237.42" cy="355.36" r="0.36" fill="#b4f07a" opacity="0.8"/>
<circle cx="210.98" cy="336.30" r="0.36" fill="#b4f07a" opacity="0.8"/>
<circle cx="244.99" cy="343.75" r="0.36" fill="#b4f07a" opacity="0.8"/>
<circle cx="242.34" cy="344.49" r="0.36" fill="#b4f07a" opacity="0.8"/>
<circle cx="216.13" cy="342.40" r="0.36" fill="#b4f07a" opacity="0.8"/>
<circle cx="212.77" cy="357.69" r="0.36" fill="#b4f07a" opacity="0.8"/>
<circle cx="235.95" cy="344.37" r="0.36" fill="#b4f07a" opacity="0.8"/>
<circle cx="229.59" cy="345.26" r="0.36" fill="#b4f07a" opacity="0.8"/>
<circle cx="210.62" cy="357.37" r="0.36" fill="#b4f07a" opacity="0.8"/>
<circle cx="235.97" cy="359.03" r="0.36" fill="#b4f07a" opacity="0.8"/>
<circle cx="229.10" cy="350.88" r="0.36" fill="#b4f07a" opacity="0.8"/>
<circle cx="219.97" cy="337.06" r="0.36" fill="#b4f07a" opacity="0.8"/>
<circle cx="252.68" cy="356.51" r="0.36" fill="#b4f07a" opacity="0.8"/>
<circle cx="223.11" cy="357.57" r="0.36" fill="#b4f07a" opacity="0.8"/>
<circle cx="247.16" cy="343.29" r="0.36" fill="#b4f07a" opacity="0.8"/>
<circle cx="236.92" cy="359.04" r="0.36" fill="#b4f07a" opacity="0.8"/>
<circle cx="231.79" cy="358.79" r="0.36" fill="#b4f07a" opacity="0.8"/>
<circle cx="219.66" cy="345.36" r="0.36" fill="#b4f07a" opacity="0.8"/>
<circle cx="242.49" cy="341.31" r="0.36" fill="#b4f07a" opacity="0.8"/>
<circle cx="222.84" cy="357.01" r="0.36" fill="#b4f07a" opacity="0.8"/>
<circle cx="231.25" cy="355.03" r="0.36" fill="#b4f07a" opacity="0.8"/>
<circle cx="219.68" cy="340.16" r="0.36" fill="#b4f07a" opacity="0.8"/>
<circle cx="225.20" cy="340.48" r="0.36" fill="#b4f07a" opacity="0.8"/>
<circle cx="254.63" cy="342.98" r="0.36" fill="#b4f07a" opacity="0.8"/>
<circle cx="234.95" cy="338.76" r="0.36" fill="#b4f07a" opacity="0.8"/>
<circle cx="233.62" cy="345.25" r="0.36" fill="#b4f07a" opacity="0.8"/>
<circle cx="227.35" cy="337.57" r="0.36" fill="#b4f07a" opacity="0.8"/>
<circle cx="213.92" cy="355.82" r="0.36" fill="#b4f07a" opacity="0.8"/>
<circle cx="224.86" cy="341.88" r="0.36" fill="#b4f07a" opacity="0.8"/>
<circle cx="217.18" cy="342.81" r="0.36" fill="#b4f07a" opacity="0.8"/>
<circle cx="219.38" cy="336.84" r="0.36" fill="#b4f07a" opacity="0.8"/>
<circle cx="239.89" cy="344.19" r="0.36" fill="#b4f07a" opacity="0.8"/>
<circle cx="215.48" cy="352.94" r="0.36" fill="#b4f07a" opacity="0.8"/>
<circle cx="212.45" cy="342.47" r="0.36" fill="#b4f07a" opacity="0.8"/>
<circle cx="248.08" cy="339.07" r="0.36" fill="#b4f07a" opacity="0.8"/>
<circle cx="229.28" cy="356.07" r="0.36" fill="#b4f07a" opacity="0.8"/>
<circle cx="246.64" cy="339.82" r="0.36" fill="#b4f07a" opacity="0.8"/>
<circle cx="224.94" cy="353.34" r="0.36" fill="#b4f07a" opacity="0.8"/>
<circle cx="226.09" cy="359.00" r="0.36" fill="#b4f07a" opacity="0.8"/>
<circle cx="217.99" cy="358.82" r="0.36" fill="#b4f07a" opacity="0.8"/>
<circle cx="232.23" cy="341.45" r="0.36" fill="#b4f07a" opacity="0.8"/>
<circle cx="229.73" cy="339.14" r="0.36" fill="#b4f07a" opacity="0.8"/>
<circle cx="241.91" cy="342.26" r="0.36" fill="#b4f07a" opacity="0.8"/>
<circle cx="251.18" cy="350.10" r="0.36" fill="#b4f07a" opacity="0.8"/>
<circle cx="225.66" cy="341.91" r="0.36" fill="#b4f07a" opacity="0.8"/>
<circle cx="237.19" cy="341.10" r="0.36" fill="#b4f07a" opacity="0.8"/>
<circle cx="249.87" cy="338.95" r="0.36" fill="#b4f07a" opacity="0.8"/>
<circle cx="232.63" cy="349.02" r="0.36" fill="#b4f07a" opacity="0.8"/>
<circle cx="220.98" cy="354.52" r="0.36" fill="#b4f07a" opacity="0.8"/>
<circle cx="226.47" cy="351.78" r="0.36" fill="#b4f07a" opacity="0.8"/>
<circle cx="235.25" cy="343.46" r="0.36" fill="#b4f07a" opacity="0.8"/>
<circle cx="226.72" cy="338.06" r="0.36" fill="#b4f07a" opacity="0.8"/>
<circle cx="216.50" cy="356.42" r="0.36" fill="#b4f07a" opacity="0.8"/>
<circle cx="223.41" cy="351.91" r="0.36" fill="#b4f07a" opacity="0.8"/>
<circle cx="213.23" cy="349.49" r="0.36" fill="#b4f07a" opacity="0.8"/>
<circle cx="225.35" cy="348.01" r="0.36" fill="#b4f07a" opacity="0.8"/>
<circle cx="222.25" cy="337.58" r="0.36" fill="#b4f07a" opacity="0.8"/>
<circle cx="222.94" cy="341.43" r="0.36" fill="#b4f07a" opacity="0.8"/>
<circle cx="214.05" cy="353.20" r="0.36" fill="#b4f07a" opacity="0.8"/>
<circle cx="221.55" cy="345.68" r="0.36" fill="#b4f07a" opacity="0.8"/>
<circle cx="251.63" cy="354.60" r="0.36" fill="#b4f07a" opacity="0.8"/>
<circle cx="250.37" cy="356.67" r="0.36" fill="#b4f07a" opacity="0.8"/>
<circle cx="214.34" cy="342.64" r="0.36" fill="#b4f07a" opacity="0.8"/>
<circle cx="209.42" cy="352.31" r="0.36" fill="#b4f07a" opacity="0.8"/>
<circle cx="239.85" cy="344.43" r="0.36" fill="#b4f07a" opacity="0.8"/>
<circle cx="227.80" cy="351.82" r="0.36" fill="#b4f07a" opacity="0.8"/>
<circle cx="241.56" cy="341.96" r="0.36" fill="#b4f07a" opacity="0.8"/>
<circle cx="248.64" cy="344.45" r="0.36" fill="#b4f07a" opacity="0.8"/>
<circle cx="238.18" cy="340.36" r="0.36" fill="#b4f07a" opacity="0.8"/>
<circle cx="213.53" cy="357.90" r="0.36" fill="#b4f07a" opacity="0.8"/>
<circle cx="243.23" cy="353.10" r="0.36" fill="#b4f07a" opacity="0.8"/>
<circle cx="209.94" cy="336.96" r="0.36" fill="#b4f07a" opacity="0.8"/>
<circle cx="215.78" cy="340.75" r="0.36" fill="#b4f07a" opacity="0.8"/>
<circle cx="222.55" cy="345.14" r="0.36" fill="#b4f07a" opacity="0.8"/>
<circle cx="209.88" cy="343.46" r="0.36" fill="#b4f07a" opacity="0.8"/>
<circle cx="238.64" cy="340.31" r="0.36" fill="#b4f07a" opacity="0.8"/>
<circle cx="248.29" cy="349.68" r="0.36" fill="#b4f07a" opacity="0.8"/>
<circle cx="242.40" cy="342.11" r="0.36" fill="#b4f07a" opacity="0.8"/>
<circle cx="228.88" cy="352.42" r="0.36" fill="#b4f07a" opacity="0.8"/>
<circle cx="224.75" cy="336.02" r="0.36" fill="#b4f07a" opacity="0.8"/>
<rect x="195" y="293" width="156" height="76" fill="#30d848" opacity="0.07"/>
<rect x="195" y="293" width="156" height="76" fill="#000" opacity="0.16" filter="url(#tex)"/>
<rect x="195" y="293" width="156" height="76" fill="#000" opacity="0.5" filter="url(#texD)"/>
</g>
<path d="M210.7,339.7 C220,337.2 230,334.8 239.6,332 C243,331 246,329.4 248.8,327.4" fill="none" stroke="#5a1a08" stroke-width="0.9" opacity="0.9" filter="url(#b05)"/>
<path d="M210.7,339.1 C211,334 212,329.6 213.8,325.4 C215.4,320.6 217.4,316.6 219.8,313.3 C222,309.6 224.6,307.2 227.4,305.7 C230.4,304.2 233.6,303.8 236.5,304.2 C239,304.8 241.2,306.4 242.6,308.7 C244.6,312.4 246,316.6 247.2,320.9 C247.8,323 248.4,325 248.7,326.9 C246,329 243,330.4 239.6,331.5 C230,334.4 220,336.8 210.7,339.1 Z" fill="none" stroke="#7a2408" stroke-width="0.7" opacity="0.75" filter="url(#b05)"/>
<path d="M250.2,314.8 C251.4,312 253,310 254.8,308.7 C259.6,305.8 264.6,304 270,302.6 C275,300.6 280,299.2 285.2,298.7 C293.4,297.8 301.6,298.6 309.5,300.5 C317,302.6 324.2,306 330.7,310.2 C335.8,313.2 340.4,316.8 344.4,320.9 C346.2,322.8 347.2,324.8 347.4,326.9 C346.8,330 345.2,332.4 342.9,334.5 C339.2,337.6 335,340 330.7,342.1 C330.4,346 329.6,349.6 327.7,352.8 C324.6,356.4 320.4,358.6 315.5,359.5 C305.6,361.2 295.4,361.6 285.2,361.3 C277.6,361 270.4,359.8 263.9,357.3 C261.6,355.6 260.2,353.6 259.3,351.3 C256.6,344.6 254,338 251.7,331.5 C250.4,326 250,320.4 250.2,314.8 Z" fill="none" stroke="#6a1c08" stroke-width="0.6" opacity="0.55" filter="url(#b05)"/>
<path d="M210.7,340.2 C220,337.8 230,335.4 239.6,332.6 C243,331.6 246,330 248.9,327.8 C250,329 251,330.2 251.7,331.5 C254.6,338 257.4,344.6 259.3,351.3 C259,354.6 258,357.2 256.3,358.8 C251,360 245,360.4 239.6,360.4 C231,361 223,361.3 215.3,361.3 C209,361.8 203,362 197.2,361.6 C196.6,360 196.6,358.6 197.2,357.3 C200.4,355.6 203,353.6 204.6,351.3 C207,347.6 209,343.8 210.7,340.2 Z" fill="none" stroke="#6a1c08" stroke-width="0.6" opacity="0.6" filter="url(#b05)"/>
</g>
<text transform="translate(207.60,301.40)" font-size="5.8" text-anchor="start" font-weight="normal" fill="#f4f4f4" >Cerebellum</text>
<text transform="translate(314.00,304.40)" font-size="5.8" text-anchor="start" font-weight="normal" fill="#f4f4f4" >Cortex</text>
<text transform="translate(303.80,328.60)" font-size="5.8" text-anchor="start" font-weight="normal" fill="#f4f4f4" >CC</text>
<text transform="translate(279.60,349.80)" font-size="5.8" text-anchor="start" font-weight="normal" fill="#f4f4f4" >Thalamus</text>
<text transform="translate(215.60,366.20)" font-size="5.8" text-anchor="start" font-weight="normal" fill="#f4f4f4" >Pons + Medulla</text>
<rect x="197.00" y="365.00" width="5.00" height="1.40" fill="#fff" stroke="none" stroke-width="0.5" />
<text transform="translate(365.20,278.10)" font-size="10.5" text-anchor="start" font-weight="bold" fill="#0a0a0a" stroke="#0a0a0a" stroke-width="0.25">H</text>
<text transform="translate(442.60,288.60)" font-size="7.4" text-anchor="middle" font-weight="normal" fill="#1a1a1a" >Day 30</text>
<rect x="376.40" y="298.80" width="132.40" height="64.20" fill="url(#hg)" stroke="none" stroke-width="0.5" />
<clipPath id="cpH"><rect x="376.4" y="298.8" width="132.40000000000003" height="64.19999999999999"/></clipPath>
<g clip-path="url(#cpH)">
<rect x="376.40" y="298.80" width="132.40" height="64.20" fill="#000" stroke="none" stroke-width="0.5" filter="url(#texH)"/>
<rect x="376.40" y="298.80" width="132.40" height="64.20" fill="#000" stroke="none" stroke-width="0.5" filter="url(#texH2)" opacity="0.8"/>
<rect x="374.40" y="296.80" width="136.40" height="68.20" fill="none" stroke="#021006" stroke-width="5" filter="url(#b2)" opacity="0.6"/>
<circle cx="424.60" cy="304.60" r="1.1" fill="#3a7a88" opacity="0.55" filter="url(#b05)"/>
<circle cx="428.00" cy="356.00" r="1.1" fill="#3a7a88" opacity="0.55" filter="url(#b05)"/>
<circle cx="493.00" cy="349.00" r="1.1" fill="#3a7a88" opacity="0.55" filter="url(#b05)"/>
<circle cx="467.00" cy="355.00" r="1.1" fill="#3a7a88" opacity="0.55" filter="url(#b05)"/>
<circle cx="400.00" cy="326.00" r="1.1" fill="#3a7a88" opacity="0.55" filter="url(#b05)"/>
</g>
<rect x="421.20" y="321.40" width="20.00" height="7.60" fill="#050505" stroke="none" stroke-width="0.5" />
<text transform="translate(431.20,327.30)" font-size="5.8" text-anchor="middle" font-weight="normal" fill="#f4f4f4" >Cortex</text>
<rect x="379.80" y="358.40" width="21.80" height="2.40" fill="#fff" stroke="none" stroke-width="0.5" />
<text transform="translate(6.30,391.90)" font-size="10.5" text-anchor="start" font-weight="bold" fill="#0a0a0a" stroke="#0a0a0a" stroke-width="0.25">I</text>
<text transform="translate(61.80,395.80)" font-size="7.5" text-anchor="middle" font-weight="normal" fill="#1a1a1a" >7 Days</text>
<rect x="38.40" y="421.08" width="6.40" height="34.32" fill="#8fa3d0" stroke="none" stroke-width="0.5" />
<line x1="41.60" y1="414.04" x2="41.60" y2="428.12" stroke="#1f3f86" stroke-width="0.5" />
<line x1="40.10" y1="414.04" x2="43.10" y2="414.04" stroke="#1f3f86" stroke-width="0.5" />
<line x1="40.10" y1="428.12" x2="43.10" y2="428.12" stroke="#1f3f86" stroke-width="0.5" />
<circle cx="41.60" cy="411.40" r="1.12" fill="#1f3f86" />
<circle cx="41.00" cy="415.80" r="1.12" fill="#1f3f86" />
<circle cx="42.00" cy="421.96" r="1.12" fill="#1f3f86" />
<circle cx="41.10" cy="426.36" r="1.12" fill="#1f3f86" />
<circle cx="42.10" cy="430.76" r="1.12" fill="#1f3f86" />
<line x1="41.60" y1="455.40" x2="41.60" y2="457.80" stroke="#231f20" stroke-width="0.6" />
<text transform="translate(43.00,462.80) rotate(-45)" font-size="6.0" text-anchor="end" font-weight="normal" fill="#2a2a2a" >Cortex</text>
<rect x="48.60" y="436.04" width="6.40" height="19.36" fill="#ef8b82" stroke="none" stroke-width="0.5" />
<line x1="51.80" y1="423.72" x2="51.80" y2="448.36" stroke="#d3202c" stroke-width="0.5" />
<line x1="50.30" y1="423.72" x2="53.30" y2="423.72" stroke="#d3202c" stroke-width="0.5" />
<line x1="50.30" y1="448.36" x2="53.30" y2="448.36" stroke="#d3202c" stroke-width="0.5" />
<circle cx="51.80" cy="415.80" r="1.12" fill="#d3202c" />
<circle cx="50.80" cy="436.04" r="1.12" fill="#d3202c" />
<circle cx="53.00" cy="436.04" r="1.12" fill="#d3202c" />
<circle cx="51.80" cy="441.32" r="1.12" fill="#d3202c" />
<circle cx="51.80" cy="447.48" r="1.12" fill="#d3202c" />
<line x1="51.80" y1="455.40" x2="51.80" y2="457.80" stroke="#231f20" stroke-width="0.6" />
<text transform="translate(53.20,462.80) rotate(-45)" font-size="6.0" text-anchor="end" font-weight="normal" fill="#2a2a2a" >Cerebellum</text>
<rect x="58.80" y="444.84" width="6.40" height="10.56" fill="#a9dc8f" stroke="none" stroke-width="0.5" />
<line x1="62.00" y1="440.88" x2="62.00" y2="448.80" stroke="#45a93a" stroke-width="0.5" />
<line x1="60.50" y1="440.88" x2="63.50" y2="440.88" stroke="#45a93a" stroke-width="0.5" />
<line x1="60.50" y1="448.80" x2="63.50" y2="448.80" stroke="#45a93a" stroke-width="0.5" />
<circle cx="60.60" cy="441.32" r="1.12" fill="#45a93a" />
<circle cx="63.40" cy="441.32" r="1.12" fill="#45a93a" />
<circle cx="62.00" cy="445.72" r="1.12" fill="#45a93a" />
<circle cx="61.00" cy="449.24" r="1.12" fill="#45a93a" />
<circle cx="63.00" cy="449.24" r="1.12" fill="#45a93a" />
<line x1="62.00" y1="455.40" x2="62.00" y2="457.80" stroke="#231f20" stroke-width="0.6" />
<text transform="translate(63.40,462.80) rotate(-45)" font-size="6.0" text-anchor="end" font-weight="normal" fill="#2a2a2a" >Thalamus</text>
<rect x="69.00" y="435.16" width="6.40" height="20.24" fill="#b18fc8" stroke="none" stroke-width="0.5" />
<line x1="72.20" y1="427.24" x2="72.20" y2="443.08" stroke="#4a1f80" stroke-width="0.5" />
<line x1="70.70" y1="427.24" x2="73.70" y2="427.24" stroke="#4a1f80" stroke-width="0.5" />
<line x1="70.70" y1="443.08" x2="73.70" y2="443.08" stroke="#4a1f80" stroke-width="0.5" />
<circle cx="72.20" cy="425.48" r="1.12" fill="#4a1f80" />
<circle cx="70.80" cy="433.40" r="1.12" fill="#4a1f80" />
<circle cx="73.60" cy="433.40" r="1.12" fill="#4a1f80" />
<circle cx="72.20" cy="436.04" r="1.12" fill="#4a1f80" />
<circle cx="72.20" cy="448.36" r="1.12" fill="#4a1f80" />
<line x1="72.20" y1="455.40" x2="72.20" y2="457.80" stroke="#231f20" stroke-width="0.6" />
<text transform="translate(73.60,462.80) rotate(-45)" font-size="6.0" text-anchor="end" font-weight="normal" fill="#2a2a2a" >Pons + Medulla</text>
<rect x="79.20" y="453.64" width="6.40" height="1.76" fill="#ffc98f" stroke="none" stroke-width="0.5" />
<line x1="82.40" y1="451.44" x2="82.40" y2="455.40" stroke="#f39a1a" stroke-width="0.5" />
<line x1="80.90" y1="451.44" x2="83.90" y2="451.44" stroke="#f39a1a" stroke-width="0.5" />
<circle cx="82.40" cy="450.12" r="1.12" fill="#f39a1a" />
<circle cx="81.20" cy="452.76" r="1.12" fill="#f39a1a" />
<circle cx="83.60" cy="453.64" r="1.12" fill="#f39a1a" />
<circle cx="82.40" cy="454.52" r="1.12" fill="#f39a1a" />
<line x1="82.40" y1="455.40" x2="82.40" y2="457.80" stroke="#231f20" stroke-width="0.6" />
<text transform="translate(83.80,462.80) rotate(-45)" font-size="6.0" text-anchor="end" font-weight="normal" fill="#2a2a2a" >Corpus Collosum</text>
<line x1="34.30" y1="400.00" x2="34.30" y2="455.85" stroke="#231f20" stroke-width="0.9" />
<line x1="33.85" y1="455.40" x2="88.60" y2="455.40" stroke="#231f20" stroke-width="0.9" />
<line x1="31.70" y1="455.40" x2="34.30" y2="455.40" stroke="#231f20" stroke-width="0.6" />
<text transform="translate(29.70,457.50)" font-size="5.9" text-anchor="end" font-weight="normal" fill="#2a2a2a" >0</text>
<line x1="31.70" y1="437.80" x2="34.30" y2="437.80" stroke="#231f20" stroke-width="0.6" />
<text transform="translate(29.70,439.90)" font-size="5.9" text-anchor="end" font-weight="normal" fill="#2a2a2a" >20</text>
<line x1="31.70" y1="420.20" x2="34.30" y2="420.20" stroke="#231f20" stroke-width="0.6" />
<text transform="translate(29.70,422.30)" font-size="5.9" text-anchor="end" font-weight="normal" fill="#2a2a2a" >40</text>
<line x1="31.70" y1="402.60" x2="34.30" y2="402.60" stroke="#231f20" stroke-width="0.6" />
<text transform="translate(29.70,404.70)" font-size="5.9" text-anchor="end" font-weight="normal" fill="#2a2a2a" >60</text>
<text transform="translate(17.20,427.60) rotate(-90)" font-size="6.9" text-anchor="middle" font-weight="bold" fill="#222"  textLength="41" lengthAdjust="spacingAndGlyphs">% Location/total</text>
<text transform="translate(148.60,395.80)" font-size="7.5" text-anchor="middle" font-weight="normal" fill="#1a1a1a" >12 Days</text>
<rect x="127.20" y="421.96" width="6.40" height="33.44" fill="#8fa3d0" stroke="none" stroke-width="0.5" />
<line x1="130.40" y1="418.44" x2="130.40" y2="425.48" stroke="#1f3f86" stroke-width="0.5" />
<line x1="128.90" y1="418.44" x2="131.90" y2="418.44" stroke="#1f3f86" stroke-width="0.5" />
<line x1="128.90" y1="425.48" x2="131.90" y2="425.48" stroke="#1f3f86" stroke-width="0.5" />
<circle cx="130.40" cy="418.44" r="1.12" fill="#1f3f86" />
<circle cx="128.80" cy="421.52" r="1.12" fill="#1f3f86" />
<circle cx="132.00" cy="421.52" r="1.12" fill="#1f3f86" />
<circle cx="130.40" cy="426.36" r="1.12" fill="#1f3f86" />
<line x1="130.40" y1="455.40" x2="130.40" y2="457.80" stroke="#231f20" stroke-width="0.6" />
<text transform="translate(131.80,462.80) rotate(-45)" font-size="6.0" text-anchor="end" font-weight="normal" fill="#2a2a2a" >Cortex</text>
<rect x="137.40" y="436.48" width="6.40" height="18.92" fill="#ef8b82" stroke="none" stroke-width="0.5" />
<line x1="140.60" y1="432.96" x2="140.60" y2="440.00" stroke="#d3202c" stroke-width="0.5" />
<line x1="139.10" y1="432.96" x2="142.10" y2="432.96" stroke="#d3202c" stroke-width="0.5" />
<line x1="139.10" y1="440.00" x2="142.10" y2="440.00" stroke="#d3202c" stroke-width="0.5" />
<circle cx="140.60" cy="431.64" r="1.12" fill="#d3202c" />
<circle cx="139.20" cy="436.92" r="1.12" fill="#d3202c" />
<circle cx="142.00" cy="436.92" r="1.12" fill="#d3202c" />
<circle cx="140.60" cy="437.80" r="1.12" fill="#d3202c" />
<line x1="140.60" y1="455.40" x2="140.60" y2="457.80" stroke="#231f20" stroke-width="0.6" />
<text transform="translate(142.00,462.80) rotate(-45)" font-size="6.0" text-anchor="end" font-weight="normal" fill="#2a2a2a" >Cerebellum</text>
<rect x="147.60" y="445.28" width="6.40" height="10.12" fill="#a9dc8f" stroke="none" stroke-width="0.5" />
<line x1="150.80" y1="443.52" x2="150.80" y2="447.04" stroke="#45a93a" stroke-width="0.5" />
<line x1="149.30" y1="443.52" x2="152.30" y2="443.52" stroke="#45a93a" stroke-width="0.5" />
<line x1="149.30" y1="447.04" x2="152.30" y2="447.04" stroke="#45a93a" stroke-width="0.5" />
<circle cx="149.40" cy="443.96" r="1.12" fill="#45a93a" />
<circle cx="152.20" cy="443.96" r="1.12" fill="#45a93a" />
<circle cx="150.80" cy="446.60" r="1.12" fill="#45a93a" />
<circle cx="149.60" cy="446.60" r="1.12" fill="#45a93a" />
<line x1="150.80" y1="455.40" x2="150.80" y2="457.80" stroke="#231f20" stroke-width="0.6" />
<text transform="translate(152.20,462.80) rotate(-45)" font-size="6.0" text-anchor="end" font-weight="normal" fill="#2a2a2a" >Thalamus</text>
<rect x="157.80" y="437.80" width="6.40" height="17.60" fill="#b18fc8" stroke="none" stroke-width="0.5" />
<line x1="161.00" y1="429.00" x2="161.00" y2="446.60" stroke="#4a1f80" stroke-width="0.5" />
<line x1="159.50" y1="429.00" x2="162.50" y2="429.00" stroke="#4a1f80" stroke-width="0.5" />
<line x1="159.50" y1="446.60" x2="162.50" y2="446.60" stroke="#4a1f80" stroke-width="0.5" />
<circle cx="161.00" cy="425.48" r="1.12" fill="#4a1f80" />
<circle cx="160.00" cy="438.68" r="1.12" fill="#4a1f80" />
<circle cx="162.40" cy="438.68" r="1.12" fill="#4a1f80" />
<circle cx="161.00" cy="441.32" r="1.12" fill="#4a1f80" />
<circle cx="161.80" cy="443.96" r="1.12" fill="#4a1f80" />
<line x1="161.00" y1="455.40" x2="161.00" y2="457.80" stroke="#231f20" stroke-width="0.6" />
<text transform="translate(162.40,462.80) rotate(-45)" font-size="6.0" text-anchor="end" font-weight="normal" fill="#2a2a2a" >Pons + Medulla</text>
<rect x="168.00" y="449.24" width="6.40" height="6.16" fill="#ffc98f" stroke="none" stroke-width="0.5" />
<line x1="171.20" y1="446.60" x2="171.20" y2="451.88" stroke="#f39a1a" stroke-width="0.5" />
<line x1="169.70" y1="446.60" x2="172.70" y2="446.60" stroke="#f39a1a" stroke-width="0.5" />
<line x1="169.70" y1="451.88" x2="172.70" y2="451.88" stroke="#f39a1a" stroke-width="0.5" />
<circle cx="170.00" cy="447.48" r="1.12" fill="#f39a1a" />
<circle cx="172.40" cy="447.92" r="1.12" fill="#f39a1a" />
<circle cx="171.20" cy="449.24" r="1.12" fill="#f39a1a" />
<circle cx="171.20" cy="451.88" r="1.12" fill="#f39a1a" />
<line x1="171.20" y1="455.40" x2="171.20" y2="457.80" stroke="#231f20" stroke-width="0.6" />
<text transform="translate(172.60,462.80) rotate(-45)" font-size="6.0" text-anchor="end" font-weight="normal" fill="#2a2a2a" >Corpus Collosum</text>
<line x1="123.10" y1="400.00" x2="123.10" y2="455.85" stroke="#231f20" stroke-width="0.9" />
<line x1="122.65" y1="455.40" x2="177.50" y2="455.40" stroke="#231f20" stroke-width="0.9" />
<line x1="120.50" y1="455.40" x2="123.10" y2="455.40" stroke="#231f20" stroke-width="0.6" />
<text transform="translate(118.50,457.50)" font-size="5.9" text-anchor="end" font-weight="normal" fill="#2a2a2a" >0</text>
<line x1="120.50" y1="437.80" x2="123.10" y2="437.80" stroke="#231f20" stroke-width="0.6" />
<text transform="translate(118.50,439.90)" font-size="5.9" text-anchor="end" font-weight="normal" fill="#2a2a2a" >20</text>
<line x1="120.50" y1="420.20" x2="123.10" y2="420.20" stroke="#231f20" stroke-width="0.6" />
<text transform="translate(118.50,422.30)" font-size="5.9" text-anchor="end" font-weight="normal" fill="#2a2a2a" >40</text>
<line x1="120.50" y1="402.60" x2="123.10" y2="402.60" stroke="#231f20" stroke-width="0.6" />
<text transform="translate(118.50,404.70)" font-size="5.9" text-anchor="end" font-weight="normal" fill="#2a2a2a" >60</text>
<text transform="translate(106.10,427.60) rotate(-90)" font-size="6.9" text-anchor="middle" font-weight="bold" fill="#222"  textLength="41" lengthAdjust="spacingAndGlyphs">% Location/total</text>
<text transform="translate(240.00,395.80)" font-size="7.5" text-anchor="middle" font-weight="normal" fill="#1a1a1a" >30 Days</text>
<rect x="216.50" y="413.16" width="6.40" height="42.24" fill="#8fa3d0" stroke="none" stroke-width="0.5" />
<line x1="219.70" y1="409.64" x2="219.70" y2="416.68" stroke="#1f3f86" stroke-width="0.5" />
<line x1="218.20" y1="409.64" x2="221.20" y2="409.64" stroke="#1f3f86" stroke-width="0.5" />
<line x1="218.20" y1="416.68" x2="221.20" y2="416.68" stroke="#1f3f86" stroke-width="0.5" />
<circle cx="218.30" cy="410.52" r="1.12" fill="#1f3f86" />
<circle cx="221.30" cy="409.64" r="1.12" fill="#1f3f86" />
<circle cx="219.70" cy="414.04" r="1.12" fill="#1f3f86" />
<circle cx="219.10" cy="416.68" r="1.12" fill="#1f3f86" />
<circle cx="220.90" cy="411.40" r="1.12" fill="#1f3f86" />
<line x1="219.70" y1="455.40" x2="219.70" y2="457.80" stroke="#231f20" stroke-width="0.6" />
<text transform="translate(221.10,462.80) rotate(-45)" font-size="6.0" text-anchor="end" font-weight="normal" fill="#2a2a2a" >Cortex</text>
<rect x="226.70" y="436.48" width="6.40" height="18.92" fill="#ef8b82" stroke="none" stroke-width="0.5" />
<line x1="229.90" y1="433.84" x2="229.90" y2="439.12" stroke="#d3202c" stroke-width="0.5" />
<line x1="228.40" y1="433.84" x2="231.40" y2="433.84" stroke="#d3202c" stroke-width="0.5" />
<line x1="228.40" y1="439.12" x2="231.40" y2="439.12" stroke="#d3202c" stroke-width="0.5" />
<circle cx="229.90" cy="432.96" r="1.12" fill="#d3202c" />
<circle cx="228.50" cy="436.92" r="1.12" fill="#d3202c" />
<circle cx="231.30" cy="436.92" r="1.12" fill="#d3202c" />
<circle cx="229.90" cy="437.80" r="1.12" fill="#d3202c" />
<line x1="229.90" y1="455.40" x2="229.90" y2="457.80" stroke="#231f20" stroke-width="0.6" />
<text transform="translate(231.30,462.80) rotate(-45)" font-size="6.0" text-anchor="end" font-weight="normal" fill="#2a2a2a" >Cerebellum</text>
<rect x="236.90" y="444.84" width="6.40" height="10.56" fill="#a9dc8f" stroke="none" stroke-width="0.5" />
<line x1="240.10" y1="443.52" x2="240.10" y2="446.16" stroke="#45a93a" stroke-width="0.5" />
<line x1="238.60" y1="443.52" x2="241.60" y2="443.52" stroke="#45a93a" stroke-width="0.5" />
<line x1="238.60" y1="446.16" x2="241.60" y2="446.16" stroke="#45a93a" stroke-width="0.5" />
<circle cx="238.50" cy="443.08" r="1.12" fill="#45a93a" />
<circle cx="240.10" cy="444.40" r="1.12" fill="#45a93a" />
<circle cx="241.70" cy="444.84" r="1.12" fill="#45a93a" />
<circle cx="240.10" cy="445.72" r="1.12" fill="#45a93a" />
<line x1="240.10" y1="455.40" x2="240.10" y2="457.80" stroke="#231f20" stroke-width="0.6" />
<text transform="translate(241.50,462.80) rotate(-45)" font-size="6.0" text-anchor="end" font-weight="normal" fill="#2a2a2a" >Thalamus</text>
<rect x="247.10" y="445.72" width="6.40" height="9.68" fill="#b18fc8" stroke="none" stroke-width="0.5" />
<line x1="250.30" y1="442.20" x2="250.30" y2="449.24" stroke="#4a1f80" stroke-width="0.5" />
<line x1="248.80" y1="442.20" x2="251.80" y2="442.20" stroke="#4a1f80" stroke-width="0.5" />
<line x1="248.80" y1="449.24" x2="251.80" y2="449.24" stroke="#4a1f80" stroke-width="0.5" />
<circle cx="250.30" cy="440.88" r="1.12" fill="#4a1f80" />
<circle cx="250.30" cy="444.84" r="1.12" fill="#4a1f80" />
<circle cx="249.10" cy="446.60" r="1.12" fill="#4a1f80" />
<circle cx="251.50" cy="447.48" r="1.12" fill="#4a1f80" />
<line x1="250.30" y1="455.40" x2="250.30" y2="457.80" stroke="#231f20" stroke-width="0.6" />
<text transform="translate(251.70,462.80) rotate(-45)" font-size="6.0" text-anchor="end" font-weight="normal" fill="#2a2a2a" >Pons + Medulla</text>
<rect x="257.30" y="452.76" width="6.40" height="2.64" fill="#ffc98f" stroke="none" stroke-width="0.5" />
<line x1="260.50" y1="451.70" x2="260.50" y2="453.82" stroke="#f39a1a" stroke-width="0.5" />
<line x1="259.00" y1="451.70" x2="262.00" y2="451.70" stroke="#f39a1a" stroke-width="0.5" />
<line x1="259.00" y1="453.82" x2="262.00" y2="453.82" stroke="#f39a1a" stroke-width="0.5" />
<circle cx="259.10" cy="453.20" r="1.12" fill="#f39a1a" />
<circle cx="260.50" cy="451.44" r="1.12" fill="#f39a1a" />
<circle cx="261.90" cy="452.76" r="1.12" fill="#f39a1a" />
<circle cx="261.10" cy="451.88" r="1.12" fill="#f39a1a" />
<line x1="260.50" y1="455.40" x2="260.50" y2="457.80" stroke="#231f20" stroke-width="0.6" />
<text transform="translate(261.90,462.80) rotate(-45)" font-size="6.0" text-anchor="end" font-weight="normal" fill="#2a2a2a" >Corpus Collosum</text>
<line x1="212.40" y1="400.00" x2="212.40" y2="455.85" stroke="#231f20" stroke-width="0.9" />
<line x1="211.95" y1="455.40" x2="267.00" y2="455.40" stroke="#231f20" stroke-width="0.9" />
<line x1="209.80" y1="455.40" x2="212.40" y2="455.40" stroke="#231f20" stroke-width="0.6" />
<text transform="translate(207.80,457.50)" font-size="5.9" text-anchor="end" font-weight="normal" fill="#2a2a2a" >0</text>
<line x1="209.80" y1="437.80" x2="212.40" y2="437.80" stroke="#231f20" stroke-width="0.6" />
<text transform="translate(207.80,439.90)" font-size="5.9" text-anchor="end" font-weight="normal" fill="#2a2a2a" >20</text>
<line x1="209.80" y1="420.20" x2="212.40" y2="420.20" stroke="#231f20" stroke-width="0.6" />
<text transform="translate(207.80,422.30)" font-size="5.9" text-anchor="end" font-weight="normal" fill="#2a2a2a" >40</text>
<line x1="209.80" y1="402.60" x2="212.40" y2="402.60" stroke="#231f20" stroke-width="0.6" />
<text transform="translate(207.80,404.70)" font-size="5.9" text-anchor="end" font-weight="normal" fill="#2a2a2a" >60</text>
<text transform="translate(195.40,427.60) rotate(-90)" font-size="6.9" text-anchor="middle" font-weight="bold" fill="#222"  textLength="41" lengthAdjust="spacingAndGlyphs">% Location/total</text>
<text transform="translate(278.00,392.00)" font-size="10.5" text-anchor="start" font-weight="bold" fill="#0a0a0a" stroke="#0a0a0a" stroke-width="0.25">J</text>
<rect x="315.60" y="453.15" width="7.20" height="2.25" fill="#8fa3d0" stroke="none" stroke-width="0.5" />
<line x1="319.20" y1="451.57" x2="319.20" y2="454.72" stroke="#1f3f86" stroke-width="0.5" />
<line x1="317.60" y1="451.57" x2="320.80" y2="451.57" stroke="#1f3f86" stroke-width="0.5" />
<line x1="317.60" y1="454.72" x2="320.80" y2="454.72" stroke="#1f3f86" stroke-width="0.5" />
<circle cx="317.20" cy="451.80" r="1.12" fill="#1f3f86" />
<circle cx="319.20" cy="452.70" r="1.12" fill="#1f3f86" />
<circle cx="321.20" cy="452.47" r="1.12" fill="#1f3f86" />
<circle cx="318.20" cy="454.50" r="1.12" fill="#1f3f86" />
<circle cx="320.20" cy="454.27" r="1.12" fill="#1f3f86" />
<line x1="319.20" y1="455.40" x2="319.20" y2="457.80" stroke="#231f20" stroke-width="0.6" />
<text transform="translate(320.40,462.00) rotate(-45)" font-size="6.0" text-anchor="end" font-weight="normal" fill="#2a2a2a" >Day 7</text>
<rect x="328.61" y="425.47" width="7.20" height="29.93" fill="#8fa3d0" stroke="none" stroke-width="0.5" />
<line x1="332.21" y1="416.92" x2="332.21" y2="434.02" stroke="#1f3f86" stroke-width="0.5" />
<line x1="330.61" y1="416.92" x2="333.81" y2="416.92" stroke="#1f3f86" stroke-width="0.5" />
<line x1="330.61" y1="434.02" x2="333.81" y2="434.02" stroke="#1f3f86" stroke-width="0.5" />
<circle cx="332.21" cy="414.90" r="1.12" fill="#1f3f86" />
<circle cx="332.21" cy="421.65" r="1.12" fill="#1f3f86" />
<circle cx="331.21" cy="427.27" r="1.12" fill="#1f3f86" />
<circle cx="333.41" cy="427.27" r="1.12" fill="#1f3f86" />
<circle cx="332.21" cy="434.02" r="1.12" fill="#1f3f86" />
<line x1="332.21" y1="455.40" x2="332.21" y2="457.80" stroke="#231f20" stroke-width="0.6" />
<text transform="translate(333.41,462.00) rotate(-45)" font-size="6.0" text-anchor="end" font-weight="normal" fill="#2a2a2a" >Day 12</text>
<rect x="341.63" y="425.47" width="7.20" height="29.93" fill="#8fa3d0" stroke="none" stroke-width="0.5" />
<line x1="345.23" y1="419.62" x2="345.23" y2="431.32" stroke="#1f3f86" stroke-width="0.5" />
<line x1="343.63" y1="419.62" x2="346.83" y2="419.62" stroke="#1f3f86" stroke-width="0.5" />
<line x1="343.63" y1="431.32" x2="346.83" y2="431.32" stroke="#1f3f86" stroke-width="0.5" />
<circle cx="343.63" cy="420.75" r="1.12" fill="#1f3f86" />
<circle cx="346.83" cy="420.75" r="1.12" fill="#1f3f86" />
<circle cx="345.23" cy="426.15" r="1.12" fill="#1f3f86" />
<circle cx="345.23" cy="432.90" r="1.12" fill="#1f3f86" />
<line x1="345.23" y1="455.40" x2="345.23" y2="457.80" stroke="#231f20" stroke-width="0.6" />
<text transform="translate(346.43,462.00) rotate(-45)" font-size="6.0" text-anchor="end" font-weight="normal" fill="#2a2a2a" >Day 30</text>
<text transform="translate(332.20,398.70)" font-size="5.85" text-anchor="middle" font-weight="normal" fill="#2a2a2a" >Cortex</text>
<rect x="354.64" y="453.60" width="7.20" height="1.80" fill="#ef8b82" stroke="none" stroke-width="0.5" />
<line x1="358.25" y1="452.25" x2="358.25" y2="454.95" stroke="#d3202c" stroke-width="0.5" />
<line x1="356.64" y1="452.25" x2="359.85" y2="452.25" stroke="#d3202c" stroke-width="0.5" />
<line x1="356.64" y1="454.95" x2="359.85" y2="454.95" stroke="#d3202c" stroke-width="0.5" />
<circle cx="356.25" cy="451.80" r="1.12" fill="#d3202c" />
<circle cx="358.25" cy="453.15" r="1.12" fill="#d3202c" />
<circle cx="360.25" cy="454.05" r="1.12" fill="#d3202c" />
<circle cx="357.25" cy="454.72" r="1.12" fill="#d3202c" />
<circle cx="359.44" cy="454.95" r="1.12" fill="#d3202c" />
<line x1="358.25" y1="455.40" x2="358.25" y2="457.80" stroke="#231f20" stroke-width="0.6" />
<text transform="translate(359.44,462.00) rotate(-45)" font-size="6.0" text-anchor="end" font-weight="normal" fill="#2a2a2a" >Day 7</text>
<rect x="367.66" y="429.07" width="7.20" height="26.32" fill="#ef8b82" stroke="none" stroke-width="0.5" />
<line x1="371.26" y1="423.22" x2="371.26" y2="434.92" stroke="#d3202c" stroke-width="0.5" />
<line x1="369.66" y1="423.22" x2="372.86" y2="423.22" stroke="#d3202c" stroke-width="0.5" />
<line x1="369.66" y1="434.92" x2="372.86" y2="434.92" stroke="#d3202c" stroke-width="0.5" />
<circle cx="371.26" cy="422.77" r="1.12" fill="#d3202c" />
<circle cx="369.86" cy="427.05" r="1.12" fill="#d3202c" />
<circle cx="372.66" cy="427.95" r="1.12" fill="#d3202c" />
<circle cx="371.26" cy="432.90" r="1.12" fill="#d3202c" />
<circle cx="371.26" cy="437.40" r="1.12" fill="#d3202c" />
<line x1="371.26" y1="455.40" x2="371.26" y2="457.80" stroke="#231f20" stroke-width="0.6" />
<text transform="translate(372.46,462.00) rotate(-45)" font-size="6.0" text-anchor="end" font-weight="normal" fill="#2a2a2a" >Day 12</text>
<rect x="380.67" y="433.35" width="7.20" height="22.05" fill="#ef8b82" stroke="none" stroke-width="0.5" />
<line x1="384.27" y1="427.95" x2="384.27" y2="438.75" stroke="#d3202c" stroke-width="0.5" />
<line x1="382.67" y1="427.95" x2="385.88" y2="427.95" stroke="#d3202c" stroke-width="0.5" />
<line x1="382.67" y1="438.75" x2="385.88" y2="438.75" stroke="#d3202c" stroke-width="0.5" />
<circle cx="382.47" cy="429.30" r="1.12" fill="#d3202c" />
<circle cx="385.88" cy="428.40" r="1.12" fill="#d3202c" />
<circle cx="384.27" cy="433.80" r="1.12" fill="#d3202c" />
<circle cx="384.27" cy="438.30" r="1.12" fill="#d3202c" />
<line x1="384.27" y1="455.40" x2="384.27" y2="457.80" stroke="#231f20" stroke-width="0.6" />
<text transform="translate(385.47,462.00) rotate(-45)" font-size="6.0" text-anchor="end" font-weight="normal" fill="#2a2a2a" >Day 30</text>
<text transform="translate(371.40,398.70)" font-size="5.85" text-anchor="middle" font-weight="normal" fill="#2a2a2a" >Cerebellum</text>
<rect x="393.69" y="453.15" width="7.20" height="2.25" fill="#a9dc8f" stroke="none" stroke-width="0.5" />
<line x1="397.29" y1="450.00" x2="397.29" y2="455.40" stroke="#45a93a" stroke-width="0.5" />
<line x1="395.69" y1="450.00" x2="398.89" y2="450.00" stroke="#45a93a" stroke-width="0.5" />
<circle cx="397.29" cy="447.75" r="1.12" fill="#45a93a" />
<circle cx="397.29" cy="450.90" r="1.12" fill="#45a93a" />
<circle cx="395.69" cy="454.05" r="1.12" fill="#45a93a" />
<circle cx="398.89" cy="454.05" r="1.12" fill="#45a93a" />
<circle cx="397.29" cy="454.72" r="1.12" fill="#45a93a" />
<line x1="397.29" y1="455.40" x2="397.29" y2="457.80" stroke="#231f20" stroke-width="0.6" />
<text transform="translate(398.49,462.00) rotate(-45)" font-size="6.0" text-anchor="end" font-weight="normal" fill="#2a2a2a" >Day 7</text>
<rect x="406.70" y="426.60" width="7.20" height="28.80" fill="#a9dc8f" stroke="none" stroke-width="0.5" />
<line x1="410.31" y1="420.75" x2="410.31" y2="432.45" stroke="#45a93a" stroke-width="0.5" />
<line x1="408.70" y1="420.75" x2="411.91" y2="420.75" stroke="#45a93a" stroke-width="0.5" />
<line x1="408.70" y1="432.45" x2="411.91" y2="432.45" stroke="#45a93a" stroke-width="0.5" />
<circle cx="408.70" cy="420.75" r="1.12" fill="#45a93a" />
<circle cx="411.91" cy="420.75" r="1.12" fill="#45a93a" />
<circle cx="408.70" cy="429.30" r="1.12" fill="#45a93a" />
<circle cx="411.91" cy="429.30" r="1.12" fill="#45a93a" />
<line x1="410.31" y1="455.40" x2="410.31" y2="457.80" stroke="#231f20" stroke-width="0.6" />
<text transform="translate(411.50,462.00) rotate(-45)" font-size="6.0" text-anchor="end" font-weight="normal" fill="#2a2a2a" >Day 12</text>
<rect x="419.72" y="427.50" width="7.20" height="27.90" fill="#a9dc8f" stroke="none" stroke-width="0.5" />
<line x1="423.32" y1="418.05" x2="423.32" y2="436.95" stroke="#45a93a" stroke-width="0.5" />
<line x1="421.72" y1="418.05" x2="424.92" y2="418.05" stroke="#45a93a" stroke-width="0.5" />
<line x1="421.72" y1="436.95" x2="424.92" y2="436.95" stroke="#45a93a" stroke-width="0.5" />
<circle cx="421.72" cy="418.50" r="1.12" fill="#45a93a" />
<circle cx="424.92" cy="418.50" r="1.12" fill="#45a93a" />
<circle cx="421.72" cy="435.15" r="1.12" fill="#45a93a" />
<circle cx="424.92" cy="434.25" r="1.12" fill="#45a93a" />
<line x1="423.32" y1="455.40" x2="423.32" y2="457.80" stroke="#231f20" stroke-width="0.6" />
<text transform="translate(424.52,462.00) rotate(-45)" font-size="6.0" text-anchor="end" font-weight="normal" fill="#2a2a2a" >Day 30</text>
<text transform="translate(409.80,398.70)" font-size="5.85" text-anchor="middle" font-weight="normal" fill="#2a2a2a" >Thalamus</text>
<rect x="432.73" y="453.60" width="7.20" height="1.80" fill="#b18fc8" stroke="none" stroke-width="0.5" />
<line x1="436.33" y1="452.47" x2="436.33" y2="454.72" stroke="#4a1f80" stroke-width="0.5" />
<line x1="434.73" y1="452.47" x2="437.94" y2="452.47" stroke="#4a1f80" stroke-width="0.5" />
<line x1="434.73" y1="454.72" x2="437.94" y2="454.72" stroke="#4a1f80" stroke-width="0.5" />
<circle cx="434.33" cy="452.70" r="1.12" fill="#4a1f80" />
<circle cx="436.33" cy="454.27" r="1.12" fill="#4a1f80" />
<circle cx="438.33" cy="452.47" r="1.12" fill="#4a1f80" />
<circle cx="435.33" cy="454.95" r="1.12" fill="#4a1f80" />
<circle cx="437.33" cy="453.60" r="1.12" fill="#4a1f80" />
<line x1="436.33" y1="455.40" x2="436.33" y2="457.80" stroke="#231f20" stroke-width="0.6" />
<text transform="translate(437.53,462.00) rotate(-45)" font-size="6.0" text-anchor="end" font-weight="normal" fill="#2a2a2a" >Day 7</text>
<rect x="445.75" y="436.50" width="7.20" height="18.90" fill="#b18fc8" stroke="none" stroke-width="0.5" />
<line x1="449.35" y1="428.40" x2="449.35" y2="444.60" stroke="#4a1f80" stroke-width="0.5" />
<line x1="447.75" y1="428.40" x2="450.95" y2="428.40" stroke="#4a1f80" stroke-width="0.5" />
<line x1="447.75" y1="444.60" x2="450.95" y2="444.60" stroke="#4a1f80" stroke-width="0.5" />
<circle cx="449.35" cy="427.05" r="1.12" fill="#4a1f80" />
<circle cx="449.35" cy="432.90" r="1.12" fill="#4a1f80" />
<circle cx="447.95" cy="438.30" r="1.12" fill="#4a1f80" />
<circle cx="450.75" cy="438.30" r="1.12" fill="#4a1f80" />
<circle cx="449.35" cy="441.90" r="1.12" fill="#4a1f80" />
<line x1="449.35" y1="455.40" x2="449.35" y2="457.80" stroke="#231f20" stroke-width="0.6" />
<text transform="translate(450.55,462.00) rotate(-45)" font-size="6.0" text-anchor="end" font-weight="normal" fill="#2a2a2a" >Day 12</text>
<rect x="458.76" y="445.27" width="7.20" height="10.12" fill="#b18fc8" stroke="none" stroke-width="0.5" />
<line x1="462.37" y1="441.22" x2="462.37" y2="449.32" stroke="#4a1f80" stroke-width="0.5" />
<line x1="460.76" y1="441.22" x2="463.97" y2="441.22" stroke="#4a1f80" stroke-width="0.5" />
<line x1="460.76" y1="449.32" x2="463.97" y2="449.32" stroke="#4a1f80" stroke-width="0.5" />
<circle cx="460.56" cy="442.80" r="1.12" fill="#4a1f80" />
<circle cx="464.17" cy="441.90" r="1.12" fill="#4a1f80" />
<circle cx="462.37" cy="446.85" r="1.12" fill="#4a1f80" />
<circle cx="462.37" cy="449.55" r="1.12" fill="#4a1f80" />
<line x1="462.37" y1="455.40" x2="462.37" y2="457.80" stroke="#231f20" stroke-width="0.6" />
<text transform="translate(463.56,462.00) rotate(-45)" font-size="6.0" text-anchor="end" font-weight="normal" fill="#2a2a2a" >Day 30</text>
<text transform="translate(449.20,398.70)" font-size="5.85" text-anchor="middle" font-weight="normal" fill="#2a2a2a" >Pons +</text>
<text transform="translate(449.20,405.90)" font-size="5.85" text-anchor="middle" font-weight="normal" fill="#2a2a2a" >Medulla</text>
<rect x="471.78" y="454.50" width="7.20" height="0.90" fill="#ffc98f" stroke="none" stroke-width="0.5" />
<line x1="475.38" y1="453.38" x2="475.38" y2="455.40" stroke="#f39a1a" stroke-width="0.5" />
<line x1="473.78" y1="453.38" x2="476.98" y2="453.38" stroke="#f39a1a" stroke-width="0.5" />
<circle cx="473.38" cy="453.60" r="1.12" fill="#f39a1a" />
<circle cx="475.38" cy="454.95" r="1.12" fill="#f39a1a" />
<circle cx="477.38" cy="453.38" r="1.12" fill="#f39a1a" />
<circle cx="474.38" cy="455.17" r="1.12" fill="#f39a1a" />
<circle cx="476.38" cy="454.72" r="1.12" fill="#f39a1a" />
<line x1="475.38" y1="455.40" x2="475.38" y2="457.80" stroke="#231f20" stroke-width="0.6" />
<text transform="translate(476.58,462.00) rotate(-45)" font-size="6.0" text-anchor="end" font-weight="normal" fill="#2a2a2a" >Day 7</text>
<rect x="484.79" y="421.65" width="7.20" height="33.75" fill="#ffc98f" stroke="none" stroke-width="0.5" />
<line x1="488.39" y1="413.55" x2="488.39" y2="429.75" stroke="#f39a1a" stroke-width="0.5" />
<line x1="486.79" y1="413.55" x2="490.00" y2="413.55" stroke="#f39a1a" stroke-width="0.5" />
<line x1="486.79" y1="429.75" x2="490.00" y2="429.75" stroke="#f39a1a" stroke-width="0.5" />
<circle cx="488.39" cy="411.30" r="1.12" fill="#f39a1a" />
<circle cx="488.39" cy="415.80" r="1.12" fill="#f39a1a" />
<circle cx="487.00" cy="421.65" r="1.12" fill="#f39a1a" />
<circle cx="489.79" cy="421.65" r="1.12" fill="#f39a1a" />
<circle cx="488.39" cy="437.40" r="1.12" fill="#f39a1a" />
<line x1="488.39" y1="455.40" x2="488.39" y2="457.80" stroke="#231f20" stroke-width="0.6" />
<text transform="translate(489.59,462.00) rotate(-45)" font-size="6.0" text-anchor="end" font-weight="normal" fill="#2a2a2a" >Day 12</text>
<rect x="497.81" y="435.15" width="7.20" height="20.25" fill="#ffc98f" stroke="none" stroke-width="0.5" />
<line x1="501.41" y1="427.05" x2="501.41" y2="443.25" stroke="#f39a1a" stroke-width="0.5" />
<line x1="499.81" y1="427.05" x2="503.01" y2="427.05" stroke="#f39a1a" stroke-width="0.5" />
<line x1="499.81" y1="443.25" x2="503.01" y2="443.25" stroke="#f39a1a" stroke-width="0.5" />
<circle cx="501.41" cy="425.25" r="1.12" fill="#f39a1a" />
<circle cx="501.41" cy="430.65" r="1.12" fill="#f39a1a" />
<circle cx="500.01" cy="436.05" r="1.12" fill="#f39a1a" />
<circle cx="502.81" cy="436.05" r="1.12" fill="#f39a1a" />
<circle cx="501.41" cy="444.15" r="1.12" fill="#f39a1a" />
<line x1="501.41" y1="455.40" x2="501.41" y2="457.80" stroke="#231f20" stroke-width="0.6" />
<text transform="translate(502.61,462.00) rotate(-45)" font-size="6.0" text-anchor="end" font-weight="normal" fill="#2a2a2a" >Day 30</text>
<text transform="translate(488.30,398.70)" font-size="5.85" text-anchor="middle" font-weight="normal" fill="#2a2a2a" >Corpus</text>
<text transform="translate(488.30,405.90)" font-size="5.85" text-anchor="middle" font-weight="normal" fill="#2a2a2a" >Callosum</text>
<line x1="309.90" y1="397.20" x2="309.90" y2="455.85" stroke="#231f20" stroke-width="0.9" />
<line x1="309.45" y1="455.40" x2="510.40" y2="455.40" stroke="#231f20" stroke-width="0.9" />
<line x1="307.30" y1="455.40" x2="309.90" y2="455.40" stroke="#231f20" stroke-width="0.6" />
<text transform="translate(305.30,457.50)" font-size="5.9" text-anchor="end" font-weight="normal" fill="#2a2a2a" >0</text>
<line x1="307.30" y1="444.15" x2="309.90" y2="444.15" stroke="#231f20" stroke-width="0.6" />
<text transform="translate(305.30,446.25)" font-size="5.9" text-anchor="end" font-weight="normal" fill="#2a2a2a" >5</text>
<line x1="307.30" y1="432.90" x2="309.90" y2="432.90" stroke="#231f20" stroke-width="0.6" />
<text transform="translate(305.30,435.00)" font-size="5.9" text-anchor="end" font-weight="normal" fill="#2a2a2a" >10</text>
<line x1="307.30" y1="421.65" x2="309.90" y2="421.65" stroke="#231f20" stroke-width="0.6" />
<text transform="translate(305.30,423.75)" font-size="5.9" text-anchor="end" font-weight="normal" fill="#2a2a2a" >15</text>
<line x1="307.30" y1="410.40" x2="309.90" y2="410.40" stroke="#231f20" stroke-width="0.6" />
<text transform="translate(305.30,412.50)" font-size="5.9" text-anchor="end" font-weight="normal" fill="#2a2a2a" >20</text>
<line x1="307.30" y1="399.15" x2="309.90" y2="399.15" stroke="#231f20" stroke-width="0.6" />
<text transform="translate(305.30,401.25)" font-size="5.9" text-anchor="end" font-weight="normal" fill="#2a2a2a" >25</text>
<text transform="translate(293.40,425.00) rotate(-90)" font-size="6.9" text-anchor="middle" font-weight="bold" fill="#222"  textLength="27" lengthAdjust="spacingAndGlyphs">Cells/mm<tspan font-size="4.2" dy="-2.3">2</tspan></text>
<rect x="0.5" y="0.5" width="519" height="501" fill="none" stroke="#555" stroke-width="1"/>
</svg>
</body></html>
